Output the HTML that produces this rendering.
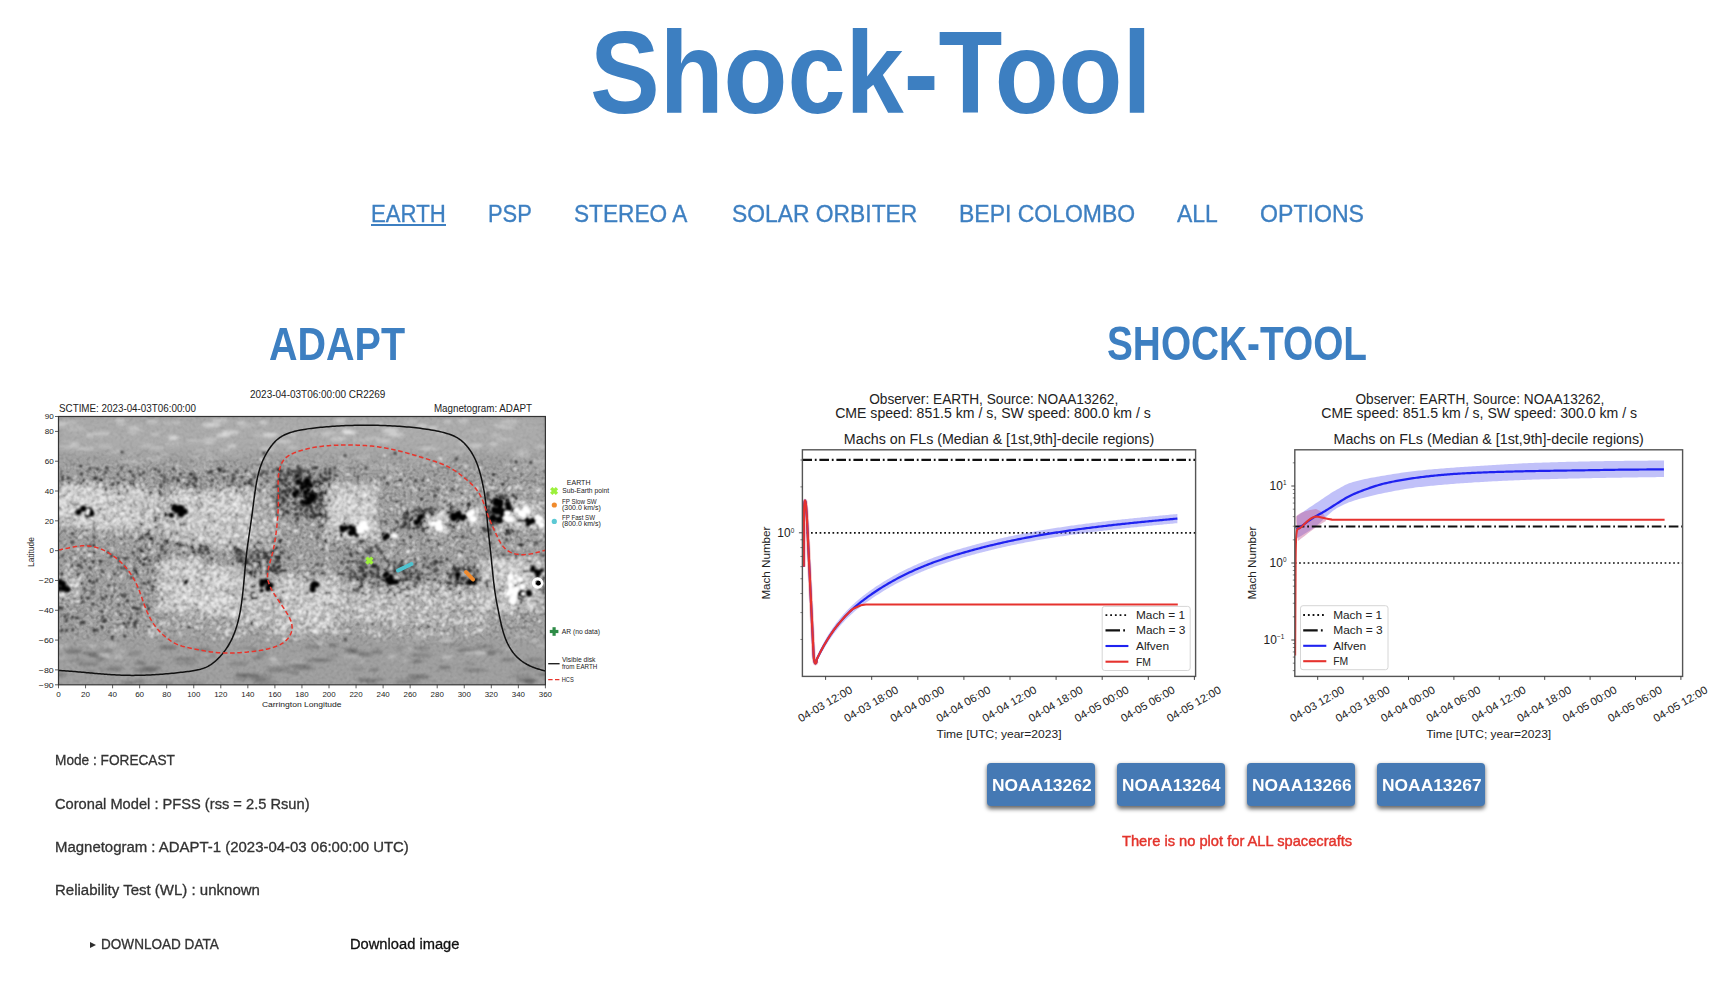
<!DOCTYPE html>
<html><head><meta charset="utf-8"><title>Shock-Tool</title>
<style>
html,body{margin:0;padding:0;background:#fff;width:1722px;height:986px;overflow:hidden}
body{position:relative;font-family:"Liberation Sans",sans-serif}
.t{position:absolute;white-space:nowrap;transform-origin:0 0}
.btn{position:absolute;background:#4579b4;border-radius:4px;box-shadow:0 2.5px 4px rgba(0,0,0,.6)}
svg{position:absolute;left:0;top:0}
svg text{font-family:"Liberation Sans",sans-serif}
</style></head><body>
<svg width="1722" height="986" viewBox="0 0 1722 986">
<defs>
<filter id="b1" x="-50%" y="-50%" width="200%" height="200%"><feGaussianBlur stdDeviation="1.2"/></filter>
<filter id="b2" x="-50%" y="-50%" width="200%" height="200%"><feGaussianBlur stdDeviation="2.5"/></filter>
<filter id="b4" x="-50%" y="-50%" width="200%" height="200%"><feGaussianBlur stdDeviation="5"/></filter>
<filter id="b8" x="-50%" y="-50%" width="200%" height="200%"><feGaussianBlur stdDeviation="8"/></filter>
<filter id="noiseW" x="0" y="0" width="100%" height="100%"><feTurbulence type="fractalNoise" baseFrequency="0.45" numOctaves="1" seed="7"/><feColorMatrix type="matrix" values="0 0 0 0 1  0 0 0 0 1  0 0 0 0 1  0 0 0 -9 4.6"/><feGaussianBlur stdDeviation="0.5"/></filter>
<filter id="noiseB" x="0" y="0" width="100%" height="100%"><feTurbulence type="fractalNoise" baseFrequency="0.45" numOctaves="1" seed="21"/><feColorMatrix type="matrix" values="0 0 0 0 0  0 0 0 0 0  0 0 0 0 0  0 0 0 -9 4.6"/><feGaussianBlur stdDeviation="0.5"/></filter>
<filter id="b09" x="-50%" y="-50%" width="200%" height="200%"><feGaussianBlur stdDeviation="0.9"/></filter>
<filter id="b07" filterUnits="userSpaceOnUse" x="0" y="380" width="620" height="340"><feGaussianBlur stdDeviation="1.0"/></filter>
<filter id="b15" filterUnits="userSpaceOnUse" x="0" y="380" width="620" height="340"><feGaussianBlur stdDeviation="1.5"/></filter>
<filter id="texW" x="0" y="0" width="100%" height="100%"><feTurbulence type="fractalNoise" baseFrequency="0.3" numOctaves="1" seed="77"/><feColorMatrix type="matrix" values="0 0 0 0 1  0 0 0 0 1  0 0 0 0 1  3 0 0 0 -1.4"/><feGaussianBlur stdDeviation="0.6"/></filter>
<filter id="texD" x="0" y="0" width="100%" height="100%"><feTurbulence type="fractalNoise" baseFrequency="0.3" numOctaves="1" seed="91"/><feColorMatrix type="matrix" values="0 0 0 0 0  0 0 0 0 0  0 0 0 0 0  3 0 0 0 -1.4"/><feGaussianBlur stdDeviation="0.6"/></filter>
<filter id="b05" x="-50%" y="-50%" width="200%" height="200%"><feGaussianBlur stdDeviation="0.6"/></filter>
<filter id="nW" x="0" y="0" width="100%" height="100%"><feTurbulence type="fractalNoise" baseFrequency="0.22" numOctaves="1" seed="7"/><feColorMatrix type="matrix" values="0 0 0 0 1  0 0 0 0 1  0 0 0 0 1  14 0 0 0 -8.1"/><feGaussianBlur stdDeviation="0.55"/></filter>
<filter id="nD" x="0" y="0" width="100%" height="100%"><feTurbulence type="fractalNoise" baseFrequency="0.22" numOctaves="1" seed="19"/><feColorMatrix type="matrix" values="0 0 0 0 0  0 0 0 0 0  0 0 0 0 0  14 0 0 0 -8.3"/><feGaussianBlur stdDeviation="0.55"/></filter>
<filter id="nW2" x="0" y="0" width="100%" height="100%"><feTurbulence type="fractalNoise" baseFrequency="0.22" numOctaves="1" seed="41"/><feColorMatrix type="matrix" values="0 0 0 0 1  0 0 0 0 1  0 0 0 0 1  14 0 0 0 -9.0"/><feGaussianBlur stdDeviation="0.55"/></filter>
<filter id="nD2" x="0" y="0" width="100%" height="100%"><feTurbulence type="fractalNoise" baseFrequency="0.22" numOctaves="1" seed="53"/><feColorMatrix type="matrix" values="0 0 0 0 0  0 0 0 0 0  0 0 0 0 0  14 0 0 0 -9.0"/><feGaussianBlur stdDeviation="0.55"/></filter>
<clipPath id="mclip"><rect x="58.5" y="416.5" width="486.9" height="268.3"/></clipPath>
<clipPath id="c1clip"><rect x="802.4" y="449.8" width="393.2" height="226.6"/></clipPath>
<clipPath id="c2clip"><rect x="1294.8" y="449.8" width="387.8" height="226.6"/></clipPath>
</defs>
<g clip-path="url(#mclip)">
<rect x="58.5" y="416.5" width="486.9" height="268.29999999999995" fill="#9f9f9f"/>
<mask id="mG" maskUnits="userSpaceOnUse" x="0" y="380" width="620" height="340"><rect x="30" y="462" width="550" height="175" fill="#fff" filter="url(#b8)"/></mask>
<rect x="58.5" y="416.5" width="486.9" height="268.29999999999995" filter="url(#texW)" opacity="0.07"/>
<rect x="58.5" y="416.5" width="486.9" height="268.29999999999995" filter="url(#texD)" opacity="0.07"/>
<rect x="58.5" y="416.5" width="486.9" height="268.29999999999995" filter="url(#texW)" opacity="0.22" mask="url(#mG)"/>
<rect x="58.5" y="416.5" width="486.9" height="268.29999999999995" filter="url(#texD)" opacity="0.2" mask="url(#mG)"/>
<rect x="58.5" y="416.5" width="486.9" height="36" fill="#fff" opacity="0.13" filter="url(#b4)"/>
<g fill="#fff" filter="url(#b15)"><ellipse cx="363.2" cy="457.1" rx="9.7" ry="2.1" opacity="0.19"/><ellipse cx="509.9" cy="421.5" rx="9.7" ry="2.0" opacity="0.29"/><ellipse cx="499.4" cy="425.7" rx="5.5" ry="1.9" opacity="0.29"/><ellipse cx="339.2" cy="420.7" rx="5.7" ry="2.3" opacity="0.22"/><ellipse cx="433.2" cy="428.0" rx="4.8" ry="2.0" opacity="0.39"/><ellipse cx="120.1" cy="420.1" rx="5.3" ry="1.5" opacity="0.41"/><ellipse cx="539.4" cy="463.6" rx="9.8" ry="1.9" opacity="0.12"/><ellipse cx="390.1" cy="430.2" rx="8.1" ry="2.4" opacity="0.43"/><ellipse cx="495.9" cy="434.9" rx="5.0" ry="1.5" opacity="0.26"/><ellipse cx="89.9" cy="435.1" rx="4.0" ry="2.0" opacity="0.33"/><ellipse cx="223.6" cy="435.5" rx="6.9" ry="1.6" opacity="0.40"/><ellipse cx="293.8" cy="455.2" rx="9.9" ry="1.3" opacity="0.08"/><ellipse cx="425.4" cy="462.2" rx="8.7" ry="1.7" opacity="0.08"/><ellipse cx="341.5" cy="420.5" rx="5.1" ry="2.4" opacity="0.16"/><ellipse cx="154.3" cy="457.8" rx="9.7" ry="1.7" opacity="0.21"/><ellipse cx="231.8" cy="446.2" rx="4.6" ry="2.1" opacity="0.38"/><ellipse cx="448.6" cy="463.0" rx="9.7" ry="1.4" opacity="0.08"/><ellipse cx="225.0" cy="450.5" rx="6.0" ry="2.3" opacity="0.21"/><ellipse cx="325.1" cy="435.6" rx="5.1" ry="1.4" opacity="0.25"/><ellipse cx="130.9" cy="454.5" rx="5.0" ry="1.4" opacity="0.22"/><ellipse cx="541.5" cy="446.7" rx="5.4" ry="2.0" opacity="0.27"/><ellipse cx="462.9" cy="442.8" rx="4.3" ry="2.3" opacity="0.28"/><ellipse cx="74.0" cy="444.7" rx="4.8" ry="2.1" opacity="0.40"/><ellipse cx="523.4" cy="451.5" rx="4.6" ry="1.8" opacity="0.19"/><ellipse cx="131.1" cy="462.2" rx="6.7" ry="2.4" opacity="0.12"/><ellipse cx="475.6" cy="468.8" rx="6.9" ry="2.1" opacity="0.14"/><ellipse cx="292.7" cy="434.6" rx="4.9" ry="1.7" opacity="0.27"/><ellipse cx="542.3" cy="468.0" rx="7.0" ry="1.7" opacity="0.17"/><ellipse cx="101.7" cy="433.6" rx="9.2" ry="1.7" opacity="0.38"/><ellipse cx="443.2" cy="458.7" rx="8.0" ry="2.1" opacity="0.18"/><ellipse cx="236.1" cy="455.2" rx="6.9" ry="2.1" opacity="0.12"/><ellipse cx="396.5" cy="434.7" rx="7.9" ry="1.9" opacity="0.43"/><ellipse cx="63.7" cy="447.3" rx="8.0" ry="1.8" opacity="0.23"/><ellipse cx="458.2" cy="452.4" rx="6.1" ry="2.0" opacity="0.19"/><ellipse cx="419.5" cy="461.4" rx="9.1" ry="2.3" opacity="0.13"/><ellipse cx="395.3" cy="468.8" rx="7.1" ry="1.9" opacity="0.22"/><ellipse cx="139.4" cy="461.8" rx="6.9" ry="2.1" opacity="0.22"/><ellipse cx="410.6" cy="456.5" rx="8.7" ry="1.9" opacity="0.10"/><ellipse cx="384.1" cy="441.0" rx="8.6" ry="2.0" opacity="0.34"/><ellipse cx="411.0" cy="421.4" rx="6.6" ry="2.0" opacity="0.20"/><ellipse cx="165.3" cy="454.3" rx="4.3" ry="1.8" opacity="0.17"/><ellipse cx="168.9" cy="422.7" rx="5.9" ry="1.5" opacity="0.19"/><ellipse cx="152.7" cy="421.8" rx="6.3" ry="2.0" opacity="0.29"/><ellipse cx="347.2" cy="431.9" rx="4.0" ry="1.7" opacity="0.42"/><ellipse cx="194.5" cy="440.5" rx="9.0" ry="1.7" opacity="0.18"/><ellipse cx="75.7" cy="450.7" rx="7.3" ry="1.7" opacity="0.09"/><ellipse cx="342.6" cy="467.9" rx="6.5" ry="2.2" opacity="0.20"/><ellipse cx="372.7" cy="438.5" rx="7.6" ry="1.9" opacity="0.19"/><ellipse cx="527.0" cy="468.4" rx="6.1" ry="2.3" opacity="0.17"/><ellipse cx="58.5" cy="425.4" rx="7.7" ry="1.5" opacity="0.32"/><ellipse cx="366.4" cy="464.6" rx="6.6" ry="1.5" opacity="0.13"/><ellipse cx="200.8" cy="468.6" rx="9.8" ry="2.3" opacity="0.13"/><ellipse cx="349.9" cy="433.0" rx="7.0" ry="1.8" opacity="0.44"/><ellipse cx="214.4" cy="469.2" rx="5.7" ry="1.8" opacity="0.15"/><ellipse cx="117.7" cy="451.1" rx="5.8" ry="2.2" opacity="0.14"/><ellipse cx="463.1" cy="420.7" rx="5.6" ry="2.3" opacity="0.31"/><ellipse cx="441.1" cy="432.3" rx="4.9" ry="2.4" opacity="0.23"/><ellipse cx="201.7" cy="450.4" rx="7.9" ry="2.0" opacity="0.15"/><ellipse cx="422.3" cy="425.9" rx="5.8" ry="1.9" opacity="0.38"/><ellipse cx="222.7" cy="434.8" rx="6.8" ry="1.7" opacity="0.31"/><ellipse cx="423.1" cy="449.5" rx="5.5" ry="1.8" opacity="0.16"/><ellipse cx="507.1" cy="464.4" rx="4.1" ry="2.2" opacity="0.16"/><ellipse cx="267.6" cy="448.8" rx="7.8" ry="1.8" opacity="0.36"/><ellipse cx="504.7" cy="439.3" rx="9.1" ry="1.5" opacity="0.27"/><ellipse cx="203.3" cy="461.5" rx="9.0" ry="2.1" opacity="0.08"/><ellipse cx="270.1" cy="434.3" rx="9.5" ry="1.5" opacity="0.38"/><ellipse cx="292.4" cy="447.5" rx="6.0" ry="1.5" opacity="0.30"/><ellipse cx="345.1" cy="460.6" rx="5.4" ry="2.2" opacity="0.09"/><ellipse cx="446.0" cy="453.2" rx="8.3" ry="2.4" opacity="0.08"/><ellipse cx="547.2" cy="455.1" rx="9.1" ry="1.5" opacity="0.08"/><ellipse cx="374.4" cy="467.6" rx="4.8" ry="1.6" opacity="0.18"/><ellipse cx="507.8" cy="427.5" rx="6.5" ry="1.5" opacity="0.33"/><ellipse cx="363.0" cy="422.2" rx="6.3" ry="1.4" opacity="0.18"/><ellipse cx="86.2" cy="448.8" rx="9.3" ry="1.4" opacity="0.37"/><ellipse cx="269.5" cy="435.7" rx="6.9" ry="2.3" opacity="0.33"/><ellipse cx="241.4" cy="422.8" rx="4.9" ry="2.0" opacity="0.36"/><ellipse cx="305.9" cy="465.5" rx="7.7" ry="1.6" opacity="0.16"/><ellipse cx="328.3" cy="432.7" rx="7.1" ry="1.4" opacity="0.38"/><ellipse cx="172.9" cy="438.6" rx="5.1" ry="2.1" opacity="0.37"/><ellipse cx="379.0" cy="424.3" rx="4.5" ry="1.4" opacity="0.35"/><ellipse cx="349.0" cy="431.9" rx="6.9" ry="1.7" opacity="0.41"/><ellipse cx="448.3" cy="421.5" rx="4.3" ry="1.5" opacity="0.37"/><ellipse cx="524.5" cy="454.1" rx="4.7" ry="2.4" opacity="0.11"/><ellipse cx="383.9" cy="461.0" rx="7.7" ry="1.7" opacity="0.10"/><ellipse cx="173.2" cy="436.7" rx="6.1" ry="1.7" opacity="0.33"/><ellipse cx="124.8" cy="461.6" rx="8.8" ry="1.8" opacity="0.17"/><ellipse cx="475.3" cy="445.9" rx="7.4" ry="2.1" opacity="0.33"/><ellipse cx="251.8" cy="424.8" rx="5.2" ry="1.3" opacity="0.16"/><ellipse cx="493.7" cy="444.0" rx="4.0" ry="1.8" opacity="0.38"/><ellipse cx="494.0" cy="451.0" rx="6.8" ry="1.4" opacity="0.14"/><ellipse cx="133.8" cy="428.0" rx="6.3" ry="2.3" opacity="0.26"/><ellipse cx="132.5" cy="432.7" rx="5.0" ry="1.6" opacity="0.23"/><ellipse cx="173.2" cy="444.1" rx="9.5" ry="1.7" opacity="0.16"/><ellipse cx="517.6" cy="454.4" rx="6.8" ry="2.3" opacity="0.18"/><ellipse cx="115.8" cy="453.4" rx="8.0" ry="2.1" opacity="0.12"/><ellipse cx="138.0" cy="430.1" rx="5.4" ry="1.4" opacity="0.16"/><ellipse cx="254.5" cy="468.7" rx="5.9" ry="1.8" opacity="0.13"/><ellipse cx="196.7" cy="456.6" rx="5.0" ry="1.6" opacity="0.18"/><ellipse cx="387.4" cy="467.0" rx="6.6" ry="2.4" opacity="0.17"/><ellipse cx="61.1" cy="423.0" rx="6.5" ry="1.3" opacity="0.38"/><ellipse cx="326.7" cy="469.5" rx="6.1" ry="1.4" opacity="0.15"/><ellipse cx="92.9" cy="464.9" rx="9.6" ry="1.4" opacity="0.15"/><ellipse cx="177.3" cy="422.5" rx="4.4" ry="1.6" opacity="0.27"/><ellipse cx="257.7" cy="435.3" rx="4.2" ry="2.4" opacity="0.17"/><ellipse cx="145.9" cy="445.4" rx="7.2" ry="1.4" opacity="0.27"/><ellipse cx="211.8" cy="425.4" rx="9.5" ry="2.0" opacity="0.31"/><ellipse cx="477.8" cy="430.7" rx="7.2" ry="1.8" opacity="0.16"/><ellipse cx="338.0" cy="438.8" rx="8.4" ry="2.3" opacity="0.34"/><ellipse cx="208.7" cy="442.5" rx="5.3" ry="1.4" opacity="0.40"/><ellipse cx="210.7" cy="424.4" rx="8.9" ry="1.6" opacity="0.38"/><ellipse cx="121.6" cy="424.1" rx="4.5" ry="1.8" opacity="0.22"/><ellipse cx="340.7" cy="432.3" rx="8.2" ry="1.4" opacity="0.17"/><ellipse cx="155.9" cy="434.3" rx="4.6" ry="1.8" opacity="0.26"/><ellipse cx="211.8" cy="457.6" rx="9.4" ry="2.0" opacity="0.16"/><ellipse cx="430.3" cy="448.7" rx="8.9" ry="2.0" opacity="0.28"/><ellipse cx="525.8" cy="456.4" rx="5.6" ry="2.2" opacity="0.18"/><ellipse cx="245.4" cy="426.5" rx="5.0" ry="1.6" opacity="0.17"/><ellipse cx="389.2" cy="434.3" rx="8.6" ry="1.9" opacity="0.17"/><ellipse cx="71.5" cy="422.5" rx="6.1" ry="2.2" opacity="0.19"/><ellipse cx="523.1" cy="450.6" rx="6.6" ry="1.7" opacity="0.11"/><ellipse cx="219.9" cy="420.6" rx="9.0" ry="2.1" opacity="0.33"/><ellipse cx="104.7" cy="446.5" rx="8.3" ry="1.8" opacity="0.20"/><ellipse cx="517.9" cy="459.7" rx="5.9" ry="2.3" opacity="0.09"/><ellipse cx="283.9" cy="441.7" rx="8.6" ry="2.3" opacity="0.28"/><ellipse cx="319.0" cy="468.5" rx="4.6" ry="2.2" opacity="0.16"/><ellipse cx="263.5" cy="422.6" rx="4.2" ry="1.9" opacity="0.44"/><ellipse cx="294.2" cy="464.1" rx="5.3" ry="1.6" opacity="0.13"/><ellipse cx="156.6" cy="448.1" rx="8.5" ry="1.6" opacity="0.26"/><ellipse cx="230.4" cy="432.4" rx="9.0" ry="2.2" opacity="0.44"/><ellipse cx="360.9" cy="440.0" rx="9.0" ry="1.8" opacity="0.19"/><ellipse cx="76.5" cy="428.5" rx="8.3" ry="2.3" opacity="0.18"/><ellipse cx="155.7" cy="459.9" rx="8.1" ry="2.2" opacity="0.12"/><ellipse cx="363.3" cy="460.0" rx="4.1" ry="1.9" opacity="0.13"/><ellipse cx="345.5" cy="429.2" rx="5.9" ry="1.3" opacity="0.27"/><ellipse cx="210.9" cy="439.1" rx="8.2" ry="1.7" opacity="0.29"/><ellipse cx="539.4" cy="460.8" rx="8.2" ry="2.0" opacity="0.21"/><ellipse cx="321.0" cy="459.9" rx="7.6" ry="2.0" opacity="0.13"/><ellipse cx="313.9" cy="434.2" rx="4.5" ry="1.7" opacity="0.17"/><ellipse cx="342.4" cy="458.0" rx="5.8" ry="2.3" opacity="0.18"/><ellipse cx="192.6" cy="455.8" rx="8.5" ry="2.0" opacity="0.09"/></g>
<g fill="#000" filter="url(#b15)"><ellipse cx="526.9" cy="680.0" rx="10.5" ry="2.0" opacity="0.26"/><ellipse cx="357.4" cy="653.1" rx="9.1" ry="2.1" opacity="0.15"/><ellipse cx="535.6" cy="666.2" rx="8.1" ry="1.2" opacity="0.19"/><ellipse cx="145.3" cy="670.5" rx="12.2" ry="2.1" opacity="0.23"/><ellipse cx="247.5" cy="649.2" rx="10.5" ry="1.8" opacity="0.26"/><ellipse cx="241.3" cy="679.6" rx="6.7" ry="1.5" opacity="0.16"/><ellipse cx="362.9" cy="680.0" rx="6.3" ry="1.8" opacity="0.27"/><ellipse cx="168.1" cy="647.4" rx="9.5" ry="2.0" opacity="0.29"/><ellipse cx="414.7" cy="661.3" rx="8.4" ry="1.7" opacity="0.30"/><ellipse cx="206.1" cy="655.9" rx="9.8" ry="2.2" opacity="0.14"/><ellipse cx="72.9" cy="649.5" rx="9.5" ry="1.8" opacity="0.14"/><ellipse cx="151.2" cy="668.2" rx="10.2" ry="1.9" opacity="0.26"/><ellipse cx="88.1" cy="663.9" rx="11.7" ry="2.2" opacity="0.17"/><ellipse cx="474.7" cy="670.2" rx="12.4" ry="1.4" opacity="0.25"/><ellipse cx="470.0" cy="663.6" rx="5.8" ry="1.4" opacity="0.13"/><ellipse cx="103.5" cy="650.9" rx="9.9" ry="1.3" opacity="0.27"/><ellipse cx="418.7" cy="676.8" rx="11.4" ry="1.9" opacity="0.30"/><ellipse cx="526.9" cy="669.4" rx="12.7" ry="1.3" opacity="0.12"/><ellipse cx="89.6" cy="653.1" rx="8.0" ry="1.7" opacity="0.25"/><ellipse cx="422.0" cy="648.3" rx="8.2" ry="1.7" opacity="0.18"/><ellipse cx="115.6" cy="668.3" rx="8.0" ry="1.9" opacity="0.21"/><ellipse cx="529.7" cy="681.9" rx="5.6" ry="2.0" opacity="0.26"/><ellipse cx="203.0" cy="649.6" rx="8.8" ry="1.6" opacity="0.26"/><ellipse cx="508.0" cy="659.9" rx="7.3" ry="1.7" opacity="0.25"/><ellipse cx="444.6" cy="667.5" rx="7.4" ry="1.5" opacity="0.29"/><ellipse cx="312.4" cy="647.0" rx="8.4" ry="1.4" opacity="0.25"/><ellipse cx="94.0" cy="655.6" rx="5.8" ry="1.7" opacity="0.32"/><ellipse cx="323.3" cy="660.1" rx="12.5" ry="1.3" opacity="0.18"/><ellipse cx="455.3" cy="645.2" rx="11.1" ry="1.6" opacity="0.10"/><ellipse cx="180.9" cy="662.9" rx="8.1" ry="1.7" opacity="0.11"/><ellipse cx="165.1" cy="683.0" rx="8.5" ry="1.7" opacity="0.12"/><ellipse cx="194.8" cy="682.2" rx="10.5" ry="1.7" opacity="0.11"/><ellipse cx="250.4" cy="675.4" rx="8.5" ry="1.8" opacity="0.30"/><ellipse cx="374.1" cy="669.8" rx="5.3" ry="1.2" opacity="0.27"/><ellipse cx="260.5" cy="679.1" rx="11.6" ry="2.1" opacity="0.18"/><ellipse cx="547.5" cy="674.5" rx="12.1" ry="1.3" opacity="0.27"/><ellipse cx="264.8" cy="682.9" rx="13.0" ry="1.4" opacity="0.19"/><ellipse cx="190.7" cy="663.3" rx="7.3" ry="1.9" opacity="0.13"/><ellipse cx="140.9" cy="662.8" rx="5.6" ry="1.6" opacity="0.30"/><ellipse cx="491.8" cy="652.7" rx="5.1" ry="2.0" opacity="0.31"/><ellipse cx="351.5" cy="650.3" rx="6.9" ry="2.1" opacity="0.31"/><ellipse cx="73.2" cy="652.2" rx="8.4" ry="1.5" opacity="0.27"/><ellipse cx="240.7" cy="675.2" rx="6.2" ry="1.7" opacity="0.31"/><ellipse cx="402.0" cy="648.5" rx="5.9" ry="1.8" opacity="0.18"/><ellipse cx="238.7" cy="663.6" rx="9.7" ry="2.2" opacity="0.15"/><ellipse cx="336.6" cy="655.3" rx="9.4" ry="1.9" opacity="0.13"/><ellipse cx="293.8" cy="672.5" rx="5.1" ry="2.0" opacity="0.19"/><ellipse cx="305.0" cy="668.8" rx="11.3" ry="1.3" opacity="0.21"/><ellipse cx="76.8" cy="660.0" rx="7.8" ry="1.2" opacity="0.17"/><ellipse cx="278.5" cy="670.5" rx="12.4" ry="1.6" opacity="0.22"/><ellipse cx="407.5" cy="681.6" rx="12.6" ry="2.2" opacity="0.17"/><ellipse cx="139.7" cy="681.3" rx="5.6" ry="1.6" opacity="0.26"/><ellipse cx="317.1" cy="660.2" rx="12.4" ry="1.5" opacity="0.22"/><ellipse cx="464.5" cy="650.4" rx="7.8" ry="1.7" opacity="0.22"/><ellipse cx="159.6" cy="662.7" rx="5.5" ry="1.3" opacity="0.18"/><ellipse cx="128.5" cy="682.7" rx="7.1" ry="1.5" opacity="0.27"/><ellipse cx="421.2" cy="655.2" rx="11.6" ry="1.8" opacity="0.19"/><ellipse cx="366.1" cy="654.6" rx="7.1" ry="2.1" opacity="0.20"/><ellipse cx="497.7" cy="651.9" rx="6.1" ry="1.3" opacity="0.26"/><ellipse cx="333.0" cy="645.4" rx="5.3" ry="2.0" opacity="0.21"/><ellipse cx="484.9" cy="646.6" rx="9.7" ry="1.3" opacity="0.26"/><ellipse cx="357.5" cy="668.9" rx="6.8" ry="2.1" opacity="0.12"/><ellipse cx="89.4" cy="671.7" rx="5.7" ry="1.3" opacity="0.20"/><ellipse cx="375.9" cy="679.8" rx="10.8" ry="1.3" opacity="0.24"/><ellipse cx="471.4" cy="649.7" rx="11.0" ry="1.5" opacity="0.17"/><ellipse cx="58.7" cy="674.6" rx="9.1" ry="2.1" opacity="0.20"/><ellipse cx="134.2" cy="653.4" rx="7.1" ry="2.1" opacity="0.15"/><ellipse cx="101.2" cy="658.8" rx="5.6" ry="1.6" opacity="0.24"/><ellipse cx="376.8" cy="651.8" rx="6.1" ry="1.7" opacity="0.25"/><ellipse cx="277.1" cy="667.4" rx="12.3" ry="1.3" opacity="0.16"/><ellipse cx="299.9" cy="665.9" rx="12.2" ry="1.8" opacity="0.25"/><ellipse cx="263.6" cy="675.6" rx="11.7" ry="1.5" opacity="0.12"/><ellipse cx="185.0" cy="658.9" rx="12.1" ry="1.5" opacity="0.24"/><ellipse cx="371.9" cy="682.3" rx="5.9" ry="2.0" opacity="0.17"/><ellipse cx="108.4" cy="669.6" rx="11.8" ry="1.8" opacity="0.11"/><ellipse cx="534.3" cy="660.0" rx="10.1" ry="1.9" opacity="0.16"/><ellipse cx="258.1" cy="657.8" rx="5.8" ry="1.3" opacity="0.26"/><ellipse cx="259.2" cy="678.9" rx="5.5" ry="1.5" opacity="0.14"/><ellipse cx="520.3" cy="675.8" rx="12.2" ry="1.7" opacity="0.12"/><ellipse cx="261.9" cy="653.8" rx="5.2" ry="1.8" opacity="0.16"/></g>
<g fill="#fff" filter="url(#b15)"><ellipse cx="110.8" cy="644.6" rx="7.7" ry="2.0" opacity="0.27"/><ellipse cx="108.3" cy="656.9" rx="3.6" ry="1.6" opacity="0.17"/><ellipse cx="541.7" cy="646.1" rx="5.2" ry="1.4" opacity="0.29"/><ellipse cx="534.7" cy="640.5" rx="4.0" ry="1.6" opacity="0.38"/><ellipse cx="245.1" cy="650.4" rx="7.6" ry="1.5" opacity="0.35"/><ellipse cx="317.2" cy="626.7" rx="3.3" ry="2.0" opacity="0.27"/><ellipse cx="275.2" cy="664.0" rx="5.9" ry="1.6" opacity="0.22"/><ellipse cx="422.6" cy="632.3" rx="5.4" ry="1.8" opacity="0.30"/><ellipse cx="123.8" cy="629.7" rx="6.5" ry="1.8" opacity="0.18"/><ellipse cx="546.8" cy="626.4" rx="3.8" ry="1.3" opacity="0.26"/><ellipse cx="361.6" cy="661.2" rx="3.8" ry="1.8" opacity="0.18"/><ellipse cx="342.4" cy="632.1" rx="4.8" ry="1.2" opacity="0.33"/><ellipse cx="117.9" cy="656.7" rx="4.7" ry="1.7" opacity="0.31"/><ellipse cx="297.5" cy="661.9" rx="7.6" ry="1.4" opacity="0.23"/><ellipse cx="487.7" cy="626.4" rx="5.1" ry="1.5" opacity="0.39"/><ellipse cx="120.8" cy="651.4" rx="6.8" ry="1.8" opacity="0.15"/><ellipse cx="520.4" cy="635.0" rx="7.3" ry="1.7" opacity="0.26"/><ellipse cx="468.5" cy="652.4" rx="4.7" ry="1.8" opacity="0.28"/><ellipse cx="406.7" cy="649.5" rx="7.0" ry="1.3" opacity="0.27"/><ellipse cx="58.6" cy="658.0" rx="6.9" ry="1.9" opacity="0.16"/><ellipse cx="320.3" cy="643.0" rx="3.6" ry="1.4" opacity="0.39"/><ellipse cx="475.8" cy="631.4" rx="7.1" ry="1.7" opacity="0.25"/><ellipse cx="373.9" cy="631.0" rx="4.4" ry="1.2" opacity="0.31"/><ellipse cx="342.9" cy="655.7" rx="5.5" ry="1.5" opacity="0.23"/><ellipse cx="418.3" cy="637.9" rx="6.0" ry="1.8" opacity="0.26"/><ellipse cx="394.2" cy="623.0" rx="4.3" ry="1.9" opacity="0.19"/><ellipse cx="85.8" cy="620.7" rx="6.8" ry="1.3" opacity="0.26"/><ellipse cx="272.8" cy="658.5" rx="5.4" ry="1.6" opacity="0.16"/><ellipse cx="447.7" cy="656.8" rx="6.1" ry="1.9" opacity="0.30"/><ellipse cx="408.8" cy="660.8" rx="6.1" ry="1.2" opacity="0.37"/><ellipse cx="542.9" cy="629.7" rx="3.3" ry="1.5" opacity="0.18"/><ellipse cx="239.0" cy="624.3" rx="4.1" ry="1.2" opacity="0.26"/><ellipse cx="205.0" cy="655.0" rx="4.9" ry="1.3" opacity="0.39"/><ellipse cx="496.3" cy="653.1" rx="4.1" ry="1.5" opacity="0.26"/><ellipse cx="258.3" cy="621.3" rx="5.3" ry="1.8" opacity="0.32"/><ellipse cx="479.5" cy="652.8" rx="6.8" ry="1.9" opacity="0.38"/><ellipse cx="446.6" cy="640.0" rx="6.3" ry="1.7" opacity="0.37"/><ellipse cx="407.7" cy="641.3" rx="4.0" ry="1.5" opacity="0.21"/><ellipse cx="392.1" cy="656.9" rx="4.0" ry="1.6" opacity="0.36"/><ellipse cx="237.2" cy="624.5" rx="6.0" ry="1.5" opacity="0.19"/><ellipse cx="199.1" cy="620.3" rx="3.7" ry="1.5" opacity="0.18"/><ellipse cx="60.9" cy="646.4" rx="7.8" ry="1.9" opacity="0.23"/><ellipse cx="511.0" cy="623.8" rx="3.8" ry="1.2" opacity="0.16"/><ellipse cx="352.9" cy="656.3" rx="5.4" ry="1.8" opacity="0.26"/><ellipse cx="508.2" cy="649.2" rx="5.7" ry="1.3" opacity="0.26"/><ellipse cx="273.8" cy="659.5" rx="4.1" ry="1.4" opacity="0.35"/><ellipse cx="92.7" cy="645.8" rx="4.1" ry="1.7" opacity="0.30"/><ellipse cx="104.2" cy="655.1" rx="5.0" ry="1.5" opacity="0.36"/><ellipse cx="439.6" cy="634.9" rx="6.4" ry="1.3" opacity="0.28"/><ellipse cx="98.4" cy="650.8" rx="7.6" ry="1.7" opacity="0.16"/></g>
<rect x="58.5" y="440" width="486.9" height="210" fill="#fff" opacity="0.18" mask="url(#mW)"/>
<mask id="mW" maskUnits="userSpaceOnUse" x="0" y="380" width="620" height="340"><g filter="url(#b4)"><rect x="60" y="487" width="40" height="37" rx="6" fill="#fff" opacity="1.0"/><rect x="100" y="489" width="40" height="38" rx="6" fill="#fff" opacity="0.95"/><rect x="140" y="493" width="35" height="39" rx="6" fill="#fff" opacity="0.6"/><rect x="175" y="494" width="40" height="46" rx="6" fill="#fff" opacity="0.95"/><rect x="215" y="492" width="37" height="53" rx="6" fill="#fff" opacity="0.95"/><rect x="252" y="478" width="23" height="67" rx="6" fill="#fff" opacity="0.35"/><rect x="328" y="487" width="46" height="50" rx="6" fill="#fff" opacity="1.0"/><rect x="429" y="517" width="16" height="15" rx="6" fill="#fff" opacity="0.9"/><rect x="465" y="508" width="16" height="14" rx="6" fill="#fff" opacity="0.9"/><rect x="502" y="505" width="43" height="23" rx="6" fill="#fff" opacity="0.75"/><rect x="444" y="488" width="101" height="18" rx="6" fill="#fff" opacity="0.2"/><rect x="160" y="562" width="40" height="48" rx="6" fill="#fff" opacity="0.9"/><rect x="200" y="568" width="40" height="47" rx="6" fill="#fff" opacity="1.0"/><rect x="240" y="578" width="40" height="44" rx="6" fill="#fff" opacity="0.85"/><rect x="277" y="578" width="58" height="52" rx="6" fill="#fff" opacity="0.9"/><rect x="335" y="586" width="85" height="36" rx="6" fill="#fff" opacity="0.6"/><rect x="420" y="588" width="63" height="34" rx="6" fill="#fff" opacity="0.55"/><rect x="483" y="562" width="60" height="46" rx="6" fill="#fff" opacity="0.95"/><rect x="150" y="615" width="330" height="20" rx="6" fill="#fff" opacity="0.25"/><rect x="62" y="575" width="18" height="23" rx="6" fill="#fff" opacity="0.5"/></g></mask>
<g filter="url(#b07)" fill="none" stroke-linecap="round">
<path d="M208.9 453.9h0M211.7 458.9h0M267.5 458.9h0M121.6 475.7h0M127.7 475.2h0M152.9 474.7h0M317.6 474.3h0M119.1 477.8h0M275.8 478.1h0M105.6 480.3h0M257.8 480.7h0M260.2 481.2h0M459.4 480.8h0M78.3 484.9h0M85.0 484.1h0M102.1 484.3h0M106.8 484.6h0M257.2 484.8h0M274.0 484.0h0M326.4 484.3h0M332.3 484.5h0M335.9 484.1h0M58.8 487.2h0M62.9 486.8h0M84.2 487.8h0M93.8 487.3h0M96.1 486.3h0M131.2 487.2h0M137.2 486.9h0M140.2 487.9h0M142.8 487.9h0M257.2 486.5h0M269.8 487.7h0M342.1 487.9h0M345.2 488.0h0M360.6 486.8h0M368.7 486.9h0M373.4 486.8h0M465.3 486.5h0M511.8 487.8h0M68.2 489.6h0M81.1 490.1h0M94.1 489.9h0M109.2 489.5h0M112.5 491.1h0M115.4 489.9h0M165.0 489.6h0M174.3 490.9h0M198.9 489.8h0M238.6 490.3h0M248.9 489.9h0M252.1 490.3h0M266.7 490.5h0M273.6 490.9h0M307.5 489.7h0M316.2 490.0h0M332.0 489.5h0M335.7 490.7h0M339.2 491.1h0M347.2 490.1h0M351.3 490.1h0M360.3 489.4h0M369.6 489.9h0M375.2 490.6h0M407.4 490.6h0M475.7 490.1h0M527.2 490.6h0M65.5 492.7h0M87.0 493.2h0M91.2 492.7h0M105.4 493.7h0M167.3 493.4h0M174.3 492.7h0M177.7 492.9h0M184.4 493.6h0M186.3 493.8h0M190.6 493.5h0M201.7 493.1h0M217.7 494.2h0M239.9 493.8h0M249.0 493.2h0M265.0 493.8h0M331.5 493.2h0M335.9 493.8h0M353.6 492.6h0M358.0 492.8h0M375.2 492.9h0M533.7 493.9h0M58.7 495.7h0M71.5 495.8h0M82.0 497.3h0M96.6 496.3h0M105.6 496.9h0M140.2 496.2h0M177.5 496.8h0M192.7 497.0h0M205.0 496.0h0M218.1 497.2h0M247.8 495.9h0M264.5 496.7h0M291.3 496.0h0M329.4 496.3h0M348.4 497.3h0M372.4 497.0h0M376.4 496.8h0M493.5 496.5h0M536.2 496.6h0M71.0 500.0h0M93.9 499.3h0M119.2 499.0h0M127.5 499.6h0M133.5 500.4h0M136.4 500.0h0M221.5 498.9h0M245.8 499.8h0M248.0 499.6h0M267.3 500.5h0M298.5 499.4h0M326.0 499.3h0M332.2 500.0h0M354.5 500.0h0M357.4 500.2h0M484.0 500.5h0M496.5 500.0h0M521.2 499.7h0M68.2 503.1h0M78.7 502.4h0M106.1 502.0h0M122.4 503.5h0M127.3 502.4h0M140.1 503.1h0M148.6 501.9h0M174.2 502.8h0M184.2 501.9h0M195.3 502.8h0M213.8 503.5h0M229.8 501.9h0M249.0 503.5h0M325.6 502.3h0M328.6 503.0h0M331.7 503.5h0M357.0 502.8h0M366.3 503.5h0M369.4 502.4h0M487.9 502.8h0M511.4 503.1h0M534.2 502.1h0M127.0 506.1h0M133.1 506.0h0M153.0 506.3h0M154.9 505.7h0M167.9 505.5h0M182.6 505.7h0M193.0 506.4h0M273.6 505.4h0M291.6 505.9h0M329.2 505.2h0M333.1 506.5h0M341.9 506.7h0M376.0 506.2h0M460.3 506.6h0M480.8 505.8h0M492.6 506.6h0M502.6 506.4h0M512.9 506.6h0M68.0 509.3h0M87.8 508.8h0M103.0 508.6h0M105.3 508.1h0M139.2 509.3h0M165.6 508.4h0M167.4 509.0h0M174.8 508.5h0M185.8 508.2h0M196.2 508.8h0M220.7 509.1h0M242.2 509.5h0M326.9 509.1h0M341.5 508.8h0M357.8 508.1h0M369.9 509.4h0M373.1 509.8h0M410.5 508.8h0M463.4 508.4h0M465.0 509.5h0M472.1 509.3h0M474.3 509.0h0M493.7 508.8h0M506.1 508.0h0M531.2 509.1h0M537.3 509.0h0M64.9 511.4h0M81.5 512.9h0M133.4 512.2h0M146.7 511.8h0M174.7 512.3h0M180.5 511.7h0M199.4 511.6h0M212.0 512.1h0M214.0 511.2h0M221.0 512.7h0M229.4 511.7h0M232.2 512.4h0M245.2 512.8h0M252.3 511.8h0M254.8 511.6h0M258.5 511.9h0M266.6 512.8h0M322.9 511.2h0M333.0 512.1h0M345.0 512.1h0M463.3 512.2h0M468.4 512.6h0M471.0 511.2h0M481.7 511.3h0M71.7 515.1h0M74.9 515.5h0M93.6 515.7h0M97.0 515.6h0M105.5 515.3h0M115.8 515.5h0M131.0 515.0h0M139.9 514.6h0M144.0 514.5h0M155.6 514.4h0M176.8 515.6h0M180.3 515.3h0M184.2 515.0h0M188.9 514.3h0M192.9 515.1h0M195.7 515.9h0M206.0 515.2h0M211.9 514.5h0M224.5 515.4h0M227.3 515.4h0M230.8 515.1h0M245.2 514.7h0M329.0 515.9h0M335.8 514.4h0M345.2 514.9h0M365.8 514.5h0M372.7 514.5h0M374.9 514.3h0M447.8 515.9h0M472.2 515.6h0M475.7 515.1h0M477.5 515.4h0M496.8 514.9h0M499.8 515.6h0M503.0 515.6h0M516.0 515.7h0M519.1 514.9h0M533.8 515.7h0M536.9 515.6h0M539.4 515.8h0M77.9 518.5h0M106.7 517.4h0M150.2 517.4h0M161.2 518.2h0M168.5 518.0h0M179.5 518.5h0M195.8 518.7h0M199.3 518.6h0M205.2 518.9h0M207.9 517.7h0M211.4 518.6h0M233.0 518.5h0M242.0 518.3h0M266.4 517.5h0M335.6 517.4h0M338.5 517.4h0M348.0 519.0h0M365.8 518.7h0M373.1 518.9h0M416.0 518.4h0M431.8 518.8h0M444.0 517.4h0M481.4 518.4h0M496.8 518.1h0M502.4 518.9h0M508.3 517.7h0M511.8 518.4h0M515.2 518.0h0M524.7 517.5h0M536.7 517.7h0M540.4 518.1h0M542.6 518.9h0M71.8 521.3h0M74.6 521.8h0M87.7 521.1h0M97.0 520.6h0M118.8 520.9h0M140.8 520.7h0M152.3 521.7h0M180.7 521.2h0M183.5 521.0h0M192.5 520.5h0M195.9 521.4h0M207.7 520.8h0M220.4 521.1h0M226.9 521.0h0M274.1 521.5h0M328.5 521.7h0M331.9 520.5h0M337.8 521.0h0M347.6 521.9h0M360.4 521.3h0M430.9 520.5h0M437.2 521.3h0M440.5 520.8h0M444.4 520.9h0M453.4 521.8h0M462.1 521.4h0M464.9 521.5h0M469.0 520.9h0M478.4 522.0h0M480.7 522.0h0M502.3 521.4h0M506.6 520.6h0M508.8 521.4h0M515.4 520.7h0M59.3 525.3h0M66.3 525.0h0M68.0 525.0h0M72.7 523.5h0M80.6 523.5h0M90.0 524.5h0M96.0 523.7h0M124.2 523.6h0M134.4 524.3h0M137.8 525.3h0M152.6 523.7h0M162.4 524.3h0M174.6 525.1h0M185.9 524.5h0M195.4 524.0h0M202.7 524.8h0M205.7 524.1h0M209.0 523.9h0M211.6 524.7h0M219.8 524.9h0M223.6 524.9h0M227.1 525.0h0M230.4 524.7h0M235.8 523.6h0M240.1 524.7h0M242.5 525.1h0M326.3 524.7h0M332.3 525.2h0M348.2 524.5h0M354.5 524.8h0M356.3 524.5h0M360.6 524.8h0M369.3 524.1h0M391.5 524.3h0M425.3 525.0h0M434.4 524.8h0M440.2 525.1h0M443.5 523.9h0M481.4 524.0h0M502.7 524.9h0M506.1 524.8h0M531.3 524.8h0M534.1 524.8h0M540.2 524.2h0M542.5 524.9h0M68.4 527.4h0M71.9 527.6h0M105.8 526.8h0M115.0 527.3h0M139.4 527.6h0M171.0 526.8h0M180.6 527.5h0M187.5 526.9h0M195.8 528.0h0M199.9 526.7h0M216.9 528.0h0M220.7 527.5h0M223.1 527.9h0M227.5 528.2h0M235.9 528.2h0M255.6 527.4h0M268.0 527.6h0M273.1 527.9h0M326.8 528.1h0M329.5 527.3h0M332.0 527.5h0M335.8 527.7h0M341.9 527.6h0M356.7 527.3h0M362.6 527.6h0M384.5 528.0h0M462.9 527.7h0M497.3 526.6h0M502.3 527.1h0M506.5 527.0h0M515.2 527.8h0M536.8 527.4h0M540.6 528.0h0M125.3 529.7h0M152.8 530.6h0M155.7 531.0h0M173.7 530.0h0M177.7 530.3h0M180.5 530.4h0M184.3 529.8h0M185.8 530.7h0M193.5 530.8h0M195.8 529.7h0M198.3 530.3h0M206.0 530.5h0M212.0 530.2h0M219.8 531.3h0M223.3 530.5h0M227.1 529.8h0M242.0 530.7h0M252.3 529.9h0M255.4 531.4h0M258.1 529.8h0M279.2 529.9h0M329.4 531.4h0M332.1 530.9h0M338.5 531.3h0M341.7 530.4h0M344.2 531.4h0M348.0 531.2h0M350.5 530.2h0M353.7 531.3h0M356.8 529.9h0M362.5 530.6h0M368.9 530.8h0M372.8 531.2h0M430.8 530.4h0M437.9 530.8h0M503.1 530.1h0M158.6 533.3h0M173.3 533.7h0M180.2 533.1h0M186.6 533.8h0M193.2 533.4h0M199.2 533.7h0M204.7 534.6h0M210.7 533.9h0M221.3 533.0h0M223.2 533.4h0M226.8 533.7h0M243.1 533.5h0M251.2 533.2h0M263.7 533.4h0M326.0 533.1h0M332.5 534.5h0M336.2 533.5h0M338.0 533.1h0M350.2 534.1h0M353.8 534.1h0M360.4 533.5h0M362.7 534.0h0M369.5 533.1h0M378.8 534.4h0M438.3 534.1h0M189.2 536.5h0M193.3 537.4h0M196.0 536.1h0M205.8 537.2h0M208.3 537.5h0M221.3 536.7h0M233.4 536.1h0M273.3 535.9h0M326.7 537.1h0M329.9 537.0h0M332.5 537.6h0M344.2 537.0h0M432.0 537.7h0M440.4 536.3h0M443.8 536.9h0M512.9 536.9h0M157.9 539.9h0M174.6 539.5h0M183.1 540.1h0M189.5 539.2h0M195.3 539.0h0M227.6 540.1h0M233.9 539.7h0M235.5 539.4h0M242.0 540.0h0M295.8 540.4h0M336.2 540.0h0M354.3 540.7h0M370.3 540.1h0M372.3 540.5h0M407.2 539.7h0M497.0 539.3h0M140.1 543.4h0M183.7 542.3h0M192.0 543.0h0M199.5 542.8h0M202.6 542.4h0M205.0 542.4h0M211.9 542.9h0M215.0 543.2h0M218.4 542.6h0M234.0 543.5h0M235.9 542.6h0M244.9 542.3h0M247.9 542.9h0M251.9 542.6h0M263.7 542.3h0M276.7 543.9h0M387.5 542.4h0M435.4 543.1h0M497.4 543.2h0M173.8 547.0h0M218.1 546.2h0M221.6 546.1h0M223.4 546.4h0M242.3 545.8h0M249.2 545.9h0M250.9 546.4h0M258.0 547.0h0M265.0 546.7h0M267.3 546.8h0M63.4 549.5h0M153.2 549.9h0M211.8 549.4h0M245.0 549.4h0M252.3 548.4h0M261.6 548.9h0M266.8 549.9h0M269.8 548.7h0M213.6 554.8h0M373.0 555.3h0M179.8 558.7h0M229.4 557.7h0M282.8 558.4h0M521.2 558.0h0M533.5 557.7h0M543.8 559.1h0M114.9 560.7h0M186.0 562.0h0M202.5 560.9h0M505.2 561.5h0M509.1 562.4h0M514.8 561.0h0M517.6 561.4h0M524.0 561.0h0M543.2 562.1h0M171.9 563.9h0M199.5 565.1h0M235.8 564.7h0M239.5 565.6h0M329.8 565.3h0M353.9 564.4h0M385.7 565.6h0M419.8 565.2h0M481.8 564.1h0M515.5 565.0h0M525.1 564.7h0M527.7 565.3h0M530.5 563.9h0M533.4 565.3h0M536.9 564.4h0M543.0 564.6h0M156.5 567.4h0M186.8 568.7h0M209.0 567.2h0M223.1 568.1h0M233.3 568.1h0M236.5 568.1h0M239.7 568.6h0M242.4 568.0h0M245.1 567.1h0M301.5 568.1h0M487.0 567.0h0M494.1 567.9h0M505.4 567.6h0M522.1 568.0h0M533.4 568.6h0M536.9 567.2h0M165.8 571.7h0M167.6 570.7h0M175.0 571.4h0M204.9 571.6h0M210.8 571.0h0M227.7 571.2h0M230.5 570.7h0M235.8 570.3h0M239.4 570.5h0M342.0 570.3h0M412.1 570.2h0M425.6 571.1h0M481.4 570.5h0M483.9 570.7h0M487.0 571.1h0M494.2 570.2h0M508.2 570.6h0M518.9 570.6h0M521.6 570.0h0M530.6 571.2h0M534.4 570.3h0M540.1 571.2h0M542.6 570.6h0M159.3 574.4h0M165.4 573.3h0M180.3 573.6h0M189.1 574.9h0M195.6 574.1h0M202.3 573.6h0M209.2 574.2h0M229.4 574.5h0M236.6 574.1h0M239.0 573.2h0M241.9 573.7h0M258.0 573.8h0M264.1 573.7h0M270.3 574.6h0M283.1 573.9h0M316.7 574.6h0M334.9 574.5h0M462.8 573.8h0M466.2 573.3h0M481.7 574.3h0M493.8 574.7h0M516.0 573.5h0M518.1 573.5h0M521.5 574.8h0M533.5 574.4h0M161.7 576.6h0M167.8 577.4h0M174.2 578.0h0M186.1 577.9h0M199.3 576.4h0M212.1 577.1h0M230.6 577.5h0M233.6 577.2h0M237.1 577.3h0M239.9 576.6h0M242.6 576.2h0M245.0 578.0h0M257.3 577.9h0M261.4 578.0h0M263.7 576.8h0M266.6 577.2h0M271.0 577.0h0M277.1 577.2h0M279.8 577.3h0M282.3 577.9h0M314.1 577.7h0M317.3 576.3h0M320.5 578.0h0M323.7 577.2h0M325.9 577.2h0M330.0 576.8h0M494.3 577.0h0M497.2 577.7h0M499.5 576.4h0M505.4 576.6h0M521.3 577.7h0M528.5 577.5h0M534.1 577.9h0M540.4 576.9h0M165.7 580.7h0M168.5 579.4h0M173.4 581.0h0M195.2 579.5h0M249.2 580.2h0M252.0 580.4h0M255.2 580.1h0M257.1 580.4h0M261.6 580.9h0M263.3 579.7h0M276.4 580.5h0M291.5 580.4h0M301.3 580.1h0M303.6 580.1h0M323.1 579.9h0M353.7 579.8h0M372.9 580.8h0M495.8 580.3h0M499.4 581.0h0M502.6 580.6h0M512.0 580.2h0M518.0 580.6h0M524.9 579.6h0M530.8 580.8h0M61.8 583.2h0M74.7 583.8h0M156.4 582.7h0M171.8 584.1h0M195.2 584.0h0M201.2 583.7h0M208.6 582.7h0M226.1 584.0h0M239.0 584.0h0M242.5 583.9h0M249.0 584.0h0M266.8 582.4h0M270.8 583.2h0M272.6 582.5h0M277.2 582.8h0M279.8 582.8h0M283.4 584.1h0M304.1 583.3h0M307.7 583.0h0M314.0 582.7h0M316.7 583.3h0M319.5 583.5h0M345.2 583.8h0M357.6 583.2h0M381.7 583.5h0M400.3 583.9h0M434.6 583.9h0M436.9 584.1h0M490.7 583.9h0M499.0 582.6h0M511.5 584.0h0M515.4 582.9h0M518.6 582.5h0M524.9 583.6h0M536.2 583.7h0M540.1 583.4h0M543.7 583.4h0M174.0 585.8h0M186.1 587.1h0M192.7 585.6h0M205.6 586.1h0M220.5 585.8h0M224.3 585.7h0M229.5 585.6h0M232.2 587.2h0M237.0 585.9h0M240.0 585.8h0M245.8 587.2h0M257.9 586.3h0M264.2 586.8h0M267.2 585.9h0M277.0 586.0h0M280.0 586.6h0M285.2 586.6h0M295.5 586.2h0M305.3 586.0h0M307.4 587.0h0M311.5 586.0h0M316.4 586.5h0M326.1 587.0h0M332.7 587.0h0M348.3 586.3h0M353.2 586.2h0M365.8 586.0h0M369.9 585.9h0M384.7 586.8h0M391.7 586.2h0M410.1 587.2h0M419.6 586.9h0M462.6 587.1h0M483.6 585.7h0M494.4 587.2h0M500.1 586.6h0M506.1 586.3h0M513.0 587.2h0M524.3 585.6h0M78.3 590.1h0M173.8 589.4h0M196.2 589.9h0M199.7 589.0h0M204.7 589.2h0M218.4 589.0h0M230.5 588.7h0M232.5 589.1h0M239.3 590.2h0M242.2 590.1h0M248.5 589.4h0M251.3 590.1h0M254.7 589.6h0M257.3 589.4h0M260.3 588.8h0M267.1 589.2h0M276.7 590.2h0M285.4 589.6h0M299.1 589.2h0M301.9 588.8h0M305.2 589.0h0M307.4 590.4h0M314.2 588.7h0M316.3 590.1h0M320.0 589.9h0M322.2 589.4h0M345.2 589.7h0M350.2 588.6h0M362.5 589.7h0M367.2 588.7h0M373.3 588.8h0M379.7 590.3h0M385.2 590.3h0M394.7 590.2h0M412.5 590.1h0M424.4 590.0h0M456.7 590.2h0M481.2 589.2h0M487.1 590.1h0M491.2 589.0h0M493.7 590.3h0M502.5 588.8h0M528.3 589.5h0M530.9 589.6h0M534.3 590.2h0M536.4 589.5h0M72.2 592.7h0M74.6 593.4h0M167.8 592.8h0M193.3 592.9h0M198.9 593.5h0M210.7 591.9h0M232.7 593.1h0M235.3 592.9h0M239.6 592.4h0M245.6 592.7h0M248.8 591.9h0M257.0 592.6h0M270.9 592.7h0M279.8 592.2h0M285.8 592.0h0M297.7 592.5h0M304.4 592.0h0M320.3 592.1h0M345.6 592.7h0M372.5 592.8h0M391.3 593.0h0M415.7 592.7h0M425.4 591.9h0M486.9 593.3h0M489.7 593.1h0M502.2 593.4h0M512.3 592.0h0M520.6 592.1h0M523.7 592.9h0M527.3 592.5h0M537.3 592.0h0M540.2 592.8h0M64.9 596.1h0M77.6 595.2h0M110.0 594.9h0M180.5 595.6h0M196.6 596.4h0M210.5 594.9h0M220.2 596.0h0M236.5 595.9h0M239.2 595.6h0M243.0 596.2h0M249.4 596.1h0M258.2 595.3h0M263.9 596.0h0M267.0 595.1h0M270.9 596.1h0M272.9 596.0h0M279.1 595.3h0M304.0 595.4h0M312.9 595.9h0M316.9 595.2h0M363.1 596.2h0M399.6 594.8h0M443.3 595.8h0M463.2 595.4h0M469.0 596.2h0M481.5 595.7h0M483.9 594.8h0M487.4 596.0h0M490.1 595.2h0M496.6 596.5h0M503.4 595.1h0M515.4 595.1h0M520.8 595.5h0M524.8 595.6h0M530.9 596.0h0M537.3 595.0h0M539.3 595.1h0M542.3 596.0h0M59.0 598.9h0M65.8 598.8h0M171.6 598.2h0M199.6 598.3h0M248.7 598.0h0M267.7 599.3h0M269.5 599.4h0M273.6 599.0h0M277.1 598.6h0M283.3 598.7h0M304.2 599.0h0M307.9 598.5h0M311.5 599.5h0M357.5 598.6h0M381.2 598.0h0M385.3 599.5h0M438.2 599.7h0M447.6 599.3h0M460.3 599.3h0M480.7 599.5h0M491.0 598.7h0M500.6 598.7h0M502.1 598.5h0M524.4 598.3h0M533.6 598.5h0M537.2 598.5h0M539.6 599.5h0M543.4 599.0h0M75.0 601.2h0M165.7 601.6h0M208.2 601.6h0M236.7 601.3h0M251.8 602.0h0M257.6 601.7h0M260.2 601.3h0M266.8 601.2h0M274.2 601.3h0M277.4 601.2h0M288.6 601.0h0M292.1 602.0h0M310.2 601.9h0M329.5 601.0h0M372.7 602.5h0M397.6 602.6h0M403.5 602.7h0M405.9 601.0h0M434.7 602.7h0M437.9 601.1h0M452.5 601.7h0M457.1 601.2h0M463.2 602.6h0M472.6 602.0h0M496.6 601.8h0M502.3 601.8h0M505.7 601.2h0M515.0 601.2h0M517.9 601.3h0M524.4 602.7h0M527.9 602.7h0M529.9 602.5h0M533.5 602.0h0M540.2 601.5h0M154.8 604.6h0M224.3 604.3h0M236.8 605.9h0M254.3 605.5h0M257.3 604.8h0M264.9 605.3h0M280.3 605.7h0M282.1 605.8h0M292.0 604.5h0M307.3 605.2h0M322.6 605.0h0M326.8 604.8h0M418.8 605.6h0M466.3 604.5h0M492.8 605.1h0M505.8 604.5h0M508.4 605.7h0M518.1 604.5h0M520.5 605.9h0M524.8 605.0h0M153.2 608.3h0M168.3 607.7h0M173.6 607.7h0M192.0 607.9h0M195.1 607.6h0M224.3 608.8h0M229.5 608.6h0M276.1 608.9h0M288.6 608.0h0M298.6 608.8h0M305.0 607.9h0M329.6 607.7h0M334.6 608.9h0M365.8 608.6h0M373.2 607.8h0M378.2 608.2h0M406.3 608.6h0M438.1 608.7h0M478.0 608.3h0M497.4 607.6h0M499.3 608.3h0M509.7 608.6h0M527.0 608.2h0M532.9 608.0h0M536.5 608.5h0M72.8 610.3h0M168.7 610.8h0M226.1 610.7h0M239.1 611.2h0M283.3 610.6h0M285.9 610.4h0M333.0 611.7h0M366.5 611.0h0M376.1 611.5h0M405.9 610.9h0M432.3 611.2h0M444.7 611.1h0M446.3 611.1h0M475.1 610.3h0M196.3 615.0h0M220.8 614.3h0M250.9 614.0h0M273.0 614.4h0M277.0 613.5h0M285.9 614.2h0M295.7 614.4h0M298.3 614.6h0M322.8 614.3h0M334.7 613.5h0M360.2 614.8h0M366.9 613.9h0M430.7 614.3h0M469.5 614.4h0M483.9 614.9h0M500.5 613.5h0M229.4 617.7h0M255.2 616.8h0M263.5 617.0h0M299.1 617.0h0M396.6 618.1h0M425.5 616.8h0M459.7 616.8h0M475.4 618.1h0M477.3 617.0h0M490.9 618.2h0M176.7 620.3h0M181.1 619.7h0M261.7 620.5h0M282.5 620.4h0M292.5 620.0h0M295.5 620.6h0M304.5 621.2h0M310.5 619.9h0M331.9 620.6h0M335.7 619.9h0M364.0 621.4h0M394.2 621.1h0M397.7 620.0h0M403.2 620.8h0M415.8 619.8h0M455.6 621.1h0M149.8 623.4h0M270.0 623.6h0M285.6 624.4h0M313.4 622.8h0M316.5 624.3h0M354.3 622.8h0M375.6 623.8h0M399.7 623.0h0M434.5 624.1h0M450.0 624.0h0M484.1 623.6h0M165.0 626.1h0M177.4 627.2h0M270.7 627.3h0M272.8 626.3h0M370.2 626.1h0M433.9 626.3h0M117.8 629.9h0M154.7 629.0h0M245.1 630.0h0M274.1 629.0h0M289.5 629.1h0M320.5 629.9h0M370.1 629.4h0M394.9 629.2h0M397.5 630.7h0M401.0 629.8h0M409.1 630.7h0M416.4 630.2h0M421.9 630.1h0M483.4 629.0h0M220.3 632.3h0M243.1 632.8h0M270.0 632.7h0M285.7 632.3h0M319.8 632.1h0M416.3 632.7h0M180.1 635.9h0M303.7 636.8h0M354.5 636.1h0M387.9 635.8h0M456.8 636.1h0M298.3 638.9h0M323.3 638.3h0M384.4 639.6h0" stroke="#fff" stroke-opacity="0.5" stroke-width="2.3"/>
<path d="M384.4 455.3h0M261.1 459.4h0M440.5 458.4h0M177.6 466.1h0M434.7 465.6h0M465.9 466.4h0M480.3 467.8h0M515.5 469.1h0M248.8 474.5h0M347.7 474.5h0M401.0 474.5h0M75.7 477.3h0M387.9 478.2h0M390.4 477.4h0M459.6 478.6h0M87.0 481.6h0M183.3 480.1h0M374.9 481.2h0M428.0 480.4h0M496.1 480.5h0M64.9 483.5h0M72.5 484.4h0M90.0 483.4h0M93.1 484.4h0M100.4 484.5h0M125.3 483.8h0M136.9 484.8h0M142.8 484.7h0M338.1 483.4h0M344.3 483.5h0M348.6 483.7h0M351.0 484.9h0M363.0 483.8h0M373.2 484.8h0M378.9 483.6h0M399.8 484.6h0M486.8 483.6h0M65.0 487.6h0M68.0 486.4h0M71.7 486.6h0M75.3 488.0h0M77.8 486.7h0M81.7 487.9h0M87.0 487.7h0M90.6 488.0h0M100.0 486.8h0M121.2 486.3h0M128.0 487.1h0M171.7 487.1h0M177.6 488.1h0M221.2 487.1h0M233.4 488.0h0M247.7 487.4h0M322.9 486.7h0M332.7 486.7h0M335.5 486.6h0M337.7 487.3h0M350.8 488.0h0M354.7 486.9h0M356.4 487.5h0M363.5 486.7h0M366.8 486.5h0M374.9 488.0h0M378.2 488.0h0M413.3 487.9h0M443.5 486.8h0M456.5 486.6h0M477.2 487.6h0M489.6 487.6h0M492.7 487.8h0M509.5 487.6h0M515.6 487.7h0M517.8 486.3h0M521.0 487.4h0M533.8 487.5h0M62.9 490.0h0M64.8 489.7h0M71.1 489.5h0M74.3 491.2h0M78.5 490.1h0M84.8 490.6h0M88.3 489.7h0M89.9 490.5h0M97.5 490.0h0M99.5 490.8h0M102.1 490.5h0M120.9 489.5h0M124.3 490.6h0M130.2 490.1h0M133.5 491.0h0M137.7 490.3h0M140.0 491.0h0M146.6 489.7h0M155.4 489.5h0M180.3 490.7h0M183.9 491.0h0M189.5 489.8h0M192.1 489.5h0M208.1 489.4h0M213.8 490.8h0M223.5 490.8h0M226.1 489.5h0M229.4 489.5h0M233.6 491.1h0M241.8 489.5h0M246.1 490.3h0M263.8 490.5h0M305.1 490.1h0M328.9 491.1h0M341.6 490.8h0M344.0 490.7h0M354.5 489.9h0M366.7 490.3h0M378.2 489.9h0M415.7 490.4h0M465.8 491.1h0M484.0 489.9h0M508.9 489.4h0M537.5 490.4h0M539.1 489.9h0M60.1 493.6h0M62.7 492.8h0M68.8 493.7h0M71.9 493.9h0M75.2 493.7h0M81.7 493.7h0M84.4 493.4h0M93.4 493.4h0M97.2 494.3h0M99.4 493.8h0M103.0 492.7h0M108.7 492.8h0M114.7 494.2h0M130.3 493.2h0M133.8 493.3h0M137.1 493.1h0M140.3 494.1h0M143.1 493.6h0M146.7 494.3h0M155.7 493.8h0M180.0 492.9h0M205.0 493.0h0M208.6 493.0h0M211.9 492.8h0M215.3 494.2h0M221.5 493.6h0M223.4 494.1h0M230.5 494.1h0M232.3 493.8h0M251.5 493.6h0M329.7 492.7h0M340.9 492.5h0M346.9 494.0h0M359.4 492.7h0M363.2 493.4h0M366.3 494.3h0M368.9 493.5h0M373.5 492.7h0M447.1 492.6h0M524.9 494.2h0M66.5 497.0h0M68.9 495.9h0M75.8 496.8h0M78.3 497.2h0M86.8 496.6h0M89.7 497.4h0M93.2 495.7h0M100.3 496.8h0M102.8 497.2h0M109.8 496.5h0M112.3 496.5h0M115.5 497.2h0M119.0 496.9h0M121.8 496.0h0M124.1 497.3h0M128.5 497.1h0M133.3 497.0h0M137.3 496.9h0M142.7 496.9h0M152.5 496.3h0M156.4 496.6h0M170.6 497.0h0M174.8 496.2h0M180.6 496.2h0M184.3 495.9h0M186.7 497.2h0M189.4 495.8h0M196.0 496.8h0M199.7 495.7h0M202.7 495.6h0M208.3 496.8h0M210.6 497.0h0M220.2 495.8h0M224.0 497.0h0M230.6 496.2h0M233.5 497.4h0M237.0 496.2h0M238.9 496.1h0M245.6 496.6h0M252.3 496.2h0M257.2 496.2h0M307.5 496.9h0M325.7 497.4h0M332.4 496.7h0M338.2 496.1h0M341.1 496.8h0M345.0 496.4h0M350.8 495.9h0M353.3 495.8h0M360.3 496.4h0M363.6 496.4h0M365.7 495.9h0M370.0 497.0h0M441.2 496.5h0M462.4 497.0h0M470.9 497.0h0M59.6 500.1h0M62.2 499.4h0M65.3 499.9h0M69.3 499.3h0M74.5 500.3h0M77.9 499.2h0M81.7 499.6h0M84.0 499.5h0M86.6 499.0h0M90.9 499.3h0M96.0 500.2h0M100.2 500.0h0M103.1 498.9h0M105.8 499.0h0M109.2 499.2h0M112.2 499.8h0M131.0 500.2h0M139.6 500.0h0M143.8 499.8h0M148.7 498.9h0M152.1 499.7h0M155.2 499.1h0M162.4 499.3h0M168.1 500.3h0M173.4 499.4h0M176.5 499.0h0M180.8 500.1h0M183.7 499.1h0M186.6 499.5h0M189.1 499.4h0M192.5 499.8h0M195.9 498.9h0M202.2 500.0h0M205.8 499.2h0M207.7 500.5h0M212.2 499.9h0M214.5 499.0h0M223.0 499.4h0M227.2 498.7h0M236.9 500.4h0M239.2 499.0h0M242.7 499.6h0M251.6 499.7h0M254.4 498.8h0M263.5 499.7h0M270.3 499.7h0M334.6 498.7h0M338.5 499.4h0M340.9 499.8h0M344.2 499.1h0M348.4 500.0h0M351.1 498.9h0M366.8 499.7h0M371.7 499.6h0M375.4 500.1h0M449.2 500.4h0M453.8 499.5h0M458.6 499.9h0M465.9 499.5h0M512.5 499.7h0M60.2 502.6h0M62.5 502.4h0M64.9 503.1h0M81.4 503.3h0M83.7 502.6h0M87.0 502.4h0M90.6 503.0h0M94.1 503.1h0M97.1 502.2h0M100.1 502.1h0M102.5 502.0h0M115.8 502.1h0M125.0 502.3h0M130.0 501.9h0M136.7 502.9h0M145.5 503.2h0M152.2 502.0h0M155.8 502.6h0M161.2 503.5h0M176.5 502.0h0M181.2 503.3h0M186.2 503.0h0M192.8 502.8h0M204.9 503.4h0M209.0 503.1h0M211.2 503.0h0M217.7 503.1h0M221.4 503.3h0M223.3 502.4h0M233.4 503.3h0M235.9 503.4h0M238.9 502.7h0M255.6 502.7h0M264.3 503.3h0M335.6 502.9h0M337.8 502.4h0M341.9 503.3h0M345.4 503.2h0M348.6 502.1h0M350.1 502.6h0M353.5 502.0h0M363.6 502.9h0M372.0 503.2h0M374.9 502.1h0M413.7 502.7h0M440.8 502.8h0M453.9 503.1h0M503.2 502.3h0M518.8 502.6h0M522.0 503.1h0M524.3 502.4h0M539.9 503.1h0M543.3 502.8h0M59.8 505.1h0M62.8 506.4h0M66.1 505.5h0M71.4 506.3h0M78.6 506.5h0M82.0 505.4h0M84.0 506.7h0M87.7 506.4h0M90.6 505.3h0M94.3 506.6h0M100.0 506.4h0M103.6 505.8h0M106.8 505.4h0M115.9 506.6h0M121.0 505.4h0M125.3 506.1h0M139.4 505.8h0M145.9 506.4h0M150.2 505.3h0M165.1 505.6h0M177.3 506.1h0M189.1 506.1h0M205.8 506.1h0M215.2 504.9h0M219.8 505.6h0M222.9 506.3h0M226.3 506.0h0M229.7 506.0h0M233.5 505.2h0M236.1 506.1h0M239.6 505.2h0M243.0 506.1h0M244.9 505.9h0M248.3 505.0h0M252.5 506.6h0M271.0 505.3h0M334.7 505.6h0M339.3 505.5h0M344.9 506.1h0M351.7 505.5h0M354.6 506.1h0M357.1 505.1h0M363.1 506.4h0M366.4 505.4h0M368.9 505.1h0M372.1 506.7h0M397.0 505.5h0M444.3 505.6h0M516.0 505.0h0M524.7 506.0h0M527.6 506.6h0M533.1 505.2h0M537.4 506.2h0M62.7 508.4h0M66.3 508.9h0M72.2 509.5h0M74.5 509.7h0M81.1 509.8h0M89.8 509.0h0M93.6 508.8h0M97.0 508.2h0M109.7 508.1h0M113.0 508.9h0M114.5 509.6h0M119.1 509.1h0M124.8 508.2h0M127.5 509.7h0M130.2 508.2h0M134.1 509.7h0M137.7 509.4h0M151.6 509.2h0M155.4 508.5h0M158.0 508.9h0M170.8 508.8h0M177.7 508.0h0M181.2 508.6h0M189.2 508.8h0M192.8 509.1h0M202.3 509.4h0M204.7 509.0h0M209.1 509.6h0M211.5 509.6h0M213.9 509.7h0M218.2 508.1h0M224.3 509.7h0M227.0 508.5h0M230.7 509.7h0M232.7 508.5h0M237.0 508.8h0M238.4 509.2h0M244.9 509.4h0M249.5 508.1h0M250.8 509.2h0M260.2 508.5h0M329.5 508.2h0M333.0 508.9h0M335.7 509.2h0M338.9 508.6h0M344.6 509.5h0M348.3 508.4h0M350.3 508.4h0M353.2 508.1h0M360.0 508.9h0M363.4 508.1h0M366.2 508.5h0M375.1 509.3h0M381.6 509.5h0M391.8 509.1h0M403.7 508.5h0M446.8 508.1h0M477.2 509.2h0M481.8 508.8h0M496.7 509.7h0M508.9 508.4h0M524.6 508.7h0M527.1 508.2h0M533.4 508.0h0M540.3 508.6h0M59.8 512.4h0M62.6 511.9h0M69.7 511.7h0M71.5 511.7h0M78.8 511.5h0M83.7 512.2h0M87.7 512.7h0M94.0 511.9h0M96.9 512.3h0M103.0 512.6h0M105.7 511.7h0M109.4 511.3h0M115.7 511.1h0M121.1 512.9h0M124.0 512.7h0M127.7 512.9h0M137.8 512.8h0M148.7 511.9h0M151.6 511.2h0M158.6 511.3h0M161.3 512.8h0M170.8 511.8h0M189.4 511.2h0M192.0 511.3h0M195.9 511.5h0M204.7 512.4h0M208.0 511.7h0M217.3 512.4h0M223.3 511.4h0M236.1 511.4h0M239.4 512.6h0M242.5 512.4h0M249.1 511.9h0M272.7 511.9h0M279.4 512.2h0M329.6 512.1h0M338.3 512.1h0M341.3 512.4h0M347.8 511.7h0M350.4 511.7h0M356.2 511.6h0M360.8 511.6h0M364.0 512.6h0M365.7 511.6h0M368.6 512.5h0M372.9 511.9h0M375.9 512.0h0M399.9 512.1h0M441.3 512.5h0M443.7 511.7h0M477.4 512.2h0M515.7 511.8h0M518.6 511.9h0M528.5 512.1h0M533.6 512.8h0M60.0 514.7h0M62.5 514.5h0M65.8 515.1h0M68.4 515.6h0M78.7 514.3h0M83.7 515.9h0M86.8 515.7h0M100.7 515.9h0M108.9 514.3h0M112.3 514.6h0M120.9 514.4h0M123.8 514.2h0M133.3 515.4h0M136.9 514.3h0M146.7 515.1h0M150.3 515.4h0M161.6 515.9h0M186.1 515.3h0M198.2 515.1h0M202.6 514.8h0M215.0 515.2h0M220.1 514.8h0M233.7 514.7h0M248.0 515.8h0M255.4 515.2h0M261.7 514.3h0M332.6 514.5h0M338.9 515.7h0M342.1 515.6h0M350.5 514.6h0M354.1 514.4h0M363.5 515.7h0M427.6 515.9h0M438.0 514.9h0M440.9 515.1h0M443.7 514.8h0M462.1 514.7h0M465.0 514.9h0M468.6 514.6h0M511.6 514.3h0M522.0 514.8h0M524.3 514.3h0M528.4 514.7h0M62.6 518.7h0M75.3 517.4h0M81.5 518.1h0M83.7 518.7h0M91.2 517.6h0M92.7 519.0h0M96.3 518.4h0M99.4 517.7h0M109.4 518.2h0M115.5 519.0h0M118.7 518.7h0M124.1 517.8h0M126.9 518.5h0M130.2 518.1h0M137.5 517.3h0M139.8 518.3h0M146.7 517.6h0M151.8 518.4h0M170.7 517.7h0M174.3 518.2h0M184.1 518.5h0M190.3 518.6h0M192.7 518.3h0M203.0 519.1h0M214.6 517.8h0M217.8 517.8h0M221.5 518.5h0M223.9 519.0h0M227.5 518.9h0M229.9 517.8h0M238.9 518.7h0M245.6 518.8h0M247.9 517.8h0M251.1 518.8h0M274.1 518.9h0M275.8 518.7h0M332.5 518.7h0M342.4 518.9h0M351.3 518.9h0M354.4 518.0h0M356.8 517.5h0M359.9 518.1h0M363.5 518.4h0M370.1 517.7h0M428.0 518.4h0M433.9 518.5h0M437.1 517.9h0M440.6 517.7h0M446.1 517.9h0M465.0 519.0h0M469.5 517.8h0M472.6 518.6h0M475.1 517.9h0M506.7 518.7h0M530.8 517.6h0M68.0 521.2h0M78.7 521.7h0M81.9 521.3h0M84.8 521.1h0M90.6 522.2h0M99.6 520.8h0M102.5 520.6h0M106.1 522.0h0M113.1 521.4h0M115.5 520.9h0M120.8 521.2h0M123.8 520.4h0M127.1 521.1h0M130.2 521.9h0M134.0 520.9h0M137.3 520.6h0M142.5 520.5h0M146.3 520.8h0M160.9 521.9h0M164.6 522.0h0M176.6 521.9h0M189.1 520.9h0M199.0 521.7h0M201.5 521.8h0M205.8 520.6h0M217.5 521.9h0M224.2 521.1h0M230.3 521.0h0M233.6 521.1h0M239.3 521.1h0M242.3 521.3h0M246.3 521.9h0M252.4 521.0h0M254.3 521.4h0M264.1 521.2h0M266.5 521.5h0M276.1 520.8h0M322.5 521.4h0M335.1 520.4h0M341.0 521.0h0M351.7 522.0h0M354.8 521.1h0M356.4 521.1h0M362.4 521.8h0M366.7 521.0h0M369.7 521.4h0M375.3 521.7h0M428.9 522.0h0M447.6 520.5h0M472.1 521.6h0M487.4 521.5h0M512.6 520.4h0M537.5 521.3h0M539.6 521.0h0M543.6 521.1h0M63.2 524.9h0M75.6 523.9h0M78.4 524.6h0M84.9 523.7h0M87.6 523.9h0M100.2 524.7h0M102.3 524.6h0M105.7 524.6h0M108.2 523.7h0M112.0 524.3h0M115.5 524.6h0M118.7 524.0h0M127.0 524.5h0M130.5 524.5h0M145.6 524.0h0M149.2 524.7h0M154.8 524.3h0M165.8 524.7h0M167.9 525.1h0M177.8 524.9h0M189.3 524.9h0M193.0 523.7h0M199.6 524.8h0M213.9 523.7h0M217.3 525.1h0M249.4 525.3h0M260.1 523.7h0M270.6 524.5h0M283.4 523.9h0M313.1 524.6h0M329.0 523.9h0M335.2 524.4h0M338.1 523.8h0M340.7 524.4h0M365.9 523.5h0M372.2 524.3h0M375.6 523.6h0M413.2 524.3h0M429.1 523.8h0M431.6 524.3h0M437.0 524.2h0M459.6 524.7h0M465.9 524.6h0M471.8 524.9h0M477.2 523.7h0M499.8 524.8h0M511.2 525.0h0M516.0 524.2h0M518.6 523.8h0M520.8 524.1h0M524.8 523.6h0M528.4 524.7h0M78.8 526.6h0M86.7 527.3h0M90.4 527.0h0M97.0 528.2h0M99.1 527.9h0M102.7 527.9h0M109.3 527.7h0M117.8 527.7h0M121.8 526.8h0M127.2 528.0h0M131.5 527.5h0M133.7 527.4h0M143.2 528.0h0M146.0 526.8h0M149.6 527.4h0M152.2 527.3h0M165.7 528.0h0M168.4 527.1h0M173.7 527.3h0M177.6 528.2h0M183.7 528.2h0M189.4 528.1h0M193.6 526.9h0M203.0 527.8h0M208.3 526.8h0M212.1 527.8h0M215.2 526.9h0M229.6 527.3h0M239.7 527.3h0M242.1 526.6h0M245.4 527.9h0M251.6 527.5h0M260.9 527.9h0M263.6 526.8h0M288.7 528.2h0M339.0 528.1h0M344.5 527.8h0M348.3 527.4h0M353.8 527.7h0M361.1 526.8h0M365.6 527.2h0M369.1 528.0h0M371.9 527.6h0M375.5 527.7h0M431.4 528.2h0M438.4 526.6h0M440.3 528.4h0M444.6 527.5h0M459.0 527.9h0M478.3 527.7h0M518.2 527.8h0M524.1 527.1h0M530.7 526.8h0M533.9 527.4h0M106.3 530.1h0M115.9 531.2h0M130.1 531.2h0M144.0 530.7h0M159.3 530.9h0M168.6 530.9h0M189.5 529.7h0M201.8 530.0h0M208.8 530.5h0M214.1 530.6h0M218.1 530.3h0M230.3 530.5h0M239.1 530.5h0M245.0 530.6h0M249.0 531.4h0M266.6 529.8h0M272.5 529.8h0M294.7 531.1h0M297.4 530.9h0M326.1 531.4h0M367.3 530.2h0M375.2 530.1h0M379.1 530.4h0M388.0 531.5h0M428.8 531.4h0M441.5 531.3h0M444.3 531.2h0M447.7 529.9h0M474.2 530.7h0M496.9 531.4h0M500.6 530.0h0M524.8 531.4h0M543.5 531.0h0M84.7 533.3h0M88.2 533.0h0M99.1 534.4h0M117.6 534.5h0M121.2 533.7h0M136.4 533.2h0M152.9 533.3h0M164.6 533.0h0M167.9 533.6h0M183.2 533.6h0M196.4 534.1h0M201.2 534.3h0M214.6 534.3h0M229.3 533.3h0M236.1 534.5h0M249.3 534.3h0M254.6 534.1h0M261.0 533.2h0M267.1 533.7h0M275.8 533.9h0M279.6 533.0h0M345.1 533.8h0M348.4 534.3h0M357.8 533.8h0M366.3 534.4h0M371.7 534.6h0M435.4 534.0h0M446.3 533.4h0M80.3 536.2h0M102.6 536.8h0M136.1 536.3h0M167.5 537.3h0M174.0 536.3h0M177.6 537.0h0M199.5 537.3h0M202.4 537.6h0M217.1 537.4h0M223.3 537.0h0M226.9 536.6h0M229.6 536.0h0M235.4 536.4h0M238.5 536.0h0M246.1 536.1h0M248.5 536.4h0M251.0 537.6h0M311.2 536.1h0M323.0 536.6h0M338.1 537.2h0M347.8 536.7h0M350.1 537.5h0M353.6 537.0h0M360.2 536.3h0M363.6 537.2h0M365.7 536.3h0M373.1 537.5h0M375.1 537.6h0M378.2 536.2h0M540.6 537.4h0M171.1 539.8h0M176.8 539.7h0M180.7 540.4h0M185.8 540.1h0M199.5 539.6h0M201.8 540.2h0M207.5 539.2h0M210.8 539.8h0M214.8 539.3h0M220.3 540.5h0M224.1 540.8h0M244.7 539.1h0M254.5 540.3h0M261.9 540.1h0M269.4 540.5h0M329.3 540.5h0M338.1 539.2h0M342.2 539.2h0M378.9 539.8h0M457.1 539.6h0M488.0 539.2h0M121.1 543.5h0M149.5 542.7h0M189.2 542.2h0M195.8 543.7h0M208.7 542.2h0M220.6 542.9h0M224.2 543.1h0M227.6 543.2h0M239.6 543.7h0M288.9 542.2h0M353.2 542.3h0M413.5 542.2h0M481.1 543.3h0M149.2 545.9h0M196.4 545.3h0M214.7 546.1h0M229.5 546.6h0M238.8 545.2h0M245.0 546.4h0M272.9 545.6h0M319.7 545.3h0M326.7 545.5h0M392.0 545.4h0M452.6 545.2h0M499.9 546.6h0M511.5 546.0h0M530.7 545.4h0M78.0 549.6h0M84.6 549.5h0M90.8 550.0h0M96.3 549.0h0M112.0 549.9h0M183.0 548.9h0M186.5 549.8h0M220.1 548.5h0M226.9 549.7h0M230.7 548.9h0M326.7 548.5h0M360.0 548.9h0M413.3 550.0h0M441.4 548.9h0M518.2 548.6h0M102.7 551.8h0M152.0 552.9h0M277.4 552.4h0M391.2 552.0h0M406.8 551.6h0M409.2 551.6h0M88.2 556.0h0M89.8 554.8h0M143.3 555.4h0M173.6 555.0h0M192.1 556.2h0M300.8 555.9h0M388.5 555.5h0M459.3 554.9h0M461.6 556.2h0M75.0 558.1h0M173.6 558.4h0M190.4 557.8h0M195.5 558.9h0M199.2 558.3h0M326.6 558.3h0M418.7 558.2h0M458.6 558.0h0M490.8 558.1h0M496.6 558.9h0M502.6 558.7h0M512.3 557.9h0M519.1 558.5h0M528.3 558.0h0M530.1 558.7h0M536.3 558.1h0M162.5 562.1h0M168.7 562.1h0M173.4 561.8h0M176.5 561.2h0M179.8 561.9h0M183.3 560.7h0M189.4 561.0h0M195.0 561.8h0M198.2 562.3h0M263.2 562.2h0M405.8 561.9h0M480.6 560.9h0M484.4 562.4h0M489.7 561.4h0M493.8 561.7h0M496.0 562.3h0M499.4 562.1h0M503.3 561.2h0M512.3 561.0h0M521.2 562.5h0M533.6 561.2h0M537.7 562.3h0M539.1 562.0h0M68.7 564.9h0M155.3 564.9h0M162.0 564.3h0M165.3 565.4h0M168.2 565.1h0M173.7 564.8h0M178.0 565.5h0M180.6 563.9h0M183.9 565.3h0M187.5 564.0h0M188.9 564.7h0M192.4 564.4h0M196.3 564.2h0M201.6 565.3h0M208.9 565.5h0M215.3 564.8h0M255.2 565.2h0M449.8 565.3h0M478.1 565.4h0M483.8 565.3h0M491.0 564.4h0M493.5 565.0h0M499.2 564.6h0M502.9 563.8h0M505.3 564.3h0M508.7 564.8h0M511.3 564.7h0M518.5 564.2h0M521.7 564.4h0M539.9 564.0h0M96.2 568.0h0M129.9 567.0h0M158.7 567.6h0M165.4 568.6h0M168.1 568.1h0M181.1 567.2h0M190.1 567.7h0M192.7 568.0h0M199.4 567.3h0M201.4 567.2h0M212.2 567.0h0M214.4 567.1h0M220.8 567.5h0M227.0 567.6h0M230.4 567.8h0M249.1 567.2h0M263.9 568.0h0M303.9 567.5h0M325.6 567.4h0M390.3 568.3h0M490.5 568.4h0M500.0 566.9h0M502.2 567.3h0M509.6 568.1h0M512.5 568.2h0M515.6 568.4h0M518.9 568.3h0M525.3 568.4h0M528.0 567.7h0M531.5 567.8h0M539.4 568.1h0M65.9 570.2h0M71.3 570.0h0M140.4 571.7h0M162.5 570.1h0M171.6 571.7h0M177.3 570.5h0M184.1 571.3h0M186.9 571.0h0M189.8 571.4h0M193.5 571.2h0M196.0 570.3h0M202.8 571.8h0M208.9 571.5h0M214.6 571.1h0M217.9 571.0h0M223.5 570.1h0M233.9 570.7h0M329.8 571.7h0M489.6 570.5h0M495.9 571.4h0M502.3 570.9h0M505.2 570.3h0M511.8 570.8h0M514.5 571.0h0M69.0 573.3h0M108.2 573.8h0M167.4 574.5h0M171.8 573.9h0M174.8 573.7h0M177.3 573.1h0M183.5 574.4h0M186.7 573.9h0M193.6 573.3h0M198.2 574.4h0M212.2 573.2h0M215.0 573.7h0M216.8 574.0h0M221.3 573.5h0M223.2 573.5h0M227.1 574.6h0M288.3 574.9h0M292.6 574.3h0M304.9 574.7h0M307.8 574.0h0M382.8 573.8h0M391.7 574.1h0M483.8 574.5h0M486.9 574.4h0M496.3 573.2h0M500.0 574.0h0M502.7 574.3h0M509.7 574.8h0M511.3 573.6h0M524.5 574.2h0M527.5 573.8h0M531.3 574.1h0M537.8 574.4h0M543.7 573.9h0M58.9 577.5h0M65.4 576.7h0M80.6 577.9h0M84.3 577.1h0M109.2 576.6h0M121.6 576.4h0M153.3 577.3h0M164.8 577.0h0M177.8 577.4h0M189.2 576.3h0M192.4 576.3h0M202.8 577.3h0M206.1 577.2h0M208.6 577.1h0M214.5 576.8h0M221.4 577.2h0M224.1 577.1h0M226.7 577.3h0M247.7 576.6h0M289.1 576.3h0M291.6 576.5h0M300.4 576.6h0M309.9 576.3h0M331.5 576.9h0M334.6 577.6h0M338.7 577.7h0M390.6 577.3h0M396.8 577.9h0M444.1 576.4h0M484.0 577.8h0M487.4 577.1h0M502.1 577.4h0M509.1 576.5h0M511.6 576.5h0M517.9 577.8h0M524.3 577.1h0M65.2 580.8h0M71.2 580.1h0M74.2 580.0h0M78.8 579.5h0M159.4 580.9h0M171.4 580.7h0M181.0 579.7h0M185.9 579.6h0M190.4 579.9h0M192.6 579.5h0M198.5 580.7h0M205.2 579.7h0M207.5 580.1h0M214.2 580.1h0M216.8 579.8h0M220.6 580.8h0M224.0 579.7h0M226.6 579.8h0M232.8 580.9h0M237.0 580.2h0M240.0 580.0h0M242.1 580.6h0M245.9 580.9h0M268.1 580.3h0M282.0 579.6h0M285.2 580.8h0M289.7 580.4h0M294.3 580.1h0M316.3 579.8h0M319.1 580.9h0M335.3 580.1h0M483.5 579.6h0M494.0 581.1h0M509.2 580.1h0M521.0 579.8h0M527.0 579.8h0M71.7 584.1h0M77.8 583.4h0M162.1 584.0h0M164.6 583.9h0M174.8 584.0h0M180.7 583.5h0M183.1 582.9h0M186.7 583.8h0M189.1 583.8h0M193.3 582.4h0M205.8 583.9h0M211.7 583.2h0M215.2 582.9h0M218.0 583.7h0M219.9 583.0h0M223.0 582.8h0M229.3 583.1h0M232.4 583.9h0M235.8 583.3h0M251.5 583.0h0M258.3 583.9h0M285.5 583.2h0M289.7 582.7h0M291.2 584.0h0M297.5 582.7h0M302.0 584.0h0M310.2 582.6h0M322.2 583.1h0M326.9 582.8h0M329.1 582.6h0M332.0 583.5h0M338.9 582.7h0M351.4 583.2h0M354.2 583.0h0M366.2 584.1h0M396.9 582.9h0M406.3 584.0h0M410.5 583.1h0M428.7 583.0h0M481.5 583.7h0M493.3 582.6h0M496.8 583.5h0M502.1 583.9h0M506.2 582.6h0M509.1 583.0h0M526.9 582.9h0M531.5 582.5h0M62.5 586.4h0M71.2 586.3h0M75.3 586.2h0M77.3 585.8h0M159.4 586.1h0M164.9 586.9h0M168.3 585.9h0M171.1 586.7h0M177.7 586.2h0M180.9 585.7h0M184.2 587.2h0M189.6 586.6h0M196.5 586.7h0M198.5 586.9h0M208.9 587.2h0M213.7 585.6h0M217.5 586.1h0M226.8 585.6h0M242.5 585.8h0M248.7 587.0h0M270.2 586.8h0M272.6 586.9h0M288.8 586.9h0M292.2 587.1h0M301.2 586.0h0M323.4 585.7h0M335.4 587.2h0M339.0 587.0h0M344.2 586.4h0M393.7 586.1h0M402.7 586.5h0M421.5 586.5h0M426.0 586.5h0M427.7 587.3h0M437.8 586.4h0M443.2 586.6h0M459.4 587.3h0M471.1 586.2h0M477.5 586.6h0M497.3 586.8h0M518.1 587.1h0M521.3 586.2h0M530.9 585.7h0M536.2 586.6h0M540.5 586.2h0M111.4 589.0h0M158.0 588.8h0M164.3 589.1h0M167.3 589.7h0M170.3 588.8h0M176.9 589.9h0M182.8 589.2h0M185.8 589.8h0M189.7 589.7h0M192.0 589.3h0M201.6 589.7h0M208.7 589.4h0M211.5 589.2h0M213.7 589.0h0M223.9 588.7h0M264.2 589.5h0M279.2 589.7h0M283.6 589.2h0M288.5 588.7h0M294.3 589.6h0M326.6 588.6h0M328.9 589.2h0M332.9 589.6h0M335.6 588.8h0M369.0 589.6h0M381.2 588.9h0M397.3 589.9h0M416.4 589.7h0M419.7 590.1h0M440.6 588.8h0M443.6 588.9h0M458.8 589.5h0M477.6 588.8h0M506.4 589.7h0M511.4 589.6h0M514.9 589.1h0M517.8 588.6h0M524.4 590.0h0M63.4 593.2h0M69.1 592.9h0M77.5 592.4h0M161.8 593.0h0M177.6 591.8h0M179.8 592.2h0M186.1 593.2h0M189.4 592.1h0M195.4 592.8h0M202.7 592.4h0M215.0 593.1h0M220.1 593.3h0M223.0 592.7h0M242.6 592.1h0M263.2 592.8h0M267.1 592.6h0M272.7 593.2h0M276.8 592.3h0M289.2 593.4h0M295.3 592.8h0M302.1 592.3h0M311.2 593.5h0M313.9 592.8h0M316.6 593.4h0M322.9 591.9h0M331.4 591.9h0M335.9 591.9h0M367.1 591.9h0M376.1 591.9h0M404.4 591.9h0M406.7 593.1h0M410.7 592.9h0M412.7 592.6h0M419.3 592.4h0M427.6 592.6h0M441.1 592.3h0M444.7 593.0h0M447.2 593.3h0M450.2 593.1h0M463.1 592.8h0M477.9 593.3h0M483.4 592.7h0M493.6 592.4h0M500.4 593.0h0M505.1 592.9h0M509.7 592.7h0M515.4 593.5h0M518.6 593.0h0M530.6 592.5h0M533.8 592.2h0M60.0 594.9h0M62.7 595.4h0M74.8 596.4h0M161.3 594.8h0M171.8 596.4h0M174.9 595.0h0M176.9 594.9h0M183.1 595.5h0M186.1 596.4h0M189.7 595.1h0M202.9 595.3h0M205.8 596.6h0M207.7 595.8h0M216.8 595.5h0M223.2 594.9h0M226.9 596.5h0M230.8 596.6h0M245.8 596.5h0M254.5 595.0h0M260.7 594.8h0M282.9 595.8h0M285.9 595.6h0M288.3 594.8h0M292.2 596.1h0M294.5 596.5h0M301.6 596.2h0M307.0 595.7h0M310.2 595.4h0M320.1 595.6h0M323.8 595.6h0M325.4 596.6h0M328.9 595.8h0M333.2 594.9h0M335.5 595.7h0M338.5 596.3h0M344.8 595.3h0M350.1 595.1h0M353.9 596.2h0M359.5 595.9h0M369.0 595.6h0M376.4 596.1h0M381.9 596.4h0M384.5 594.9h0M390.9 595.4h0M398.2 595.3h0M402.8 596.4h0M416.2 596.4h0M425.3 594.9h0M437.2 596.2h0M447.2 596.4h0M456.2 596.2h0M466.0 594.8h0M471.2 595.8h0M478.3 595.8h0M494.2 596.4h0M505.7 596.5h0M528.1 595.0h0M118.0 599.2h0M158.8 599.0h0M165.0 598.0h0M168.1 598.1h0M177.1 598.5h0M180.7 599.5h0M183.4 598.1h0M186.0 598.4h0M189.8 599.4h0M192.5 598.4h0M195.9 598.6h0M202.9 598.7h0M206.1 599.3h0M207.6 598.7h0M212.1 598.7h0M215.3 599.0h0M217.5 599.6h0M220.5 598.9h0M223.7 599.1h0M226.2 599.5h0M230.3 598.4h0M232.6 598.1h0M239.2 598.4h0M260.6 599.2h0M263.3 599.0h0M286.0 598.1h0M288.1 598.1h0M297.5 598.5h0M301.0 599.5h0M316.1 598.5h0M319.1 598.5h0M323.0 599.2h0M325.5 598.5h0M329.0 598.4h0M332.5 599.5h0M335.4 598.5h0M341.4 598.4h0M345.6 599.1h0M354.0 599.7h0M362.9 598.8h0M367.0 597.9h0M378.0 598.6h0M394.4 598.8h0M398.2 598.0h0M400.1 599.2h0M407.5 599.0h0M419.7 598.2h0M422.9 598.0h0M425.5 598.1h0M430.6 599.2h0M435.2 599.4h0M449.9 598.5h0M456.6 598.9h0M462.7 599.0h0M464.8 599.0h0M471.5 598.6h0M477.5 598.5h0M483.4 599.6h0M493.1 599.0h0M511.2 599.1h0M514.4 599.1h0M528.3 599.7h0M530.2 598.1h0M72.0 601.8h0M78.1 601.1h0M161.4 602.6h0M167.5 602.0h0M171.8 602.7h0M174.8 601.1h0M177.6 601.9h0M180.4 601.9h0M186.0 601.2h0M189.6 601.7h0M192.2 601.3h0M196.0 601.2h0M199.2 602.1h0M202.5 602.5h0M205.0 602.3h0M211.8 602.5h0M214.3 602.2h0M216.9 601.3h0M221.4 601.2h0M223.2 601.9h0M226.1 602.4h0M229.5 601.9h0M233.7 601.4h0M238.6 601.1h0M246.2 602.6h0M249.4 602.8h0M255.5 601.7h0M269.5 601.8h0M285.7 602.7h0M301.0 602.4h0M306.8 602.4h0M314.3 602.7h0M317.3 601.5h0M320.2 601.4h0M327.0 601.7h0M332.0 601.1h0M334.9 601.9h0M338.4 602.6h0M342.4 601.3h0M344.1 602.3h0M359.4 601.7h0M375.5 602.6h0M378.9 602.6h0M382.3 601.3h0M385.4 601.4h0M393.8 602.2h0M401.3 602.8h0M412.5 602.2h0M425.4 601.5h0M428.8 601.3h0M430.6 602.8h0M441.4 601.3h0M446.9 602.2h0M459.8 601.7h0M475.3 602.3h0M480.4 602.2h0M487.4 601.4h0M489.8 601.9h0M542.4 602.2h0M159.5 605.6h0M161.0 604.7h0M165.2 605.3h0M167.9 605.7h0M180.4 605.6h0M192.1 604.8h0M199.7 604.4h0M202.0 604.9h0M208.0 605.2h0M212.0 604.2h0M214.7 605.7h0M217.2 604.7h0M219.9 605.3h0M230.5 605.1h0M241.8 604.5h0M251.1 605.0h0M260.2 604.3h0M270.4 604.7h0M276.1 605.7h0M285.0 605.8h0M289.5 605.6h0M295.0 605.6h0M299.0 605.4h0M304.9 605.5h0M310.5 604.9h0M314.1 605.0h0M319.0 604.9h0M339.0 604.4h0M347.6 605.7h0M353.2 604.5h0M359.4 605.5h0M366.7 604.7h0M369.1 605.6h0M372.6 605.8h0M379.2 604.4h0M388.8 605.9h0M397.2 605.7h0M403.8 605.7h0M412.7 604.3h0M430.7 604.7h0M443.1 605.5h0M446.6 605.1h0M450.7 604.7h0M462.7 605.6h0M484.6 604.1h0M486.8 605.7h0M489.6 605.3h0M499.7 605.8h0M503.3 604.7h0M528.2 605.3h0M531.5 605.6h0M534.5 604.8h0M143.9 608.1h0M158.8 607.5h0M162.6 608.8h0M170.8 607.7h0M177.9 607.5h0M180.9 608.4h0M184.2 607.3h0M185.8 607.6h0M189.2 607.7h0M199.0 607.3h0M202.7 608.3h0M205.8 608.4h0M207.4 608.0h0M211.1 607.6h0M214.2 607.4h0M220.3 607.7h0M226.3 608.0h0M236.3 608.9h0M249.2 608.7h0M254.9 607.8h0M264.9 608.0h0M267.3 608.3h0M269.6 608.3h0M280.5 608.8h0M282.3 608.4h0M285.8 608.5h0M302.1 608.5h0M307.7 608.0h0M310.7 608.4h0M316.6 608.9h0M320.3 608.1h0M322.3 608.1h0M326.3 608.4h0M342.1 608.1h0M347.2 608.1h0M354.4 608.1h0M356.7 608.1h0M359.6 608.8h0M363.2 608.6h0M368.6 608.2h0M375.7 608.5h0M392.0 607.7h0M396.7 608.4h0M400.9 608.2h0M409.0 607.7h0M416.8 608.0h0M418.3 608.1h0M425.9 607.9h0M428.1 607.8h0M435.0 607.9h0M444.5 607.3h0M453.2 607.8h0M466.1 608.6h0M469.4 608.1h0M472.1 607.4h0M480.7 607.7h0M483.9 608.2h0M487.6 608.3h0M491.1 608.0h0M502.3 608.1h0M505.1 607.5h0M512.2 607.8h0M514.9 607.7h0M530.8 607.3h0M543.4 607.4h0M94.2 611.7h0M106.0 610.8h0M155.2 610.8h0M158.6 611.4h0M165.4 610.6h0M173.9 610.4h0M180.1 610.9h0M182.8 610.7h0M187.3 611.5h0M202.9 611.2h0M208.7 611.1h0M210.6 611.1h0M218.2 610.8h0M220.9 611.5h0M230.0 611.3h0M233.6 611.9h0M235.5 612.1h0M251.1 611.4h0M254.2 611.4h0M276.6 611.8h0M280.1 611.7h0M291.7 611.1h0M295.8 610.9h0M299.0 611.2h0M300.8 611.2h0M304.7 611.0h0M310.0 611.8h0M313.8 611.7h0M319.7 611.6h0M329.6 611.0h0M335.6 610.6h0M337.8 611.8h0M360.9 611.0h0M363.6 610.6h0M379.6 611.4h0M381.7 612.0h0M385.0 611.7h0M388.5 610.7h0M391.9 611.5h0M402.9 611.7h0M422.5 612.0h0M425.1 611.3h0M440.9 610.8h0M481.5 610.7h0M484.1 611.2h0M496.1 611.6h0M499.9 610.7h0M505.5 610.8h0M508.8 611.2h0M512.1 611.6h0M521.5 610.8h0M530.8 610.4h0M537.2 611.7h0M540.9 611.8h0M115.9 614.2h0M181.3 614.8h0M192.8 613.5h0M201.9 614.6h0M211.3 613.6h0M214.9 615.2h0M217.8 613.7h0M224.0 614.5h0M226.3 614.5h0M230.6 614.6h0M233.4 613.9h0M235.5 615.0h0M239.4 613.6h0M241.9 613.9h0M257.7 614.6h0M260.3 613.8h0M283.5 614.9h0M300.5 613.7h0M304.2 613.5h0M309.7 613.9h0M314.1 613.6h0M317.2 614.4h0M319.2 614.2h0M326.5 613.7h0M328.6 614.8h0M342.0 614.2h0M348.1 615.1h0M362.5 615.1h0M372.9 615.2h0M379.1 614.8h0M384.7 614.1h0M394.5 615.0h0M397.3 614.5h0M404.1 613.9h0M418.6 614.6h0M446.8 615.0h0M458.7 613.4h0M477.2 614.2h0M487.1 615.1h0M511.6 613.9h0M173.4 618.2h0M190.5 617.6h0M201.3 617.8h0M209.1 616.7h0M233.6 616.5h0M239.5 618.1h0M247.9 617.4h0M252.1 616.7h0M258.1 617.2h0M267.3 618.1h0M269.6 618.0h0M292.6 616.5h0M295.6 617.3h0M301.9 618.0h0M309.8 617.2h0M314.4 617.7h0M316.7 618.1h0M329.1 617.5h0M332.6 616.8h0M344.4 616.7h0M353.7 618.1h0M356.8 617.2h0M359.4 616.9h0M367.1 617.8h0M369.1 617.6h0M375.0 617.6h0M379.1 617.2h0M388.6 618.0h0M391.8 618.1h0M393.5 617.9h0M403.3 617.3h0M412.6 618.0h0M419.7 616.9h0M434.1 616.6h0M437.4 617.0h0M443.6 618.2h0M446.7 616.6h0M461.8 617.3h0M480.9 617.4h0M496.8 617.4h0M518.7 616.6h0M246.0 621.1h0M248.3 620.4h0M266.7 619.9h0M276.8 619.9h0M280.2 620.5h0M288.7 620.9h0M301.5 619.9h0M308.1 621.1h0M313.5 620.5h0M316.2 620.2h0M326.4 619.6h0M328.6 619.9h0M341.5 619.6h0M347.7 620.0h0M366.8 620.7h0M370.2 620.9h0M382.5 619.7h0M406.1 621.0h0M419.8 619.7h0M422.9 620.8h0M424.5 620.7h0M428.1 619.6h0M440.9 620.7h0M450.1 619.9h0M453.4 619.8h0M461.7 621.2h0M466.1 620.0h0M467.9 621.1h0M472.2 620.8h0M475.4 619.6h0M480.6 619.8h0M484.2 620.7h0M539.6 621.1h0M160.9 623.9h0M164.1 623.1h0M168.6 623.7h0M183.9 623.7h0M190.0 623.3h0M213.8 622.8h0M227.6 624.5h0M242.8 623.8h0M255.5 623.5h0M257.2 623.8h0M260.9 623.4h0M264.8 623.8h0M277.2 624.4h0M280.1 623.8h0M288.3 623.3h0M291.2 623.0h0M307.1 623.7h0M310.7 624.4h0M320.3 623.4h0M322.4 623.4h0M325.2 622.9h0M328.3 623.7h0M332.0 623.6h0M339.4 623.9h0M385.3 623.9h0M394.7 624.3h0M403.6 623.3h0M416.6 624.1h0M421.3 622.7h0M431.0 623.5h0M443.7 624.4h0M456.0 623.0h0M459.1 623.0h0M466.2 623.4h0M478.0 623.0h0M122.3 627.0h0M153.2 626.3h0M196.7 626.7h0M201.9 627.2h0M220.3 626.9h0M257.4 626.1h0M283.2 626.6h0M284.9 626.0h0M298.6 626.3h0M300.7 627.2h0M304.3 626.0h0M319.4 626.1h0M323.1 626.8h0M325.4 626.9h0M331.9 626.2h0M393.8 626.2h0M443.2 626.2h0M114.9 630.2h0M149.2 630.2h0M217.7 629.0h0M226.9 630.7h0M229.9 629.8h0M239.5 630.5h0M251.9 629.6h0M276.3 630.4h0M282.0 628.9h0M285.0 629.3h0M294.6 628.9h0M298.0 630.7h0M310.8 630.3h0M314.6 629.6h0M316.6 630.7h0M326.3 630.3h0M335.8 629.0h0M347.3 630.4h0M363.4 630.6h0M431.5 630.7h0M465.7 629.6h0M478.7 629.9h0M481.2 630.3h0M111.4 632.8h0M149.4 633.4h0M152.8 633.4h0M158.3 633.6h0M180.3 632.7h0M226.0 632.7h0M244.9 633.4h0M268.0 633.5h0M275.8 633.0h0M279.2 632.2h0M283.3 633.5h0M292.5 632.8h0M300.9 633.2h0M305.1 632.1h0M313.9 632.0h0M316.8 633.1h0M333.1 632.5h0M336.1 632.9h0M370.0 632.6h0M379.1 633.6h0M418.5 633.0h0M431.4 633.7h0M441.5 633.4h0M447.8 633.7h0M474.3 632.5h0M151.7 636.8h0M227.5 635.1h0M235.6 636.8h0M239.5 636.2h0M375.0 635.8h0M379.4 636.3h0M400.5 635.2h0M424.6 636.4h0M466.0 635.2h0M214.0 638.6h0M223.1 638.2h0M267.9 639.6h0M283.6 639.3h0M285.7 638.7h0M295.1 639.2h0" stroke="#fff" stroke-opacity="0.95" stroke-width="2.6"/>
<path d="M481.3 462.0h0M251.6 466.4h0M282.2 465.1h0M140.0 468.3h0M283.0 468.4h0M311.2 469.2h0M350.5 469.2h0M450.3 468.0h0M99.2 470.8h0M184.0 471.9h0M311.0 472.4h0M313.3 472.2h0M315.9 472.4h0M320.6 470.9h0M332.5 471.4h0M357.4 472.0h0M62.1 475.1h0M90.1 474.2h0M124.2 474.5h0M203.0 475.3h0M229.3 475.2h0M282.2 475.2h0M304.6 475.7h0M314.6 474.6h0M323.6 474.2h0M326.0 474.4h0M72.0 478.3h0M133.3 478.1h0M168.6 477.6h0M177.9 478.7h0M182.9 477.9h0M206.0 478.3h0M217.2 477.9h0M273.8 477.6h0M282.9 478.4h0M289.2 477.1h0M292.2 478.1h0M314.1 477.2h0M71.9 480.5h0M78.0 480.9h0M91.0 480.8h0M133.7 480.5h0M155.8 481.6h0M159.3 480.9h0M167.3 480.6h0M170.3 481.6h0M179.6 480.5h0M288.8 481.9h0M299.1 481.0h0M329.0 480.9h0M332.7 480.3h0M450.0 481.0h0M96.2 484.6h0M168.8 484.4h0M183.6 484.0h0M188.9 484.2h0M236.6 483.5h0M239.5 484.6h0M279.5 484.1h0M307.5 484.8h0M316.1 484.8h0M180.0 487.8h0M199.8 487.2h0M205.4 487.2h0M207.9 488.0h0M210.7 486.8h0M223.7 487.9h0M278.9 487.9h0M288.9 486.4h0M291.4 487.4h0M300.6 486.8h0M310.5 486.4h0M158.0 490.1h0M276.6 490.9h0M320.3 490.8h0M431.7 490.8h0M524.2 490.9h0M127.9 493.1h0M276.0 494.1h0M295.9 492.7h0M304.2 492.6h0M277.0 495.8h0M311.2 496.5h0M273.2 499.7h0M279.3 498.8h0M300.8 498.9h0M304.2 499.3h0M280.4 503.1h0M286.5 502.5h0M288.7 502.5h0M298.7 502.1h0M307.6 503.4h0M316.7 503.0h0M359.3 502.7h0M456.8 502.8h0M492.8 503.2h0M282.2 505.5h0M286.3 506.2h0M294.8 506.1h0M320.2 505.0h0M457.1 505.4h0M499.5 506.0h0M506.4 505.6h0M518.3 505.4h0M275.9 509.7h0M279.0 508.0h0M286.0 509.4h0M303.6 509.4h0M313.2 508.2h0M322.6 509.7h0M407.3 509.7h0M422.7 509.0h0M460.1 509.4h0M483.8 508.8h0M490.4 509.5h0M185.9 511.3h0M282.1 511.7h0M294.9 511.2h0M301.7 511.4h0M316.8 511.6h0M404.4 512.3h0M455.6 511.7h0M492.7 512.3h0M495.9 512.5h0M502.7 512.9h0M506.2 511.9h0M304.7 515.6h0M393.6 515.8h0M425.0 515.5h0M449.4 514.9h0M489.5 516.0h0M509.7 515.5h0M530.2 514.6h0M187.3 518.1h0M307.3 518.6h0M322.8 517.8h0M329.0 518.7h0M409.3 518.4h0M484.8 517.3h0M487.0 518.6h0M499.5 518.6h0M533.1 518.4h0M406.6 521.6h0M419.4 521.2h0M435.4 521.6h0M449.9 521.6h0M484.2 520.5h0M142.5 524.5h0M171.6 524.1h0M245.0 523.6h0M415.9 525.2h0M419.8 524.6h0M536.9 524.6h0M232.8 527.1h0M323.1 527.3h0M425.7 527.9h0M434.2 527.3h0M486.7 527.7h0M490.1 526.7h0M500.3 526.7h0M509.7 527.9h0M520.9 527.5h0M527.6 527.6h0M165.5 530.1h0M170.6 530.6h0M291.6 530.8h0M323.7 531.5h0M335.4 530.0h0M412.9 529.9h0M435.3 530.9h0M471.4 530.0h0M514.5 530.5h0M534.6 531.1h0M208.6 533.7h0M216.7 534.1h0M274.1 534.5h0M282.5 533.5h0M385.0 533.1h0M462.7 533.9h0M497.2 534.5h0M516.0 533.8h0M59.4 537.6h0M140.6 536.6h0M146.7 537.3h0M151.7 537.2h0M179.8 537.5h0M295.8 535.9h0M298.0 536.8h0M319.8 536.7h0M356.7 536.4h0M419.9 536.7h0M515.8 536.4h0M121.7 539.5h0M218.3 539.7h0M230.6 540.8h0M252.5 540.7h0M272.6 540.7h0M359.8 540.6h0M112.9 542.8h0M136.8 543.6h0M159.2 543.4h0M187.1 543.9h0M241.7 543.2h0M295.7 542.2h0M297.9 543.8h0M322.4 543.4h0M334.6 543.8h0M87.0 547.0h0M170.3 545.6h0M176.6 545.3h0M186.6 546.3h0M233.6 546.6h0M165.6 549.6h0M180.2 549.8h0M203.0 548.4h0M248.5 548.5h0M274.3 549.6h0M280.1 548.8h0M282.7 549.1h0M338.6 549.6h0M340.9 549.2h0M366.8 548.4h0M543.5 548.9h0M113.1 552.3h0M140.4 551.5h0M148.7 552.8h0M177.1 552.6h0M246.2 553.0h0M248.1 551.6h0M251.3 551.5h0M258.3 552.4h0M345.0 551.8h0M354.6 552.6h0M503.2 552.4h0M512.9 553.0h0M195.7 554.7h0M236.9 554.6h0M242.3 555.9h0M244.6 555.8h0M247.9 554.5h0M255.2 554.8h0M271.2 555.3h0M273.5 555.4h0M363.4 555.3h0M369.1 554.8h0M382.3 555.1h0M421.4 554.6h0M497.1 556.2h0M81.4 558.0h0M150.2 558.2h0M156.0 558.0h0M233.7 559.3h0M239.4 558.6h0M248.3 558.3h0M255.2 559.0h0M261.1 557.8h0M274.0 559.2h0M344.4 558.6h0M356.7 558.4h0M377.9 559.0h0M437.0 558.6h0M108.5 562.2h0M134.1 561.5h0M334.5 562.3h0M362.8 561.8h0M371.9 561.0h0M409.0 562.1h0M425.6 561.3h0M443.7 561.9h0M527.4 562.0h0M75.8 564.3h0M99.5 565.0h0M125.1 563.8h0M264.2 565.0h0M266.3 563.9h0M358.0 565.5h0M360.6 565.4h0M366.5 564.7h0M378.0 565.5h0M394.1 564.4h0M397.3 565.4h0M410.4 565.1h0M425.8 563.9h0M475.2 564.7h0M147.0 567.5h0M251.7 568.4h0M255.2 567.7h0M350.4 567.4h0M382.4 567.0h0M384.6 568.6h0M409.5 567.2h0M416.4 568.4h0M432.0 568.4h0M542.4 568.4h0M242.3 570.5h0M249.2 571.4h0M261.0 571.4h0M371.9 571.6h0M400.2 571.1h0M428.3 571.4h0M431.1 570.7h0M463.0 570.8h0M475.7 570.7h0M246.1 574.7h0M356.7 574.7h0M370.2 574.0h0M376.4 573.6h0M385.8 574.2h0M388.4 574.7h0M398.3 573.3h0M415.8 573.8h0M428.2 573.9h0M460.1 574.5h0M469.0 574.8h0M477.7 573.4h0M93.0 576.6h0M251.2 576.5h0M272.7 576.9h0M307.9 577.8h0M381.0 576.6h0M400.1 576.5h0M412.9 576.5h0M424.9 576.8h0M453.4 577.1h0M455.5 576.9h0M458.6 576.6h0M475.0 577.4h0M530.6 576.9h0M149.1 581.0h0M229.7 580.6h0M269.8 579.4h0M310.6 579.7h0M359.8 580.0h0M369.0 579.5h0M375.1 580.3h0M456.6 580.8h0M466.3 580.7h0M474.1 580.0h0M486.8 580.4h0M490.6 580.6h0M534.3 580.2h0M539.9 580.0h0M58.7 582.9h0M140.3 583.1h0M245.4 584.1h0M264.0 583.1h0M362.7 583.5h0M375.2 582.8h0M387.6 582.4h0M412.7 583.1h0M425.7 582.6h0M452.4 583.3h0M533.2 582.4h0M120.8 585.8h0M375.6 586.2h0M412.2 585.9h0M440.2 587.1h0M468.6 586.6h0M109.7 589.5h0M360.6 589.4h0M375.8 590.0h0M509.4 589.7h0M522.2 589.9h0M126.9 592.9h0M207.5 593.1h0M347.7 592.7h0M350.4 592.6h0M353.7 592.1h0M385.8 593.5h0M393.4 591.7h0M398.3 592.1h0M469.1 592.2h0M496.1 593.1h0M133.8 595.0h0M276.9 595.9h0M372.5 594.8h0M410.6 595.6h0M518.1 596.2h0M533.7 596.5h0M243.0 599.0h0M257.3 598.2h0M338.2 599.1h0M487.0 598.5h0M84.2 602.6h0M142.4 601.7h0M159.2 601.3h0M282.8 601.8h0M353.4 602.4h0M536.5 601.2h0M99.1 605.5h0M71.6 608.8h0M127.0 607.8h0M80.6 611.0h0M84.8 611.7h0M108.7 611.5h0M155.1 614.8h0M93.5 616.9h0M450.5 617.0h0M503.0 617.5h0M523.7 617.2h0M81.0 619.7h0M83.4 621.2h0M388.0 623.0h0M390.8 624.0h0M68.1 626.0h0M74.3 626.8h0M422.7 626.0h0M356.4 636.2h0" stroke="#222" stroke-opacity="0.35" stroke-width="2.3"/>
<path d="M122.0 452.2h0M264.0 453.2h0M395.0 453.2h0M345.1 455.6h0M456.5 459.0h0M515.9 462.1h0M530.8 462.5h0M80.5 466.3h0M298.2 466.3h0M90.2 468.7h0M97.5 469.1h0M106.7 468.0h0M121.6 467.7h0M155.2 469.3h0M173.7 469.0h0M218.2 468.7h0M220.0 469.2h0M277.4 469.4h0M279.0 469.2h0M288.7 469.2h0M298.3 469.1h0M301.1 469.4h0M313.8 467.9h0M316.6 467.9h0M325.3 468.8h0M329.9 469.2h0M334.8 468.1h0M366.1 468.0h0M105.6 472.3h0M130.2 471.9h0M143.7 472.6h0M159.0 471.3h0M208.6 472.5h0M211.7 471.6h0M219.9 471.1h0M223.6 471.1h0M236.4 471.7h0M245.9 470.9h0M263.3 472.2h0M273.0 471.3h0M279.8 470.9h0M281.9 471.5h0M288.5 472.5h0M292.4 471.4h0M295.8 471.6h0M298.5 472.2h0M301.2 472.3h0M304.6 470.9h0M308.1 471.5h0M325.3 472.4h0M329.3 472.3h0M81.5 474.0h0M118.2 474.5h0M133.1 475.3h0M140.2 474.7h0M161.6 475.3h0M180.7 474.4h0M190.3 474.4h0M192.0 474.1h0M233.6 475.3h0M260.7 474.4h0M266.6 473.9h0M279.5 475.2h0M285.1 475.2h0M288.4 474.0h0M291.5 474.8h0M295.8 475.3h0M298.0 475.2h0M300.6 475.2h0M309.8 474.8h0M319.5 474.3h0M329.5 474.0h0M335.8 475.6h0M493.7 474.6h0M62.5 477.5h0M68.1 478.2h0M94.5 478.5h0M96.4 477.9h0M120.7 477.4h0M164.8 478.0h0M173.6 478.5h0M193.5 477.9h0M195.9 478.1h0M224.0 478.1h0M233.3 478.8h0M241.9 477.3h0M254.7 477.1h0M279.1 478.7h0M286.2 478.4h0M295.4 477.7h0M297.6 477.2h0M301.2 478.3h0M307.9 477.5h0M310.6 477.7h0M320.6 477.0h0M323.6 478.3h0M325.3 478.3h0M329.5 478.2h0M357.9 477.2h0M384.8 477.9h0M62.8 480.9h0M83.8 480.8h0M100.4 480.1h0M102.2 480.3h0M124.1 480.5h0M164.1 481.8h0M177.9 480.7h0M189.5 481.3h0M196.0 480.8h0M212.2 480.5h0M232.3 481.6h0M248.8 481.8h0M251.1 480.2h0M267.2 481.2h0M276.8 480.9h0M279.9 480.4h0M282.1 480.3h0M285.9 480.2h0M294.2 480.4h0M300.6 480.1h0M305.1 481.3h0M307.3 480.6h0M309.8 481.7h0M314.5 481.3h0M317.1 481.7h0M319.7 481.7h0M323.6 481.1h0M326.5 480.3h0M400.1 480.3h0M415.7 480.6h0M422.8 480.3h0M494.0 480.3h0M69.3 483.6h0M80.4 483.7h0M87.3 484.0h0M112.6 484.2h0M118.4 483.2h0M130.7 483.8h0M134.1 484.4h0M187.3 484.8h0M193.4 484.0h0M245.4 483.8h0M249.2 483.8h0M252.3 484.9h0M260.9 484.1h0M276.2 484.8h0M282.5 483.5h0M285.2 484.8h0M289.0 483.5h0M295.9 483.8h0M298.4 483.4h0M302.2 484.0h0M305.0 483.7h0M309.7 484.4h0M313.2 484.0h0M320.3 484.1h0M322.3 484.8h0M328.9 484.1h0M387.4 483.5h0M502.8 484.3h0M124.7 486.3h0M160.9 486.5h0M195.4 486.7h0M229.1 486.5h0M239.8 487.3h0M273.7 487.3h0M277.1 486.7h0M286.5 486.3h0M294.4 487.8h0M304.1 487.1h0M308.0 487.7h0M316.5 487.0h0M319.9 487.9h0M329.5 486.7h0M105.9 489.7h0M127.6 490.5h0M142.5 489.9h0M221.3 489.4h0M236.3 490.7h0M260.6 490.6h0M279.4 489.9h0M283.1 491.1h0M285.7 490.6h0M288.8 489.4h0M291.4 490.2h0M295.7 490.5h0M302.0 489.9h0M313.2 490.9h0M327.0 491.2h0M418.5 489.4h0M437.6 489.8h0M453.2 489.7h0M118.9 494.2h0M150.1 493.4h0M159.5 493.5h0M199.3 492.7h0M278.8 494.1h0M281.9 492.8h0M285.7 493.5h0M289.7 492.6h0M297.8 494.0h0M300.7 492.8h0M308.1 494.1h0M311.4 492.7h0M313.8 493.4h0M316.6 493.3h0M320.4 493.4h0M322.9 492.7h0M325.7 493.4h0M462.0 494.1h0M487.6 493.4h0M214.8 496.3h0M272.8 497.2h0M278.8 496.7h0M282.2 497.3h0M286.3 495.8h0M288.9 495.8h0M298.0 496.8h0M301.2 496.5h0M304.8 496.1h0M316.3 496.0h0M320.0 496.1h0M323.6 497.1h0M335.7 497.0h0M435.2 496.0h0M488.0 495.9h0M495.8 496.1h0M500.2 496.0h0M502.4 496.6h0M505.8 495.7h0M512.6 495.7h0M515.0 497.2h0M277.1 499.8h0M283.2 499.8h0M285.0 499.8h0M295.7 500.1h0M306.8 500.4h0M311.3 499.6h0M314.4 499.9h0M317.5 498.8h0M320.1 500.2h0M322.6 499.7h0M329.5 500.2h0M368.8 499.9h0M421.9 498.8h0M486.7 499.3h0M490.2 499.8h0M493.6 500.5h0M499.7 498.7h0M503.5 498.9h0M506.5 499.9h0M508.3 499.7h0M515.7 498.8h0M277.0 503.5h0M282.8 502.3h0M292.8 503.2h0M295.1 503.5h0M300.9 502.0h0M304.4 502.3h0M310.6 502.3h0M314.5 502.5h0M320.6 503.4h0M396.6 502.1h0M443.9 502.5h0M450.6 502.9h0M469.0 503.4h0M491.0 502.5h0M497.1 502.5h0M499.0 502.3h0M506.0 501.9h0M509.3 502.8h0M171.0 505.7h0M174.6 506.2h0M276.7 506.7h0M279.7 505.6h0M288.4 505.0h0M298.2 506.2h0M301.9 505.4h0M304.1 505.5h0M307.7 506.1h0M310.5 506.0h0M317.6 506.0h0M322.1 505.8h0M326.8 505.0h0M447.1 506.0h0M452.4 505.9h0M461.9 505.1h0M468.8 505.7h0M487.6 505.4h0M490.5 506.3h0M496.2 506.5h0M509.6 506.6h0M83.7 509.8h0M100.4 508.8h0M282.5 509.7h0M291.5 508.1h0M295.8 509.1h0M300.7 509.3h0M306.6 509.7h0M311.4 508.4h0M316.0 508.3h0M320.2 509.3h0M415.9 509.8h0M419.8 508.3h0M425.9 509.4h0M428.6 509.1h0M431.3 508.4h0M435.1 509.3h0M443.4 508.2h0M450.0 508.3h0M468.5 509.1h0M488.1 509.6h0M499.7 509.0h0M502.4 509.5h0M512.7 508.6h0M514.8 508.9h0M277.0 512.1h0M285.9 512.0h0M288.5 512.6h0M305.3 512.0h0M311.4 511.2h0M313.5 512.6h0M320.3 512.8h0M325.5 511.5h0M406.9 512.2h0M412.1 511.4h0M418.6 511.6h0M422.0 511.1h0M424.9 512.7h0M429.1 512.8h0M432.1 512.8h0M447.7 512.7h0M449.3 512.8h0M452.6 511.3h0M460.0 512.5h0M466.0 511.7h0M487.0 511.3h0M490.2 512.5h0M500.4 512.3h0M508.7 512.7h0M512.1 511.7h0M159.6 514.2h0M165.0 514.2h0M167.1 515.5h0M170.5 514.3h0M208.7 514.4h0M236.3 514.6h0M251.5 515.3h0M277.0 515.7h0M283.2 515.0h0M295.1 514.6h0M297.6 514.4h0M301.2 514.3h0M306.8 515.6h0M310.8 515.7h0M314.4 515.2h0M316.8 515.6h0M319.6 514.9h0M322.5 515.4h0M326.0 514.9h0M404.2 514.7h0M407.5 514.2h0M415.8 515.9h0M419.4 515.9h0M423.1 514.7h0M432.3 515.0h0M452.7 515.4h0M456.9 515.3h0M458.5 514.4h0M488.0 514.4h0M493.7 515.0h0M505.5 515.2h0M155.8 517.6h0M297.8 518.6h0M311.0 517.5h0M314.3 517.6h0M326.7 517.6h0M404.2 518.0h0M406.9 518.0h0M412.4 518.0h0M419.3 517.8h0M449.4 517.4h0M453.6 518.3h0M456.1 517.5h0M459.3 518.9h0M462.4 517.4h0M489.8 518.5h0M493.9 518.4h0M526.9 518.6h0M154.8 521.2h0M214.6 522.0h0M295.8 521.3h0M319.6 522.2h0M325.9 521.4h0M385.3 522.0h0M396.8 521.9h0M404.5 521.6h0M410.4 520.5h0M415.6 521.4h0M424.7 521.4h0M457.1 521.9h0M459.0 521.0h0M490.6 521.9h0M493.6 520.6h0M496.4 520.9h0M500.1 520.5h0M518.2 521.0h0M521.4 521.3h0M524.5 521.3h0M527.5 521.2h0M530.8 520.8h0M140.9 523.8h0M180.3 524.8h0M184.3 523.9h0M322.8 525.0h0M344.3 523.7h0M404.1 524.9h0M406.3 524.2h0M410.2 524.7h0M421.3 523.8h0M450.2 525.1h0M467.8 524.6h0M490.8 523.6h0M493.3 524.2h0M497.0 524.6h0M508.1 525.2h0M155.5 526.9h0M205.0 527.5h0M319.6 526.9h0M350.7 527.3h0M401.0 527.2h0M403.9 526.7h0M409.4 528.2h0M413.7 527.8h0M416.9 527.3h0M418.9 526.9h0M423.0 528.1h0M427.9 528.0h0M453.7 527.0h0M483.9 528.4h0M86.6 530.7h0M149.4 529.8h0M360.7 531.0h0M394.5 529.9h0M422.9 530.6h0M484.4 530.7h0M487.7 530.5h0M490.3 530.1h0M506.0 530.2h0M508.2 530.5h0M512.8 531.0h0M72.7 533.8h0M146.2 534.3h0M149.2 534.0h0M162.0 533.3h0M171.4 533.9h0M177.1 532.8h0M330.0 533.7h0M341.6 533.9h0M382.7 533.7h0M490.5 533.8h0M506.7 533.4h0M509.5 533.2h0M94.2 537.1h0M142.4 537.5h0M317.2 537.6h0M335.6 537.1h0M341.6 536.2h0M387.9 537.1h0M410.4 537.0h0M456.7 537.6h0M462.8 536.9h0M139.2 539.1h0M150.0 539.0h0M152.1 539.0h0M165.3 540.6h0M168.2 539.6h0M193.3 539.7h0M280.3 540.5h0M325.7 539.8h0M344.2 539.6h0M363.1 540.1h0M404.0 540.7h0M428.4 540.6h0M506.7 539.9h0M72.8 542.4h0M151.6 543.4h0M167.3 542.6h0M177.4 543.4h0M180.7 542.8h0M229.6 542.9h0M257.9 542.4h0M261.4 542.6h0M272.9 542.4h0M279.5 542.6h0M326.0 542.5h0M360.9 542.5h0M437.7 543.9h0M490.4 542.9h0M536.7 543.2h0M89.8 546.3h0M93.6 545.5h0M146.3 546.8h0M162.5 546.1h0M180.4 546.0h0M183.3 545.4h0M192.0 546.4h0M199.8 545.4h0M201.5 545.4h0M205.6 546.3h0M227.6 546.5h0M235.6 546.6h0M254.5 546.8h0M276.7 547.0h0M376.2 546.5h0M519.0 545.5h0M521.5 545.2h0M140.6 549.4h0M150.1 550.0h0M161.9 549.5h0M192.7 548.3h0M199.9 549.1h0M205.5 549.7h0M208.2 549.0h0M233.4 549.2h0M237.0 549.3h0M238.5 549.0h0M257.4 549.7h0M263.4 549.2h0M275.8 549.7h0M323.7 549.7h0M348.4 548.3h0M370.3 548.6h0M378.7 549.2h0M90.6 551.4h0M94.3 551.5h0M108.2 552.2h0M133.1 552.9h0M142.3 551.7h0M165.2 552.8h0M184.2 552.0h0M193.5 552.4h0M199.3 551.7h0M202.5 553.0h0M208.9 552.6h0M236.4 552.2h0M240.1 551.4h0M243.1 551.8h0M254.1 551.9h0M260.7 551.6h0M264.4 552.7h0M266.4 552.2h0M270.7 551.8h0M272.7 551.7h0M279.2 552.1h0M282.7 552.9h0M350.6 553.1h0M357.5 553.0h0M366.3 551.6h0M369.0 553.2h0M372.1 552.0h0M381.3 552.8h0M461.7 552.2h0M61.9 555.8h0M111.6 555.7h0M159.0 555.7h0M239.9 554.8h0M251.5 555.6h0M257.9 555.2h0M264.8 555.7h0M266.9 556.2h0M275.7 556.2h0M278.8 555.5h0M351.4 555.4h0M503.4 555.5h0M515.8 556.0h0M543.0 555.8h0M118.0 557.9h0M125.4 558.9h0M137.5 558.1h0M144.0 558.4h0M146.3 557.9h0M211.6 558.3h0M237.0 557.8h0M241.7 558.3h0M245.7 559.2h0M251.1 558.2h0M258.6 557.8h0M264.2 558.1h0M268.0 559.3h0M269.4 558.1h0M277.3 558.7h0M280.2 558.0h0M288.9 557.9h0M363.0 557.9h0M372.1 557.9h0M384.5 558.7h0M415.5 558.8h0M424.7 558.3h0M447.0 559.2h0M84.8 560.8h0M93.1 562.2h0M100.4 561.4h0M118.6 561.6h0M140.2 561.5h0M149.6 560.8h0M158.1 560.9h0M239.1 561.2h0M241.7 561.7h0M246.0 562.5h0M248.0 562.0h0M254.5 561.0h0M258.2 562.0h0M261.0 562.4h0M267.3 562.1h0M276.0 562.2h0M278.8 561.7h0M341.9 562.2h0M348.1 561.9h0M353.1 562.3h0M356.4 562.3h0M360.4 562.1h0M370.0 561.1h0M387.8 561.2h0M394.8 562.4h0M401.3 562.2h0M403.2 561.3h0M434.8 561.5h0M437.2 562.1h0M441.0 562.2h0M530.1 561.1h0M71.5 565.4h0M78.7 565.2h0M143.6 564.5h0M233.1 564.2h0M242.9 565.5h0M245.7 564.3h0M249.4 565.1h0M252.6 565.5h0M260.3 564.8h0M273.7 565.0h0M280.2 565.6h0M317.7 564.3h0M322.5 565.1h0M363.9 563.9h0M373.0 564.8h0M375.6 565.2h0M388.9 564.7h0M399.9 565.6h0M402.8 565.6h0M407.4 564.0h0M415.6 564.0h0M423.1 565.5h0M431.3 564.1h0M434.6 564.6h0M81.1 567.3h0M89.7 568.1h0M121.4 568.1h0M125.4 568.3h0M183.8 568.4h0M257.7 567.1h0M261.7 567.7h0M267.4 567.2h0M270.5 568.1h0M273.5 567.1h0M277.0 567.8h0M279.2 567.3h0M347.3 568.1h0M360.5 567.4h0M362.6 568.0h0M366.0 567.1h0M372.1 566.9h0M375.0 567.0h0M378.1 568.0h0M388.8 566.9h0M394.0 567.5h0M400.3 568.6h0M403.7 568.1h0M406.7 567.9h0M412.6 567.6h0M427.9 567.3h0M453.0 567.2h0M455.6 568.3h0M459.4 568.4h0M463.0 568.1h0M468.4 567.5h0M474.7 566.9h0M68.6 570.6h0M102.5 571.4h0M134.5 570.2h0M136.4 571.6h0M152.5 570.9h0M246.3 570.1h0M251.1 571.8h0M255.5 571.6h0M267.2 570.7h0M271.0 570.5h0M273.3 571.1h0M275.7 570.1h0M280.2 571.4h0M282.6 571.3h0M285.1 570.8h0M351.2 570.6h0M359.4 571.2h0M362.8 570.5h0M370.3 571.7h0M378.0 570.4h0M385.4 570.2h0M390.4 571.1h0M394.0 570.7h0M396.7 570.9h0M403.3 570.8h0M410.3 570.4h0M416.3 570.8h0M434.7 571.6h0M436.9 570.0h0M454.0 570.1h0M456.6 571.1h0M458.6 570.4h0M464.9 570.6h0M468.6 570.5h0M471.1 570.5h0M478.3 570.9h0M523.9 571.0h0M526.7 571.3h0M536.4 571.4h0M62.1 574.0h0M78.6 574.3h0M114.7 574.1h0M137.7 573.8h0M249.4 573.6h0M251.1 573.8h0M255.7 573.6h0M260.7 573.3h0M266.4 573.4h0M276.5 573.5h0M310.4 574.8h0M314.2 574.0h0M322.3 573.2h0M338.2 574.7h0M341.3 573.7h0M343.8 574.1h0M350.2 574.5h0M354.4 573.3h0M363.5 573.8h0M366.4 573.4h0M373.1 573.7h0M378.4 573.3h0M393.7 573.4h0M404.1 573.1h0M405.9 574.0h0M410.3 573.9h0M413.0 573.3h0M418.7 574.2h0M422.2 573.7h0M447.4 573.8h0M450.7 574.9h0M453.6 573.8h0M474.5 574.6h0M540.1 573.9h0M86.7 576.9h0M131.3 577.7h0M255.2 577.5h0M304.0 576.7h0M351.2 577.7h0M353.9 577.8h0M356.8 577.5h0M360.5 577.6h0M364.1 576.2h0M365.9 576.3h0M372.0 576.7h0M376.4 576.3h0M379.2 576.9h0M384.5 576.5h0M406.7 578.0h0M410.5 577.1h0M416.8 577.9h0M419.1 577.6h0M450.1 577.6h0M462.1 577.8h0M465.2 577.9h0M472.5 577.5h0M481.6 577.8h0M537.7 576.4h0M543.5 576.8h0M60.1 580.2h0M89.7 580.9h0M96.8 580.7h0M155.3 580.4h0M182.8 580.9h0M201.6 580.6h0M279.4 580.5h0M307.8 580.8h0M314.3 579.5h0M350.6 581.0h0M357.4 579.9h0M363.0 579.4h0M382.2 579.9h0M384.8 580.7h0M388.0 580.7h0M390.7 579.3h0M397.8 580.9h0M400.0 579.7h0M403.3 579.6h0M406.3 580.3h0M410.3 581.0h0M419.2 580.1h0M428.2 580.1h0M434.7 579.8h0M463.1 580.1h0M469.5 580.2h0M480.4 580.5h0M536.9 580.6h0M543.3 579.4h0M81.5 583.4h0M92.8 582.8h0M144.0 583.1h0M148.5 582.5h0M260.1 582.5h0M360.9 582.5h0M369.4 583.0h0M372.9 582.9h0M378.9 582.6h0M392.0 583.9h0M402.9 584.0h0M416.1 582.8h0M440.1 583.5h0M447.6 583.0h0M449.9 583.2h0M456.7 582.8h0M459.1 582.6h0M462.2 584.1h0M466.3 582.9h0M468.7 582.6h0M472.6 583.9h0M475.8 583.8h0M486.5 582.9h0M521.5 582.9h0M109.4 586.1h0M152.9 586.4h0M251.4 586.6h0M254.4 586.7h0M313.6 585.8h0M360.0 586.8h0M362.6 585.9h0M371.9 587.2h0M378.9 586.1h0M382.7 585.6h0M387.4 585.8h0M397.9 587.1h0M407.3 586.5h0M415.6 587.3h0M456.4 586.0h0M487.1 586.1h0M502.4 586.6h0M515.6 585.7h0M542.7 585.8h0M59.4 589.5h0M65.3 590.4h0M69.3 589.1h0M84.6 588.9h0M152.4 590.1h0M245.4 589.9h0M270.4 589.2h0M273.4 589.7h0M311.2 588.6h0M353.7 589.3h0M357.4 589.7h0M390.6 590.2h0M401.2 589.4h0M404.2 589.9h0M409.5 588.9h0M422.7 588.6h0M438.4 589.3h0M450.2 589.1h0M500.5 590.2h0M539.8 589.4h0M543.7 589.3h0M93.1 591.9h0M251.9 592.8h0M254.2 592.6h0M283.3 592.2h0M307.0 593.1h0M326.4 593.5h0M329.9 592.9h0M362.6 593.2h0M370.4 592.2h0M378.4 591.9h0M388.4 592.1h0M399.6 593.1h0M460.0 593.2h0M543.1 593.4h0M106.1 596.4h0M111.7 595.9h0M121.8 595.3h0M124.8 596.4h0M233.4 595.2h0M250.9 596.0h0M394.9 595.5h0M407.1 595.9h0M418.2 596.4h0M63.0 598.4h0M74.7 598.7h0M81.7 598.0h0M88.3 597.9h0M102.4 598.9h0M162.6 599.2h0M244.7 598.7h0M252.5 598.1h0M255.5 598.2h0M279.9 599.6h0M519.1 598.5h0M522.3 599.3h0M81.3 602.4h0M127.4 601.1h0M280.3 601.3h0M520.9 602.7h0M92.8 604.2h0M118.8 604.8h0M146.7 605.6h0M272.8 604.1h0M543.2 604.4h0M59.3 608.0h0M61.9 608.3h0M134.0 607.7h0M136.9 609.0h0M140.6 608.8h0M148.6 608.9h0M518.6 608.1h0M102.3 611.5h0M120.8 614.1h0M137.8 613.6h0M65.0 616.5h0M72.7 617.2h0M77.2 618.0h0M102.7 617.1h0M130.1 618.3h0M66.4 620.5h0M103.5 621.1h0M105.2 620.2h0M136.4 621.3h0M81.1 623.0h0M84.0 622.7h0M123.8 623.4h0M128.5 622.9h0M134.6 623.1h0M252.0 623.0h0M372.2 623.8h0M102.4 627.5h0M125.4 626.3h0M134.8 625.9h0M149.2 626.8h0M188.9 626.7h0M428.7 626.3h0M62.0 630.5h0M66.2 630.3h0M72.6 629.9h0M93.6 630.5h0M96.8 630.2h0M418.9 629.1h0M109.6 632.2h0M112.3 635.6h0M124.8 636.4h0M112.1 638.7h0M345.3 639.3h0" stroke="#000" stroke-opacity="0.85" stroke-width="2.8"/>
</g>
<g filter="url(#b09)"><g fill="#050505"><circle cx="78.3" cy="512.5" r="2.8"/><circle cx="87.3" cy="515.3" r="2.4"/><circle cx="88.8" cy="513.3" r="1.9"/><circle cx="83.3" cy="508.5" r="3.0"/><circle cx="91.2" cy="511.4" r="2.2"/><circle cx="88.3" cy="510.0" r="2.1"/><circle cx="79.0" cy="511.5" r="2.6"/><circle cx="91.3" cy="513.6" r="3.0"/><circle cx="89.1" cy="509.6" r="2.7"/></g><g fill="#050505"><circle cx="179.3" cy="508.3" r="3.3"/><circle cx="184.8" cy="511.6" r="2.9"/><circle cx="173.4" cy="508.7" r="2.4"/><circle cx="181.1" cy="508.5" r="3.3"/><circle cx="171.4" cy="515.2" r="2.5"/><circle cx="177.5" cy="509.9" r="2.9"/><circle cx="176.5" cy="508.5" r="2.6"/><circle cx="174.9" cy="507.3" r="3.1"/><circle cx="180.9" cy="514.0" r="3.2"/><circle cx="176.3" cy="510.6" r="2.6"/></g><g fill="#050505"><circle cx="58.8" cy="588.4" r="2.4"/><circle cx="65.6" cy="588.3" r="2.7"/><circle cx="64.4" cy="587.8" r="2.2"/><circle cx="63.4" cy="588.4" r="2.9"/><circle cx="67.6" cy="589.8" r="2.7"/><circle cx="59.7" cy="582.5" r="3.3"/><circle cx="65.3" cy="588.3" r="2.8"/><circle cx="63.0" cy="583.7" r="2.9"/></g><g fill="#050505"><circle cx="270.7" cy="585.4" r="3.0"/><circle cx="267.8" cy="582.0" r="2.1"/><circle cx="266.2" cy="580.7" r="2.5"/><circle cx="261.7" cy="590.6" r="2.0"/><circle cx="261.7" cy="580.5" r="2.1"/><circle cx="265.3" cy="581.6" r="2.5"/><circle cx="267.8" cy="589.1" r="2.5"/><circle cx="268.4" cy="587.0" r="3.1"/><circle cx="262.0" cy="584.2" r="2.8"/></g><g fill="#050505"><circle cx="311.0" cy="485.5" r="2.2"/><circle cx="310.6" cy="499.4" r="1.8"/><circle cx="295.1" cy="495.7" r="2.2"/><circle cx="308.8" cy="500.7" r="2.6"/><circle cx="302.2" cy="487.7" r="2.6"/><circle cx="308.3" cy="489.8" r="2.4"/><circle cx="305.9" cy="486.2" r="2.1"/><circle cx="306.8" cy="482.4" r="2.6"/><circle cx="312.8" cy="499.9" r="2.1"/><circle cx="302.8" cy="502.2" r="2.3"/><circle cx="309.4" cy="499.3" r="2.5"/><circle cx="308.5" cy="501.9" r="3.1"/><circle cx="296.7" cy="492.5" r="1.9"/><circle cx="301.8" cy="483.5" r="2.0"/><circle cx="308.2" cy="482.0" r="2.0"/><circle cx="298.3" cy="481.7" r="2.6"/><circle cx="310.7" cy="495.1" r="2.5"/><circle cx="305.9" cy="497.3" r="2.2"/><circle cx="313.9" cy="496.7" r="2.9"/><circle cx="305.5" cy="492.5" r="2.8"/><circle cx="307.1" cy="480.7" r="3.0"/><circle cx="297.2" cy="491.6" r="2.4"/><circle cx="294.4" cy="493.9" r="2.6"/><circle cx="313.1" cy="494.7" r="2.2"/><circle cx="306.7" cy="503.0" r="2.6"/><circle cx="309.9" cy="485.1" r="2.0"/></g><g fill="#050505"><circle cx="353.3" cy="528.8" r="2.6"/><circle cx="354.9" cy="528.5" r="2.6"/><circle cx="341.4" cy="527.3" r="2.1"/><circle cx="350.5" cy="527.2" r="2.5"/><circle cx="341.7" cy="527.4" r="2.2"/><circle cx="342.5" cy="529.7" r="2.7"/><circle cx="345.6" cy="528.0" r="2.8"/><circle cx="350.8" cy="533.0" r="2.9"/></g><g fill="#050505"><circle cx="356.7" cy="535.4" r="1.7"/><circle cx="357.4" cy="531.1" r="2.8"/><circle cx="353.9" cy="532.7" r="2.5"/><circle cx="356.5" cy="534.5" r="2.0"/></g><g fill="#050505"><circle cx="385.0" cy="537.6" r="2.6"/><circle cx="386.6" cy="536.9" r="1.9"/><circle cx="387.0" cy="535.3" r="2.2"/></g><g fill="#050505"><circle cx="416.3" cy="522.5" r="2.7"/><circle cx="418.9" cy="518.2" r="1.9"/><circle cx="417.0" cy="522.8" r="1.9"/><circle cx="418.9" cy="521.0" r="2.5"/><circle cx="421.5" cy="516.4" r="2.5"/></g><g fill="#050505"><circle cx="455.9" cy="515.6" r="2.5"/><circle cx="453.4" cy="516.0" r="3.1"/><circle cx="459.9" cy="516.2" r="2.8"/><circle cx="458.3" cy="513.8" r="2.9"/><circle cx="464.4" cy="516.5" r="2.5"/><circle cx="462.8" cy="518.3" r="2.6"/><circle cx="453.9" cy="518.2" r="3.1"/></g><g fill="#050505"><circle cx="508.7" cy="508.5" r="3.3"/><circle cx="495.0" cy="510.6" r="2.5"/><circle cx="500.8" cy="501.6" r="2.7"/><circle cx="496.3" cy="500.9" r="3.3"/><circle cx="502.6" cy="511.6" r="2.7"/><circle cx="501.8" cy="514.5" r="2.5"/><circle cx="497.3" cy="511.2" r="3.6"/><circle cx="499.2" cy="520.0" r="3.6"/><circle cx="507.7" cy="504.3" r="2.7"/><circle cx="494.6" cy="509.9" r="3.4"/><circle cx="499.9" cy="507.2" r="2.3"/><circle cx="492.8" cy="518.1" r="3.5"/><circle cx="495.3" cy="503.1" r="2.8"/><circle cx="494.0" cy="510.7" r="2.8"/><circle cx="502.6" cy="511.3" r="2.9"/><circle cx="498.5" cy="519.1" r="2.6"/><circle cx="499.9" cy="503.7" r="3.5"/><circle cx="507.5" cy="513.3" r="2.9"/></g><g fill="#050505"><circle cx="532.6" cy="520.7" r="2.8"/><circle cx="530.0" cy="522.2" r="2.4"/><circle cx="527.4" cy="520.5" r="2.2"/><circle cx="527.8" cy="524.4" r="2.2"/></g><g fill="#050505"><circle cx="391.6" cy="579.7" r="2.4"/><circle cx="396.4" cy="582.0" r="2.6"/><circle cx="384.6" cy="575.2" r="2.2"/><circle cx="389.6" cy="582.6" r="2.6"/><circle cx="391.3" cy="576.5" r="2.0"/><circle cx="394.3" cy="582.2" r="1.9"/><circle cx="391.0" cy="576.4" r="2.4"/><circle cx="386.6" cy="573.7" r="2.5"/><circle cx="387.8" cy="579.5" r="2.8"/><circle cx="393.8" cy="582.1" r="2.6"/></g><g fill="#050505"><circle cx="314.4" cy="583.9" r="3.0"/><circle cx="316.8" cy="584.4" r="2.6"/><circle cx="314.0" cy="584.3" r="2.4"/><circle cx="313.2" cy="585.7" r="3.1"/><circle cx="312.8" cy="589.7" r="2.8"/></g><g fill="#050505"><circle cx="457.4" cy="574.8" r="2.5"/><circle cx="457.5" cy="579.0" r="1.9"/><circle cx="457.8" cy="574.5" r="2.7"/></g><g fill="#050505"><circle cx="476.2" cy="579.2" r="1.8"/><circle cx="469.9" cy="582.5" r="2.7"/><circle cx="474.1" cy="582.1" r="2.3"/></g><g fill="#050505"><circle cx="528.9" cy="594.0" r="2.8"/><circle cx="527.9" cy="592.8" r="2.4"/><circle cx="522.0" cy="592.1" r="2.6"/><circle cx="529.4" cy="593.7" r="2.4"/><circle cx="522.8" cy="595.6" r="2.2"/><circle cx="519.7" cy="593.6" r="2.5"/><circle cx="528.9" cy="592.4" r="2.7"/></g><g fill="#050505"><circle cx="532.9" cy="567.6" r="2.3"/><circle cx="531.9" cy="570.1" r="2.0"/><circle cx="536.3" cy="571.7" r="2.3"/><circle cx="541.7" cy="570.3" r="2.0"/><circle cx="534.6" cy="570.2" r="1.8"/><circle cx="538.4" cy="572.4" r="2.6"/><circle cx="537.6" cy="575.1" r="2.4"/></g><g fill="#050505"><circle cx="186.6" cy="581.0" r="1.5"/><circle cx="185.6" cy="582.8" r="1.7"/></g></g>
<g filter="url(#b09)"><g fill="#ffffff"><circle cx="88.3" cy="511.2" r="1.5"/><circle cx="87.5" cy="513.6" r="2.0"/><circle cx="88.2" cy="510.3" r="2.0"/></g><g fill="#ffffff"><circle cx="361.8" cy="531.0" r="2.5"/><circle cx="362.5" cy="525.4" r="2.7"/><circle cx="358.1" cy="527.5" r="2.5"/><circle cx="360.7" cy="529.3" r="2.9"/><circle cx="359.1" cy="531.2" r="2.9"/><circle cx="365.9" cy="527.6" r="3.1"/><circle cx="364.2" cy="523.2" r="2.9"/><circle cx="360.8" cy="523.7" r="2.0"/></g><g fill="#ffffff"><circle cx="395.9" cy="536.2" r="2.1"/><circle cx="393.9" cy="534.4" r="1.6"/><circle cx="393.6" cy="536.0" r="2.4"/></g><g fill="#ffffff"><circle cx="437.2" cy="523.8" r="2.4"/><circle cx="440.5" cy="528.9" r="2.2"/><circle cx="437.5" cy="527.2" r="2.6"/><circle cx="432.5" cy="523.7" r="2.5"/><circle cx="439.1" cy="522.4" r="3.0"/><circle cx="433.8" cy="523.1" r="2.0"/><circle cx="438.1" cy="528.5" r="2.7"/><circle cx="440.9" cy="527.4" r="2.7"/></g><g fill="#ffffff"><circle cx="469.3" cy="514.3" r="2.9"/><circle cx="472.5" cy="512.3" r="2.7"/><circle cx="471.1" cy="515.8" r="2.1"/><circle cx="470.9" cy="519.3" r="1.9"/><circle cx="471.9" cy="511.9" r="2.3"/><circle cx="473.7" cy="519.5" r="3.1"/></g><g fill="#ffffff"><circle cx="506.1" cy="517.8" r="2.6"/><circle cx="506.7" cy="513.1" r="2.8"/><circle cx="508.7" cy="513.2" r="2.6"/><circle cx="509.2" cy="519.4" r="2.9"/><circle cx="510.7" cy="519.2" r="3.1"/></g><g fill="#ffffff"><circle cx="521.2" cy="512.2" r="2.1"/><circle cx="525.2" cy="509.1" r="2.8"/><circle cx="520.5" cy="513.7" r="2.8"/><circle cx="522.9" cy="513.0" r="2.7"/><circle cx="527.7" cy="511.1" r="3.0"/><circle cx="516.7" cy="509.7" r="2.6"/><circle cx="523.3" cy="515.2" r="2.8"/></g><g fill="#ffffff"><circle cx="540.4" cy="518.6" r="2.7"/><circle cx="539.2" cy="520.1" r="1.8"/><circle cx="537.9" cy="522.5" r="2.1"/><circle cx="537.5" cy="517.5" r="2.8"/><circle cx="541.5" cy="524.9" r="3.0"/><circle cx="541.1" cy="525.4" r="1.9"/><circle cx="537.4" cy="518.0" r="2.1"/></g><g fill="#ffffff"><circle cx="512.4" cy="597.0" r="2.3"/><circle cx="513.8" cy="598.8" r="3.2"/><circle cx="522.0" cy="585.9" r="2.2"/><circle cx="516.1" cy="575.6" r="2.0"/><circle cx="510.5" cy="591.8" r="2.9"/><circle cx="514.5" cy="591.3" r="2.5"/><circle cx="522.4" cy="587.0" r="2.7"/><circle cx="510.5" cy="585.0" r="3.0"/><circle cx="515.2" cy="581.2" r="2.2"/><circle cx="523.0" cy="586.3" r="2.4"/><circle cx="515.1" cy="594.2" r="2.6"/><circle cx="510.7" cy="583.5" r="2.1"/><circle cx="516.3" cy="589.8" r="3.1"/><circle cx="510.6" cy="577.7" r="3.2"/><circle cx="520.1" cy="579.3" r="2.7"/><circle cx="508.0" cy="593.9" r="2.6"/><circle cx="511.6" cy="600.8" r="2.8"/><circle cx="510.7" cy="590.3" r="2.8"/><circle cx="513.0" cy="601.8" r="3.1"/><circle cx="523.1" cy="593.8" r="2.4"/></g></g>
<circle cx="537.6" cy="583" r="4.2" fill="none" stroke="#fff" stroke-width="3" filter="url(#b05)"/><circle cx="538.4" cy="583.2" r="2.4" fill="#000"/>
<path d="M58.50,670.50 L60.43,670.61 L62.33,670.72 L64.21,670.83 L66.07,670.95 L67.90,671.08 L69.71,671.21 L71.51,671.34 L73.28,671.48 L75.04,671.62 L76.78,671.76 L78.50,671.90 L80.21,672.05 L81.91,672.20 L83.59,672.34 L85.26,672.49 L86.92,672.64 L88.57,672.79 L90.22,672.94 L91.85,673.09 L93.48,673.23 L95.11,673.38 L96.73,673.52 L98.34,673.66 L99.96,673.80 L101.57,673.93 L103.18,674.06 L104.80,674.19 L106.41,674.31 L108.03,674.43 L109.66,674.54 L111.29,674.65 L112.92,674.75 L114.56,674.85 L116.21,674.93 L117.87,675.02 L119.55,675.09 L121.23,675.16 L122.92,675.22 L124.63,675.27 L126.35,675.31 L128.09,675.34 L129.84,675.36 L131.62,675.38 L133.41,675.38 L135.22,675.37 L137.05,675.35 L138.90,675.32 L140.78,675.28 L142.68,675.23 L144.60,675.16 L146.53,675.09 L148.48,675.00 L150.44,674.90 L152.40,674.80 L154.37,674.68 L156.35,674.56 L158.32,674.42 L160.29,674.28 L162.25,674.14 L164.20,673.98 L166.14,673.82 L168.06,673.66 L169.97,673.49 L171.85,673.31 L173.71,673.13 L175.54,672.95 L177.34,672.76 L179.11,672.57 L180.84,672.37 L182.53,672.18 L184.19,671.98 L185.79,671.78 L187.35,671.58 L188.86,671.39 L190.32,671.18 L191.73,670.98 L193.09,670.77 L194.42,670.55 L195.70,670.32 L196.94,670.07 L198.15,669.81 L199.33,669.53 L200.48,669.23 L201.60,668.90 L202.70,668.55 L203.78,668.17 L204.83,667.76 L205.87,667.32 L206.90,666.84 L207.91,666.32 L208.92,665.76 L209.92,665.16 L210.91,664.52 L211.89,663.84 L212.86,663.13 L213.82,662.39 L214.76,661.62 L215.69,660.82 L216.61,659.99 L217.52,659.14 L218.40,658.27 L219.27,657.38 L220.12,656.48 L220.95,655.56 L221.76,654.63 L222.55,653.69 L223.32,652.75 L224.07,651.80 L224.79,650.85 L225.49,649.89 L226.17,648.92 L226.83,647.95 L227.46,646.98 L228.08,645.99 L228.68,645.00 L229.27,644.00 L229.83,642.98 L230.38,641.96 L230.92,640.93 L231.44,639.88 L231.94,638.82 L232.44,637.75 L232.92,636.66 L233.39,635.56 L233.84,634.44 L234.29,633.31 L234.73,632.16 L235.15,630.99 L235.57,629.81 L235.97,628.60 L236.36,627.38 L236.75,626.14 L237.12,624.88 L237.48,623.60 L237.83,622.30 L238.17,620.98 L238.50,619.64 L238.82,618.27 L239.13,616.88 L239.43,615.47 L239.72,614.04 L240.00,612.58 L240.28,611.09 L240.54,609.59 L240.79,608.06 L241.03,606.52 L241.27,604.96 L241.49,603.38 L241.71,601.80 L241.92,600.20 L242.12,598.60 L242.32,597.00 L242.51,595.39 L242.69,593.78 L242.87,592.17 L243.04,590.57 L243.20,588.98 L243.36,587.39 L243.52,585.81 L243.67,584.25 L243.81,582.70 L243.95,581.17 L244.09,579.66 L244.22,578.17 L244.35,576.70 L244.48,575.25 L244.60,573.83 L244.73,572.42 L244.85,571.02 L244.97,569.63 L245.09,568.26 L245.22,566.89 L245.34,565.52 L245.47,564.16 L245.60,562.79 L245.74,561.42 L245.88,560.05 L246.02,558.67 L246.17,557.28 L246.32,555.87 L246.49,554.45 L246.65,553.02 L246.83,551.56 L247.02,550.08 L247.21,548.58 L247.41,547.06 L247.62,545.52 L247.83,543.95 L248.05,542.37 L248.28,540.77 L248.51,539.15 L248.75,537.52 L248.99,535.86 L249.23,534.20 L249.48,532.52 L249.73,530.82 L249.98,529.11 L250.23,527.39 L250.48,525.66 L250.73,523.92 L250.98,522.17 L251.23,520.41 L251.48,518.64 L251.73,516.87 L251.97,515.09 L252.21,513.30 L252.45,511.51 L252.68,509.71 L252.91,507.91 L253.14,506.12 L253.37,504.32 L253.60,502.52 L253.82,500.73 L254.05,498.94 L254.29,497.16 L254.52,495.38 L254.77,493.61 L255.02,491.85 L255.27,490.11 L255.54,488.37 L255.81,486.65 L256.09,484.95 L256.39,483.26 L256.70,481.59 L257.02,479.94 L257.35,478.31 L257.70,476.70 L258.07,475.12 L258.45,473.56 L258.86,472.03 L259.28,470.52 L259.72,469.05 L260.18,467.60 L260.67,466.18 L261.16,464.79 L261.68,463.43 L262.22,462.09 L262.77,460.79 L263.33,459.51 L263.91,458.26 L264.51,457.03 L265.12,455.83 L265.74,454.66 L266.37,453.52 L267.02,452.41 L267.67,451.32 L268.34,450.25 L269.02,449.22 L269.70,448.21 L270.40,447.23 L271.10,446.27 L271.81,445.34 L272.54,444.43 L273.28,443.55 L274.04,442.70 L274.82,441.87 L275.62,441.07 L276.45,440.29 L277.31,439.54 L278.19,438.82 L279.11,438.12 L280.06,437.45 L281.04,436.81 L282.07,436.19 L283.13,435.60 L284.24,435.03 L285.40,434.49 L286.59,433.97 L287.83,433.48 L289.12,433.01 L290.44,432.57 L291.81,432.14 L293.21,431.74 L294.66,431.35 L296.14,430.99 L297.66,430.64 L299.22,430.31 L300.81,429.99 L302.44,429.69 L304.11,429.41 L305.80,429.14 L307.53,428.88 L309.30,428.63 L311.09,428.39 L312.92,428.17 L314.77,427.95 L316.65,427.74 L318.56,427.54 L320.50,427.35 L322.47,427.16 L324.46,426.98 L326.48,426.81 L328.52,426.64 L330.58,426.48 L332.67,426.34 L334.78,426.19 L336.91,426.06 L339.06,425.94 L341.23,425.82 L343.42,425.72 L345.63,425.62 L347.86,425.53 L350.10,425.45 L352.36,425.38 L354.63,425.32 L356.92,425.28 L359.22,425.24 L361.53,425.21 L363.86,425.19 L366.20,425.19 L368.55,425.19 L370.91,425.21 L373.27,425.23 L375.65,425.27 L378.03,425.32 L380.42,425.39 L382.82,425.46 L385.22,425.55 L387.62,425.65 L390.03,425.76 L392.44,425.89 L394.85,426.02 L397.25,426.17 L399.64,426.34 L402.03,426.51 L404.40,426.70 L406.75,426.90 L409.09,427.11 L411.41,427.34 L413.71,427.57 L415.98,427.82 L418.22,428.08 L420.43,428.36 L422.61,428.64 L424.75,428.94 L426.85,429.25 L428.92,429.57 L430.94,429.90 L432.91,430.25 L434.84,430.60 L436.71,430.97 L438.53,431.35 L440.30,431.74 L442.01,432.14 L443.65,432.55 L445.23,432.98 L446.75,433.41 L448.19,433.86 L449.57,434.32 L450.88,434.79 L452.12,435.28 L453.31,435.78 L454.44,436.29 L455.52,436.82 L456.55,437.37 L457.54,437.94 L458.49,438.53 L459.40,439.14 L460.28,439.78 L461.13,440.44 L461.95,441.12 L462.76,441.83 L463.55,442.56 L464.32,443.32 L465.09,444.12 L465.85,444.94 L466.59,445.79 L467.33,446.66 L468.05,447.56 L468.76,448.49 L469.46,449.45 L470.15,450.42 L470.82,451.43 L471.47,452.45 L472.11,453.50 L472.74,454.57 L473.34,455.66 L473.93,456.77 L474.50,457.90 L475.05,459.05 L475.59,460.22 L476.10,461.40 L476.59,462.60 L477.06,463.81 L477.52,465.04 L477.95,466.27 L478.37,467.52 L478.78,468.77 L479.17,470.02 L479.54,471.27 L479.90,472.53 L480.24,473.78 L480.58,475.04 L480.90,476.28 L481.20,477.52 L481.50,478.75 L481.79,479.98 L482.06,481.18 L482.33,482.38 L482.59,483.56 L482.83,484.73 L483.07,485.89 L483.31,487.04 L483.53,488.18 L483.75,489.33 L483.95,490.47 L484.15,491.61 L484.35,492.76 L484.53,493.91 L484.71,495.07 L484.88,496.24 L485.05,497.42 L485.21,498.62 L485.36,499.83 L485.51,501.06 L485.65,502.31 L485.78,503.58 L485.91,504.87 L486.04,506.17 L486.16,507.49 L486.28,508.82 L486.40,510.16 L486.51,511.50 L486.62,512.85 L486.73,514.21 L486.85,515.57 L486.96,516.93 L487.07,518.29 L487.18,519.64 L487.29,520.99 L487.41,522.34 L487.52,523.67 L487.64,525.00 L487.77,526.31 L487.90,527.61 L488.03,528.91 L488.16,530.20 L488.30,531.48 L488.44,532.76 L488.58,534.05 L488.73,535.34 L488.88,536.64 L489.03,537.94 L489.18,539.26 L489.33,540.59 L489.49,541.95 L489.65,543.32 L489.81,544.71 L489.97,546.13 L490.13,547.58 L490.29,549.06 L490.45,550.57 L490.62,552.12 L490.78,553.70 L490.95,555.31 L491.11,556.95 L491.28,558.62 L491.45,560.30 L491.62,562.00 L491.78,563.72 L491.96,565.44 L492.13,567.18 L492.30,568.91 L492.48,570.65 L492.65,572.38 L492.83,574.11 L493.01,575.82 L493.19,577.53 L493.37,579.21 L493.56,580.88 L493.75,582.52 L493.94,584.13 L494.13,585.71 L494.32,587.26 L494.52,588.77 L494.72,590.24 L494.92,591.67 L495.12,593.07 L495.33,594.43 L495.54,595.76 L495.75,597.06 L495.96,598.34 L496.18,599.61 L496.40,600.85 L496.63,602.09 L496.86,603.31 L497.09,604.54 L497.33,605.76 L497.57,606.98 L497.81,608.21 L498.06,609.44 L498.31,610.70 L498.57,611.96 L498.83,613.25 L499.10,614.56 L499.37,615.88 L499.65,617.23 L499.93,618.58 L500.23,619.95 L500.53,621.32 L500.84,622.71 L501.16,624.09 L501.49,625.48 L501.84,626.86 L502.19,628.25 L502.56,629.62 L502.94,630.99 L503.34,632.35 L503.76,633.70 L504.19,635.03 L504.63,636.34 L505.10,637.64 L505.58,638.91 L506.08,640.15 L506.60,641.38 L507.14,642.57 L507.70,643.75 L508.28,644.89 L508.88,646.01 L509.49,647.11 L510.12,648.18 L510.77,649.22 L511.44,650.24 L512.13,651.23 L512.83,652.19 L513.55,653.13 L514.29,654.04 L515.04,654.92 L515.81,655.78 L516.60,656.61 L517.41,657.41 L518.23,658.18 L519.07,658.92 L519.92,659.64 L520.79,660.33 L521.67,661.00 L522.56,661.64 L523.47,662.26 L524.39,662.86 L525.32,663.43 L526.26,663.98 L527.21,664.51 L528.18,665.01 L529.15,665.50 L530.13,665.97 L531.12,666.41 L532.11,666.84 L533.11,667.25 L534.12,667.64 L535.14,668.01 L536.16,668.37 L537.19,668.71 L538.22,669.03 L539.25,669.34 L540.29,669.63 L541.33,669.91 L542.37,670.18 L543.41,670.43 L544.46,670.67 L545.50,670.90" fill="none" stroke="#111" stroke-width="1.5"/>
<path d="M58.50,550.00 L59.41,549.86 L60.35,549.69 L61.31,549.51 L62.30,549.31 L63.32,549.09 L64.36,548.87 L65.42,548.63 L66.50,548.39 L67.60,548.15 L68.72,547.90 L69.85,547.66 L71.00,547.42 L72.16,547.19 L73.33,546.97 L74.52,546.75 L75.71,546.56 L76.91,546.38 L78.11,546.21 L79.32,546.08 L80.53,545.96 L81.74,545.87 L82.95,545.81 L84.16,545.79 L85.36,545.79 L86.57,545.83 L87.77,545.91 L88.97,546.01 L90.16,546.15 L91.35,546.32 L92.53,546.53 L93.71,546.77 L94.89,547.04 L96.06,547.35 L97.23,547.68 L98.39,548.06 L99.55,548.46 L100.70,548.90 L101.84,549.37 L102.98,549.88 L104.12,550.41 L105.25,550.98 L106.37,551.57 L107.49,552.20 L108.61,552.85 L109.72,553.53 L110.82,554.25 L111.92,554.98 L113.02,555.75 L114.11,556.54 L115.19,557.37 L116.26,558.21 L117.32,559.08 L118.38,559.98 L119.42,560.91 L120.45,561.85 L121.46,562.83 L122.46,563.83 L123.45,564.85 L124.41,565.89 L125.36,566.96 L126.30,568.05 L127.21,569.16 L128.10,570.30 L128.97,571.46 L129.82,572.64 L130.65,573.84 L131.46,575.07 L132.25,576.31 L133.02,577.58 L133.76,578.86 L134.49,580.17 L135.19,581.50 L135.88,582.84 L136.54,584.21 L137.18,585.60 L137.79,587.01 L138.39,588.43 L138.97,589.87 L139.53,591.33 L140.08,592.79 L140.62,594.26 L141.15,595.75 L141.67,597.23 L142.20,598.72 L142.72,600.21 L143.24,601.69 L143.76,603.18 L144.29,604.65 L144.83,606.12 L145.38,607.57 L145.95,609.02 L146.53,610.45 L147.12,611.86 L147.74,613.25 L148.38,614.64 L149.04,616.00 L149.73,617.35 L150.44,618.69 L151.18,620.00 L151.95,621.31 L152.75,622.59 L153.58,623.86 L154.45,625.11 L155.35,626.35 L156.29,627.57 L157.27,628.77 L158.30,629.95 L159.36,631.12 L160.45,632.26 L161.57,633.38 L162.71,634.46 L163.88,635.52 L165.05,636.54 L166.24,637.52 L167.43,638.46 L168.63,639.36 L169.81,640.21 L171.00,641.01 L172.16,641.75 L173.31,642.45 L174.44,643.08 L175.55,643.65 L176.63,644.17 L177.71,644.63 L178.79,645.06 L179.87,645.45 L180.96,645.80 L182.07,646.14 L183.21,646.45 L184.38,646.75 L185.60,647.05 L186.86,647.34 L188.18,647.64 L189.57,647.95 L191.01,648.27 L192.50,648.59 L194.04,648.92 L195.63,649.24 L197.25,649.57 L198.91,649.89 L200.60,650.21 L202.31,650.52 L204.04,650.83 L205.78,651.12 L207.53,651.39 L209.29,651.65 L211.04,651.89 L212.79,652.11 L214.53,652.31 L216.26,652.48 L217.96,652.63 L219.66,652.75 L221.33,652.85 L223.00,652.92 L224.66,652.98 L226.31,653.01 L227.95,653.02 L229.59,653.02 L231.23,652.99 L232.87,652.95 L234.50,652.89 L236.15,652.82 L237.79,652.73 L239.44,652.64 L241.10,652.52 L242.77,652.40 L244.46,652.27 L246.15,652.13 L247.85,651.97 L249.55,651.80 L251.25,651.62 L252.95,651.43 L254.65,651.22 L256.34,651.00 L258.02,650.76 L259.69,650.50 L261.34,650.22 L262.97,649.93 L264.58,649.61 L266.17,649.28 L267.73,648.92 L269.27,648.55 L270.77,648.15 L272.23,647.72 L273.66,647.27 L275.05,646.79 L276.41,646.29 L277.72,645.75 L278.98,645.18 L280.20,644.58 L281.38,643.94 L282.50,643.26 L283.58,642.54 L284.60,641.78 L285.56,640.97 L286.47,640.13 L287.33,639.23 L288.12,638.29 L288.84,637.31 L289.50,636.30 L290.10,635.25 L290.62,634.18 L291.07,633.08 L291.44,631.96 L291.73,630.83 L291.94,629.69 L292.06,628.54 L292.10,627.38 L292.05,626.22 L291.92,625.06 L291.71,623.90 L291.42,622.73 L291.06,621.56 L290.63,620.38 L290.14,619.19 L289.59,617.99 L288.99,616.78 L288.33,615.56 L287.63,614.32 L286.89,613.07 L286.10,611.80 L285.29,610.51 L284.44,609.22 L283.57,607.91 L282.68,606.59 L281.78,605.26 L280.87,603.93 L279.95,602.60 L279.03,601.26 L278.12,599.93 L277.22,598.60 L276.33,597.27 L275.46,595.95 L274.62,594.64 L273.81,593.34 L273.03,592.05 L272.29,590.78 L271.60,589.53 L270.94,588.28 L270.34,587.04 L269.79,585.81 L269.29,584.58 L268.84,583.35 L268.46,582.12 L268.13,580.88 L267.87,579.64 L267.68,578.39 L267.55,577.14 L267.50,575.86 L267.52,574.57 L267.62,573.27 L267.77,571.93 L267.99,570.58 L268.26,569.19 L268.57,567.77 L268.93,566.32 L269.32,564.82 L269.74,563.28 L270.18,561.69 L270.64,560.06 L271.11,558.36 L271.59,556.62 L272.07,554.81 L272.54,552.93 L273.00,550.99 L273.44,548.98 L273.87,546.90 L274.28,544.77 L274.67,542.58 L275.04,540.35 L275.39,538.08 L275.72,535.78 L276.04,533.45 L276.33,531.10 L276.61,528.74 L276.87,526.37 L277.10,524.00 L277.32,521.63 L277.52,519.28 L277.70,516.95 L277.86,514.65 L278.00,512.38 L278.12,510.14 L278.22,507.95 L278.30,505.82 L278.35,503.74 L278.39,501.72 L278.41,499.78 L278.41,497.90 L278.39,496.09 L278.36,494.35 L278.32,492.65 L278.28,491.01 L278.24,489.42 L278.20,487.87 L278.17,486.35 L278.14,484.86 L278.13,483.41 L278.14,481.97 L278.16,480.56 L278.21,479.15 L278.29,477.76 L278.39,476.36 L278.54,474.97 L278.71,473.58 L278.93,472.20 L279.19,470.83 L279.49,469.48 L279.84,468.16 L280.23,466.86 L280.68,465.60 L281.18,464.38 L281.73,463.20 L282.34,462.08 L283.01,461.00 L283.75,459.99 L284.54,459.05 L285.40,458.17 L286.32,457.35 L287.29,456.58 L288.31,455.87 L289.38,455.20 L290.49,454.58 L291.64,453.99 L292.83,453.44 L294.04,452.92 L295.29,452.43 L296.56,451.96 L297.85,451.51 L299.16,451.08 L300.49,450.66 L301.83,450.26 L303.19,449.87 L304.57,449.50 L305.96,449.15 L307.37,448.81 L308.79,448.48 L310.23,448.17 L311.68,447.88 L313.15,447.60 L314.63,447.34 L316.12,447.09 L317.63,446.86 L319.14,446.64 L320.68,446.44 L322.22,446.25 L323.78,446.08 L325.36,445.92 L326.96,445.77 L328.57,445.64 L330.19,445.52 L331.84,445.42 L333.51,445.32 L335.20,445.24 L336.91,445.17 L338.64,445.12 L340.40,445.07 L342.18,445.04 L343.98,445.01 L345.81,445.00 L347.66,444.99 L349.54,445.00 L351.45,445.02 L353.38,445.06 L355.32,445.10 L357.29,445.17 L359.28,445.25 L361.29,445.34 L363.31,445.46 L365.36,445.59 L367.41,445.74 L369.48,445.92 L371.57,446.11 L373.66,446.33 L375.77,446.58 L377.89,446.85 L380.01,447.14 L382.15,447.46 L384.29,447.81 L386.43,448.19 L388.58,448.59 L390.73,449.03 L392.88,449.49 L395.03,449.97 L397.17,450.48 L399.30,451.00 L401.42,451.53 L403.53,452.08 L405.61,452.65 L407.68,453.22 L409.72,453.79 L411.74,454.37 L413.72,454.96 L415.68,455.54 L417.60,456.12 L419.48,456.69 L421.33,457.26 L423.13,457.81 L424.88,458.36 L426.59,458.89 L428.24,459.40 L429.84,459.89 L431.40,460.37 L432.91,460.85 L434.38,461.31 L435.81,461.78 L437.21,462.24 L438.58,462.72 L439.92,463.20 L441.24,463.69 L442.54,464.20 L443.82,464.74 L445.09,465.29 L446.35,465.88 L447.60,466.50 L448.86,467.15 L450.11,467.84 L451.36,468.56 L452.61,469.32 L453.85,470.10 L455.09,470.91 L456.32,471.74 L457.54,472.60 L458.75,473.47 L459.96,474.36 L461.16,475.27 L462.34,476.19 L463.51,477.12 L464.67,478.06 L465.81,479.01 L466.94,479.96 L468.05,480.92 L469.14,481.88 L470.21,482.86 L471.26,483.85 L472.28,484.86 L473.28,485.88 L474.25,486.92 L475.18,487.99 L476.09,489.08 L476.96,490.20 L477.79,491.35 L478.59,492.53 L479.35,493.74 L480.06,494.99 L480.74,496.28 L481.38,497.60 L481.99,498.94 L482.57,500.31 L483.13,501.69 L483.67,503.10 L484.19,504.52 L484.69,505.94 L485.19,507.38 L485.68,508.81 L486.17,510.25 L486.66,511.68 L487.16,513.10 L487.67,514.51 L488.19,515.91 L488.72,517.29 L489.26,518.66 L489.82,520.02 L490.38,521.37 L490.95,522.71 L491.53,524.03 L492.12,525.35 L492.71,526.67 L493.30,527.98 L493.90,529.28 L494.50,530.58 L495.10,531.87 L495.71,533.17 L496.31,534.46 L496.91,535.75 L497.52,537.03 L498.14,538.30 L498.77,539.55 L499.41,540.78 L500.08,541.98 L500.77,543.15 L501.49,544.27 L502.24,545.35 L503.03,546.38 L503.86,547.36 L504.73,548.28 L505.65,549.13 L506.61,549.91 L507.63,550.63 L508.68,551.28 L509.78,551.86 L510.90,552.39 L512.05,552.85 L513.22,553.26 L514.41,553.61 L515.61,553.91 L516.82,554.16 L518.03,554.36 L519.24,554.50 L520.45,554.61 L521.64,554.67 L522.84,554.69 L524.02,554.67 L525.20,554.61 L526.38,554.52 L527.54,554.40 L528.70,554.25 L529.86,554.08 L531.01,553.88 L532.15,553.66 L533.29,553.42 L534.42,553.16 L535.54,552.89 L536.66,552.60 L537.78,552.31 L538.88,552.01 L539.98,551.71 L541.08,551.40 L542.17,551.09 L543.25,550.79 L544.33,550.49 L545.40,550.20" fill="none" stroke="#e8352c" stroke-width="1.5" stroke-dasharray="4.6 2.6"/>
<g transform="translate(369.4,560.6)" fill="#9cf03c"><rect x="-4.2" y="-1.7" width="8.4" height="3.4" transform="rotate(45)"/><rect x="-4.2" y="-1.7" width="8.4" height="3.4" transform="rotate(-45)"/></g>
<path d="M398,570.5 L411.5,564" stroke="#4ec3d0" stroke-width="4" stroke-linecap="round"/>
<path d="M466,572 L473,579.5" stroke="#f08a2c" stroke-width="4" stroke-linecap="round"/>
</g>
<rect x="58.5" y="416.5" width="486.9" height="268.29999999999995" fill="none" stroke="#333" stroke-width="1.2"/>
<line x1="55.0" y1="416.50" x2="58.5" y2="416.50" stroke="#333" stroke-width="0.8"/>
<text x="44.80" y="419.30" font-size="8.12" fill="#222">90</text>
<line x1="55.0" y1="431.41" x2="58.5" y2="431.41" stroke="#333" stroke-width="0.8"/>
<text x="44.80" y="434.21" font-size="8.12" fill="#222">80</text>
<line x1="55.0" y1="461.22" x2="58.5" y2="461.22" stroke="#333" stroke-width="0.8"/>
<text x="44.80" y="464.02" font-size="8.12" fill="#222">60</text>
<line x1="55.0" y1="491.03" x2="58.5" y2="491.03" stroke="#333" stroke-width="0.8"/>
<text x="44.80" y="493.83" font-size="8.12" fill="#222">40</text>
<line x1="55.0" y1="520.84" x2="58.5" y2="520.84" stroke="#333" stroke-width="0.8"/>
<text x="44.80" y="523.64" font-size="8.12" fill="#222">20</text>
<line x1="55.0" y1="550.65" x2="58.5" y2="550.65" stroke="#333" stroke-width="0.8"/>
<text x="49.40" y="553.45" font-size="8.12" fill="#222" textLength="4.40" lengthAdjust="spacingAndGlyphs">0</text>
<line x1="55.0" y1="580.46" x2="58.5" y2="580.46" stroke="#333" stroke-width="0.8"/>
<text x="38.80" y="583.26" font-size="8.12" fill="#222" textLength="14.99" lengthAdjust="spacingAndGlyphs">−20</text>
<line x1="55.0" y1="610.27" x2="58.5" y2="610.27" stroke="#333" stroke-width="0.8"/>
<text x="38.80" y="613.07" font-size="8.12" fill="#222" textLength="14.99" lengthAdjust="spacingAndGlyphs">−40</text>
<line x1="55.0" y1="640.08" x2="58.5" y2="640.08" stroke="#333" stroke-width="0.8"/>
<text x="38.80" y="642.88" font-size="8.12" fill="#222" textLength="14.99" lengthAdjust="spacingAndGlyphs">−60</text>
<line x1="55.0" y1="669.89" x2="58.5" y2="669.89" stroke="#333" stroke-width="0.8"/>
<text x="38.80" y="672.69" font-size="8.12" fill="#222" textLength="14.99" lengthAdjust="spacingAndGlyphs">−80</text>
<line x1="55.0" y1="684.80" x2="58.5" y2="684.80" stroke="#333" stroke-width="0.8"/>
<text x="38.80" y="687.60" font-size="8.12" fill="#222" textLength="14.99" lengthAdjust="spacingAndGlyphs">−90</text>
<line x1="58.50" y1="684.8" x2="58.50" y2="688.3" stroke="#333" stroke-width="0.8"/>
<text x="56.25" y="697.00" font-size="7.83" fill="#222" textLength="4.52" lengthAdjust="spacingAndGlyphs">0</text>
<line x1="85.55" y1="684.8" x2="85.55" y2="688.3" stroke="#333" stroke-width="0.8"/>
<text x="81.05" y="697.00" font-size="7.83" fill="#222" textLength="8.98" lengthAdjust="spacingAndGlyphs">20</text>
<line x1="112.60" y1="684.8" x2="112.60" y2="688.3" stroke="#333" stroke-width="0.8"/>
<text x="108.10" y="697.00" font-size="7.83" fill="#222" textLength="8.98" lengthAdjust="spacingAndGlyphs">40</text>
<line x1="139.65" y1="684.8" x2="139.65" y2="688.3" stroke="#333" stroke-width="0.8"/>
<text x="135.15" y="697.00" font-size="7.83" fill="#222" textLength="8.98" lengthAdjust="spacingAndGlyphs">60</text>
<line x1="166.70" y1="684.8" x2="166.70" y2="688.3" stroke="#333" stroke-width="0.8"/>
<text x="162.20" y="697.00" font-size="7.83" fill="#222" textLength="8.98" lengthAdjust="spacingAndGlyphs">80</text>
<line x1="193.75" y1="684.8" x2="193.75" y2="688.3" stroke="#333" stroke-width="0.8"/>
<text x="187.15" y="697.00" font-size="7.83" fill="#222" textLength="13.20" lengthAdjust="spacingAndGlyphs">100</text>
<line x1="220.80" y1="684.8" x2="220.80" y2="688.3" stroke="#333" stroke-width="0.8"/>
<text x="214.20" y="697.00" font-size="7.83" fill="#222" textLength="13.20" lengthAdjust="spacingAndGlyphs">120</text>
<line x1="247.85" y1="684.8" x2="247.85" y2="688.3" stroke="#333" stroke-width="0.8"/>
<text x="241.25" y="697.00" font-size="7.83" fill="#222" textLength="13.20" lengthAdjust="spacingAndGlyphs">140</text>
<line x1="274.90" y1="684.8" x2="274.90" y2="688.3" stroke="#333" stroke-width="0.8"/>
<text x="268.30" y="697.00" font-size="7.83" fill="#222" textLength="13.20" lengthAdjust="spacingAndGlyphs">160</text>
<line x1="301.95" y1="684.8" x2="301.95" y2="688.3" stroke="#333" stroke-width="0.8"/>
<text x="295.35" y="697.00" font-size="7.83" fill="#222" textLength="13.20" lengthAdjust="spacingAndGlyphs">180</text>
<line x1="329.00" y1="684.8" x2="329.00" y2="688.3" stroke="#333" stroke-width="0.8"/>
<text x="322.40" y="697.00" font-size="7.83" fill="#222" textLength="13.20" lengthAdjust="spacingAndGlyphs">200</text>
<line x1="356.05" y1="684.8" x2="356.05" y2="688.3" stroke="#333" stroke-width="0.8"/>
<text x="349.45" y="697.00" font-size="7.83" fill="#222" textLength="13.20" lengthAdjust="spacingAndGlyphs">220</text>
<line x1="383.10" y1="684.8" x2="383.10" y2="688.3" stroke="#333" stroke-width="0.8"/>
<text x="376.50" y="697.00" font-size="7.83" fill="#222" textLength="13.20" lengthAdjust="spacingAndGlyphs">240</text>
<line x1="410.15" y1="684.8" x2="410.15" y2="688.3" stroke="#333" stroke-width="0.8"/>
<text x="403.55" y="697.00" font-size="7.83" fill="#222" textLength="13.20" lengthAdjust="spacingAndGlyphs">260</text>
<line x1="437.20" y1="684.8" x2="437.20" y2="688.3" stroke="#333" stroke-width="0.8"/>
<text x="430.60" y="697.00" font-size="7.83" fill="#222" textLength="13.20" lengthAdjust="spacingAndGlyphs">280</text>
<line x1="464.25" y1="684.8" x2="464.25" y2="688.3" stroke="#333" stroke-width="0.8"/>
<text x="457.65" y="697.00" font-size="7.83" fill="#222" textLength="13.20" lengthAdjust="spacingAndGlyphs">300</text>
<line x1="491.30" y1="684.8" x2="491.30" y2="688.3" stroke="#333" stroke-width="0.8"/>
<text x="484.70" y="697.00" font-size="7.83" fill="#222" textLength="13.20" lengthAdjust="spacingAndGlyphs">320</text>
<line x1="518.35" y1="684.8" x2="518.35" y2="688.3" stroke="#333" stroke-width="0.8"/>
<text x="511.75" y="697.00" font-size="7.83" fill="#222" textLength="13.20" lengthAdjust="spacingAndGlyphs">340</text>
<line x1="545.40" y1="684.8" x2="545.40" y2="688.3" stroke="#333" stroke-width="0.8"/>
<text x="538.80" y="697.00" font-size="7.83" fill="#222" textLength="13.20" lengthAdjust="spacingAndGlyphs">360</text>
<text x="261.90" y="706.80" font-size="8.12" fill="#222" textLength="79.60" lengthAdjust="spacingAndGlyphs">Carrington Longitude</text>
<g transform="translate(33.6,552) rotate(-90)"><text x="-14.90" y="0.00" font-size="8.70" fill="#222" textLength="29.81" lengthAdjust="spacingAndGlyphs">Latitude</text></g>
<text x="250.00" y="397.90" font-size="10.14" fill="#222" textLength="135.40" lengthAdjust="spacingAndGlyphs">2023-04-03T06:00:00 CR2269</text>
<text x="59.00" y="411.90" font-size="10.29" fill="#222" textLength="137.00" lengthAdjust="spacingAndGlyphs">SCTIME: 2023-04-03T06:00:00</text>
<text x="433.90" y="412.00" font-size="10.58" fill="#222" textLength="98.10" lengthAdjust="spacingAndGlyphs">Magnetogram: ADAPT</text>
<text x="566.80" y="484.60" font-size="7.97" fill="#222" textLength="23.70" lengthAdjust="spacingAndGlyphs">EARTH</text>
<g transform="translate(554.1,491)" fill="#9cf03c"><rect x="-4" y="-1.7" width="8" height="3.4" transform="rotate(45)"/><rect x="-4" y="-1.7" width="8" height="3.4" transform="rotate(-45)"/></g>
<text x="562.30" y="493.30" font-size="6.67" fill="#222" textLength="46.71" lengthAdjust="spacingAndGlyphs">Sub-Earth point</text>
<circle cx="554.3" cy="505" r="2.6" fill="#f08a2c"/>
<text x="562.00" y="503.60" font-size="6.38" fill="#222" textLength="34.60" lengthAdjust="spacingAndGlyphs">FP Slow SW</text>
<text x="562.00" y="510.30" font-size="6.38" fill="#222" textLength="38.82" lengthAdjust="spacingAndGlyphs">(300.0 km/s)</text>
<circle cx="554.3" cy="521.4" r="2.6" fill="#5cc9d4"/>
<text x="562.00" y="519.50" font-size="6.38" fill="#222" textLength="32.98" lengthAdjust="spacingAndGlyphs">FP Fast SW</text>
<text x="562.00" y="526.30" font-size="6.38" fill="#222" textLength="38.82" lengthAdjust="spacingAndGlyphs">(800.0 km/s)</text>
<g transform="translate(554.1,631.5)" fill="#2e8b47"><rect x="-4.3" y="-1.6" width="8.6" height="3.2"/><rect x="-1.6" y="-4.3" width="3.2" height="8.6"/></g>
<text x="561.70" y="633.60" font-size="6.67" fill="#222" textLength="38.20" lengthAdjust="spacingAndGlyphs">AR (no data)</text>
<line x1="548.2" y1="663.7" x2="559.6" y2="663.7" stroke="#222" stroke-width="1.4"/>
<text x="562.00" y="662.00" font-size="6.67" fill="#222" textLength="33.49" lengthAdjust="spacingAndGlyphs">Visible disk</text>
<text x="562.00" y="669.00" font-size="6.67" fill="#222" textLength="35.31" lengthAdjust="spacingAndGlyphs">from EARTH</text>
<line x1="548.2" y1="679.6" x2="559.6" y2="679.6" stroke="#e8352c" stroke-width="1.4" stroke-dasharray="4.4 2.4"/>
<text x="561.70" y="681.80" font-size="6.67" fill="#222" textLength="11.99" lengthAdjust="spacingAndGlyphs">HCS</text>
<g clip-path="url(#c1clip)">
<line x1="802.4" y1="459.9" x2="1195.6" y2="459.9" stroke="#111" stroke-width="2.1" stroke-dasharray="9.6 2.8 1.8 2.8"/>
<line x1="802.4" y1="532.8" x2="1195.6" y2="532.8" stroke="#111" stroke-width="1.7" stroke-dasharray="1.7 2.6"/>
<path d="M815.20,659.93 L816.70,656.61 L818.20,653.41 L819.70,650.33 L821.20,647.36 L822.70,644.49 L824.20,641.73 L825.70,639.07 L827.20,636.51 L828.70,634.04 L830.20,631.66 L831.70,629.41 L833.20,627.24 L834.70,625.14 L836.20,623.12 L837.70,621.18 L839.20,619.30 L840.70,617.48 L842.20,615.73 L843.70,614.03 L845.20,612.39 L846.70,610.79 L848.20,609.24 L849.70,607.73 L851.20,606.27 L852.70,604.85 L854.20,603.46 L855.70,602.11 L857.20,600.80 L858.70,599.52 L860.20,598.26 L861.70,597.04 L863.20,595.84 L864.70,594.67 L866.20,593.52 L867.70,592.39 L869.20,591.28 L870.70,590.21 L872.20,589.16 L873.70,588.13 L875.20,587.12 L876.70,586.12 L878.20,585.14 L879.70,584.17 L881.20,583.22 L882.70,582.28 L884.20,581.35 L885.70,580.44 L887.20,579.55 L888.70,578.66 L890.20,577.79 L891.70,576.94 L893.20,576.09 L894.70,575.26 L896.20,574.44 L897.70,573.64 L899.20,572.85 L900.70,572.07 L902.20,571.30 L903.70,570.54 L905.20,569.79 L906.70,569.06 L908.20,568.34 L909.70,567.63 L911.20,566.93 L912.70,566.24 L914.20,565.56 L915.70,564.89 L917.20,564.23 L918.70,563.58 L920.20,562.94 L921.70,562.31 L923.20,561.69 L924.70,561.07 L926.20,560.47 L927.70,559.88 L929.20,559.29 L930.70,558.71 L932.20,558.15 L933.70,557.59 L935.20,557.03 L936.70,556.49 L938.20,555.95 L939.70,555.42 L941.20,554.90 L942.70,554.38 L944.20,553.87 L945.70,553.37 L947.20,552.87 L948.70,552.38 L950.20,551.89 L951.70,551.42 L953.20,550.95 L954.70,550.49 L956.20,550.04 L957.70,549.59 L959.20,549.14 L960.70,548.70 L962.20,548.26 L963.70,547.83 L965.20,547.40 L966.70,546.97 L968.20,546.55 L969.70,546.14 L971.20,545.72 L972.70,545.32 L974.20,544.91 L975.70,544.51 L977.20,544.11 L978.70,543.72 L980.20,543.33 L981.70,542.94 L983.20,542.56 L984.70,542.19 L986.20,541.81 L987.70,541.44 L989.20,541.07 L990.70,540.71 L992.20,540.35 L993.70,539.99 L995.20,539.64 L996.70,539.29 L998.20,538.95 L999.70,538.60 L1001.20,538.27 L1002.70,537.93 L1004.20,537.60 L1005.70,537.27 L1007.20,536.94 L1008.70,536.62 L1010.20,536.30 L1011.70,535.99 L1013.20,535.68 L1014.70,535.37 L1016.20,535.06 L1017.70,534.76 L1019.20,534.46 L1020.70,534.16 L1022.20,533.87 L1023.70,533.57 L1025.20,533.29 L1026.70,533.00 L1028.20,532.72 L1029.70,532.44 L1031.20,532.16 L1032.70,531.89 L1034.20,531.62 L1035.70,531.35 L1037.20,531.09 L1038.70,530.82 L1040.20,530.56 L1041.70,530.31 L1043.20,530.05 L1044.70,529.80 L1046.20,529.55 L1047.70,529.30 L1049.20,529.06 L1050.70,528.81 L1052.20,528.57 L1053.70,528.33 L1055.20,528.09 L1056.70,527.86 L1058.20,527.62 L1059.70,527.39 L1061.20,527.16 L1062.70,526.94 L1064.20,526.71 L1065.70,526.49 L1067.20,526.27 L1068.70,526.05 L1070.20,525.83 L1071.70,525.62 L1073.20,525.41 L1074.70,525.20 L1076.20,524.99 L1077.70,524.79 L1079.20,524.58 L1080.70,524.38 L1082.20,524.18 L1083.70,523.98 L1085.20,523.78 L1086.70,523.59 L1088.20,523.40 L1089.70,523.20 L1091.20,523.01 L1092.70,522.83 L1094.20,522.64 L1095.70,522.45 L1097.20,522.27 L1098.70,522.09 L1100.20,521.91 L1101.70,521.73 L1103.20,521.55 L1104.70,521.38 L1106.20,521.20 L1107.70,521.03 L1109.20,520.86 L1110.70,520.69 L1112.20,520.52 L1113.70,520.35 L1115.20,520.18 L1116.70,520.02 L1118.20,519.85 L1119.70,519.69 L1121.20,519.53 L1122.70,519.36 L1124.20,519.20 L1125.70,519.04 L1127.20,518.89 L1128.70,518.73 L1130.20,518.57 L1131.70,518.42 L1133.20,518.26 L1134.70,518.11 L1136.20,517.96 L1137.70,517.80 L1139.20,517.65 L1140.70,517.50 L1142.20,517.35 L1143.70,517.20 L1145.20,517.05 L1146.70,516.91 L1148.20,516.76 L1149.70,516.61 L1151.20,516.46 L1152.70,516.32 L1154.20,516.17 L1155.70,516.03 L1157.20,515.88 L1158.70,515.74 L1160.20,515.59 L1161.70,515.45 L1163.20,515.31 L1164.70,515.16 L1166.20,515.02 L1167.70,514.88 L1169.20,514.74 L1170.70,514.59 L1172.20,514.45 L1173.70,514.31 L1175.20,514.17 L1176.70,514.02 L1177.40,513.96 L1177.40,523.16 L1176.70,523.22 L1175.20,523.37 L1173.70,523.51 L1172.20,523.65 L1170.70,523.79 L1169.20,523.94 L1167.70,524.08 L1166.20,524.22 L1164.70,524.36 L1163.20,524.51 L1161.70,524.65 L1160.20,524.79 L1158.70,524.94 L1157.20,525.08 L1155.70,525.23 L1154.20,525.37 L1152.70,525.52 L1151.20,525.66 L1149.70,525.81 L1148.20,525.96 L1146.70,526.11 L1145.20,526.25 L1143.70,526.40 L1142.20,526.55 L1140.70,526.70 L1139.20,526.85 L1137.70,527.00 L1136.20,527.16 L1134.70,527.31 L1133.20,527.46 L1131.70,527.62 L1130.20,527.77 L1128.70,527.93 L1127.20,528.09 L1125.70,528.24 L1124.20,528.40 L1122.70,528.56 L1121.20,528.73 L1119.70,528.89 L1118.20,529.05 L1116.70,529.22 L1115.20,529.38 L1113.70,529.55 L1112.20,529.72 L1110.70,529.89 L1109.20,530.06 L1107.70,530.23 L1106.20,530.40 L1104.70,530.58 L1103.20,530.75 L1101.70,530.93 L1100.20,531.11 L1098.70,531.29 L1097.20,531.47 L1095.70,531.65 L1094.20,531.84 L1092.70,532.03 L1091.20,532.21 L1089.70,532.40 L1088.20,532.60 L1086.70,532.79 L1085.20,532.98 L1083.70,533.18 L1082.20,533.38 L1080.70,533.58 L1079.20,533.78 L1077.70,533.99 L1076.20,534.19 L1074.70,534.40 L1073.20,534.61 L1071.70,534.82 L1070.20,535.03 L1068.70,535.25 L1067.20,535.47 L1065.70,535.69 L1064.20,535.91 L1062.70,536.14 L1061.20,536.36 L1059.70,536.59 L1058.20,536.82 L1056.70,537.06 L1055.20,537.29 L1053.70,537.53 L1052.20,537.77 L1050.70,538.01 L1049.20,538.26 L1047.70,538.51 L1046.20,538.76 L1044.70,539.02 L1043.20,539.28 L1041.70,539.54 L1040.20,539.80 L1038.70,540.07 L1037.20,540.34 L1035.70,540.61 L1034.20,540.88 L1032.70,541.16 L1031.20,541.44 L1029.70,541.72 L1028.20,542.01 L1026.70,542.29 L1025.20,542.59 L1023.70,542.88 L1022.20,543.18 L1020.70,543.48 L1019.20,543.78 L1017.70,544.09 L1016.20,544.40 L1014.70,544.71 L1013.20,545.02 L1011.70,545.34 L1010.20,545.66 L1008.70,545.99 L1007.20,546.32 L1005.70,546.65 L1004.20,546.98 L1002.70,547.32 L1001.20,547.66 L999.70,548.01 L998.20,548.35 L996.70,548.71 L995.20,549.06 L993.70,549.42 L992.20,549.78 L990.70,550.15 L989.20,550.52 L987.70,550.89 L986.20,551.27 L984.70,551.65 L983.20,552.03 L981.70,552.42 L980.20,552.81 L978.70,553.20 L977.20,553.60 L975.70,554.01 L974.20,554.41 L972.70,554.82 L971.20,555.24 L969.70,555.66 L968.20,556.08 L966.70,556.51 L965.20,556.94 L963.70,557.37 L962.20,557.81 L960.70,558.25 L959.20,558.70 L957.70,559.15 L956.20,559.61 L954.70,560.07 L953.20,560.54 L951.70,561.01 L950.20,561.49 L948.70,561.97 L947.20,562.45 L945.70,562.94 L944.20,563.44 L942.70,563.94 L941.20,564.45 L939.70,564.97 L938.20,565.49 L936.70,566.02 L935.20,566.56 L933.70,567.10 L932.20,567.66 L930.70,568.22 L929.20,568.79 L927.70,569.37 L926.20,569.95 L924.70,570.55 L923.20,571.15 L921.70,571.77 L920.20,572.39 L918.70,573.02 L917.20,573.66 L915.70,574.31 L914.20,574.98 L912.70,575.65 L911.20,576.33 L909.70,577.02 L908.20,577.73 L906.70,578.44 L905.20,579.17 L903.70,579.91 L902.20,580.66 L900.70,581.42 L899.20,582.19 L897.70,582.98 L896.20,583.78 L894.70,584.59 L893.20,585.41 L891.70,586.25 L890.20,587.09 L888.70,587.96 L887.20,588.83 L885.70,589.72 L884.20,590.62 L882.70,591.54 L881.20,592.47 L879.70,593.42 L878.20,594.38 L876.70,595.36 L875.20,596.35 L873.70,597.35 L872.20,598.37 L870.70,599.41 L869.20,600.44 L867.70,601.48 L866.20,602.53 L864.70,603.61 L863.20,604.70 L861.70,605.83 L860.20,606.97 L858.70,608.15 L857.20,609.36 L855.70,610.60 L854.20,611.87 L852.70,613.18 L851.20,614.53 L849.70,615.92 L848.20,617.35 L846.70,618.82 L845.20,620.35 L843.70,621.92 L842.20,623.54 L840.70,625.22 L839.20,626.96 L837.70,628.76 L836.20,630.63 L834.70,632.58 L833.20,634.60 L831.70,636.69 L830.20,638.87 L828.70,641.10 L827.20,643.41 L825.70,645.81 L824.20,648.31 L822.70,650.92 L821.20,653.62 L819.70,656.43 L818.20,659.36 L816.70,662.39 L815.20,665.55Z" fill="#5b5bf0" fill-opacity="0.36"/>
<path d="M803.7,566.7 L803.8,530 C803.9,505 804.5,499 805.3,501 C806.2,503 806.8,515 807.5,530 L813.6,655 C814.2,664 815.6,665 816.6,661.5" fill="none" stroke="#e05050" stroke-opacity="0.35" stroke-width="4" stroke-linejoin="round"/>
<path d="M803.7,566.7 L803.8,530 C803.9,505 804.5,499 805.3,501 C806.2,503 806.8,515 807.5,530 L813.6,655 C814.2,664 815.6,665 816.6,661.5 L816.70,659.50 L818.20,656.38 L819.70,653.38 L821.20,650.49 L822.70,647.70 L824.20,645.02 L825.70,642.44 L827.20,639.96 L828.70,637.57 L830.20,635.27 L831.70,633.05 L833.20,630.92 L834.70,628.86 L836.20,626.88 L837.70,624.97 L839.20,623.13 L840.70,621.35 L842.20,619.63 L843.70,617.97 L845.20,616.37 L846.70,614.81 L848.20,613.30 L849.70,611.83 L851.20,610.40 L852.70,609.02 L854.20,607.67 L855.70,606.36 L857.20,605.08 L858.70,603.83 L860.20,602.62 L861.70,601.43 L863.20,600.27 L864.70,599.14 L866.20,598.03 L867.70,596.94 L869.20,595.86 L870.70,594.81 L872.20,593.77 L873.70,592.74 L875.20,591.73 L876.70,590.74 L878.20,589.76 L879.70,588.80 L881.20,587.85 L882.70,586.91 L884.20,585.99 L885.70,585.08 L887.20,584.19 L888.70,583.31 L890.20,582.44 L891.70,581.59 L893.20,580.75 L894.70,579.92 L896.20,579.11 L897.70,578.31 L899.20,577.52 L900.70,576.74 L902.20,575.98 L903.70,575.22 L905.20,574.48 L906.70,573.75 L908.20,573.03 L909.70,572.33 L911.20,571.63 L912.70,570.94 L914.20,570.27 L915.70,569.60 L917.20,568.94 L918.70,568.30 L920.20,567.66 L921.70,567.04 L923.20,566.42 L924.70,565.81 L926.20,565.21 L927.70,564.62 L929.20,564.04 L930.70,563.47 L932.20,562.90 L933.70,562.34 L935.20,561.80 L936.70,561.25 L938.20,560.72 L939.70,560.19 L941.20,559.67 L942.70,559.16 L944.20,558.65 L945.70,558.15 L947.20,557.66 L948.70,557.17 L950.20,556.69 L951.70,556.22 L953.20,555.75 L954.70,555.28 L956.20,554.82 L957.70,554.37 L959.20,553.92 L960.70,553.48 L962.20,553.04 L963.70,552.60 L965.20,552.17 L966.70,551.74 L968.20,551.32 L969.70,550.90 L971.20,550.48 L972.70,550.07 L974.20,549.66 L975.70,549.26 L977.20,548.86 L978.70,548.46 L980.20,548.07 L981.70,547.68 L983.20,547.30 L984.70,546.92 L986.20,546.54 L987.70,546.17 L989.20,545.80 L990.70,545.43 L992.20,545.07 L993.70,544.71 L995.20,544.35 L996.70,544.00 L998.20,543.65 L999.70,543.31 L1001.20,542.96 L1002.70,542.63 L1004.20,542.29 L1005.70,541.96 L1007.20,541.63 L1008.70,541.30 L1010.20,540.98 L1011.70,540.66 L1013.20,540.35 L1014.70,540.04 L1016.20,539.73 L1017.70,539.42 L1019.20,539.12 L1020.70,538.82 L1022.20,538.52 L1023.70,538.23 L1025.20,537.94 L1026.70,537.65 L1028.20,537.36 L1029.70,537.08 L1031.20,536.80 L1032.70,536.52 L1034.20,536.25 L1035.70,535.98 L1037.20,535.71 L1038.70,535.45 L1040.20,535.18 L1041.70,534.92 L1043.20,534.66 L1044.70,534.41 L1046.20,534.16 L1047.70,533.91 L1049.20,533.66 L1050.70,533.41 L1052.20,533.17 L1053.70,532.93 L1055.20,532.69 L1056.70,532.46 L1058.20,532.22 L1059.70,531.99 L1061.20,531.76 L1062.70,531.54 L1064.20,531.31 L1065.70,531.09 L1067.20,530.87 L1068.70,530.65 L1070.20,530.43 L1071.70,530.22 L1073.20,530.01 L1074.70,529.80 L1076.20,529.59 L1077.70,529.39 L1079.20,529.18 L1080.70,528.98 L1082.20,528.78 L1083.70,528.58 L1085.20,528.38 L1086.70,528.19 L1088.20,528.00 L1089.70,527.80 L1091.20,527.61 L1092.70,527.43 L1094.20,527.24 L1095.70,527.05 L1097.20,526.87 L1098.70,526.69 L1100.20,526.51 L1101.70,526.33 L1103.20,526.15 L1104.70,525.98 L1106.20,525.80 L1107.70,525.63 L1109.20,525.46 L1110.70,525.29 L1112.20,525.12 L1113.70,524.95 L1115.20,524.78 L1116.70,524.62 L1118.20,524.45 L1119.70,524.29 L1121.20,524.13 L1122.70,523.96 L1124.20,523.80 L1125.70,523.64 L1127.20,523.49 L1128.70,523.33 L1130.20,523.17 L1131.70,523.02 L1133.20,522.86 L1134.70,522.71 L1136.20,522.56 L1137.70,522.40 L1139.20,522.25 L1140.70,522.10 L1142.20,521.95 L1143.70,521.80 L1145.20,521.65 L1146.70,521.51 L1148.20,521.36 L1149.70,521.21 L1151.20,521.06 L1152.70,520.92 L1154.20,520.77 L1155.70,520.63 L1157.20,520.48 L1158.70,520.34 L1160.20,520.19 L1161.70,520.05 L1163.20,519.91 L1164.70,519.76 L1166.20,519.62 L1167.70,519.48 L1169.20,519.34 L1170.70,519.19 L1172.20,519.05 L1173.70,518.91 L1175.20,518.77 L1176.70,518.62 L1177.40,518.56" fill="none" stroke="#1f22f0" stroke-width="2.2" stroke-linejoin="round"/>
<path d="M803.7,566.7 L803.8,530 C803.9,505 804.5,499 805.3,501 C806.2,503 806.8,515 807.5,530 L813.6,655 C814.2,664 815.6,665 816.6,661.5 L816.70,659.50 L818.20,656.38 L819.70,653.38 L821.20,650.49 L822.70,647.70 L824.20,645.02 L825.70,642.44 L827.20,639.96 L828.70,637.57 L830.20,635.27 L831.70,633.05 L833.20,630.92 L834.70,628.86 L836.20,626.88 L837.70,624.97 L839.20,623.13 L840.70,621.35 L842.20,619.63 L843.70,617.97 L845.20,616.37 L846.70,614.81 L848.20,613.30 L849.70,611.83 L851.20,610.40 L852.70,609.02 C857,607 860,604.6 866,604.5 L1177.8,604.5" fill="none" stroke="#e6322e" stroke-width="2.2" stroke-linejoin="round"/>
</g>
<rect x="802.4" y="449.8" width="393.19999999999993" height="226.59999999999997" fill="none" stroke="#555" stroke-width="1.4"/>
<line x1="800.4" y1="639.46" x2="802.4" y2="639.46" stroke="#333" stroke-width="0.6"/>
<line x1="800.4" y1="612.59" x2="802.4" y2="612.59" stroke="#333" stroke-width="0.6"/>
<line x1="800.4" y1="593.53" x2="802.4" y2="593.53" stroke="#333" stroke-width="0.6"/>
<line x1="800.4" y1="578.74" x2="802.4" y2="578.74" stroke="#333" stroke-width="0.6"/>
<line x1="800.4" y1="566.65" x2="802.4" y2="566.65" stroke="#333" stroke-width="0.6"/>
<line x1="800.4" y1="556.44" x2="802.4" y2="556.44" stroke="#333" stroke-width="0.6"/>
<line x1="800.4" y1="547.59" x2="802.4" y2="547.59" stroke="#333" stroke-width="0.6"/>
<line x1="800.4" y1="539.78" x2="802.4" y2="539.78" stroke="#333" stroke-width="0.6"/>
<line x1="798.9" y1="532.80" x2="802.4" y2="532.80" stroke="#333" stroke-width="0.9"/>
<line x1="800.4" y1="486.86" x2="802.4" y2="486.86" stroke="#333" stroke-width="0.6"/>
<line x1="800.4" y1="459.99" x2="802.4" y2="459.99" stroke="#333" stroke-width="0.6"/>
<line x1="825.60" y1="676.4" x2="825.60" y2="679.9" stroke="#333" stroke-width="0.9"/>
<g transform="translate(825.00,704.00) rotate(-30)"><text x="-30.25" y="3.80" font-size="11.01" fill="#222" textLength="60.52" lengthAdjust="spacingAndGlyphs">04-03 12:00</text></g>
<line x1="871.70" y1="676.4" x2="871.70" y2="679.9" stroke="#333" stroke-width="0.9"/>
<g transform="translate(871.10,704.00) rotate(-30)"><text x="-30.25" y="3.80" font-size="11.01" fill="#222" textLength="60.52" lengthAdjust="spacingAndGlyphs">04-03 18:00</text></g>
<line x1="917.80" y1="676.4" x2="917.80" y2="679.9" stroke="#333" stroke-width="0.9"/>
<g transform="translate(917.20,704.00) rotate(-30)"><text x="-30.25" y="3.80" font-size="11.01" fill="#222" textLength="60.52" lengthAdjust="spacingAndGlyphs">04-04 00:00</text></g>
<line x1="963.90" y1="676.4" x2="963.90" y2="679.9" stroke="#333" stroke-width="0.9"/>
<g transform="translate(963.30,704.00) rotate(-30)"><text x="-30.25" y="3.80" font-size="11.01" fill="#222" textLength="60.52" lengthAdjust="spacingAndGlyphs">04-04 06:00</text></g>
<line x1="1010.00" y1="676.4" x2="1010.00" y2="679.9" stroke="#333" stroke-width="0.9"/>
<g transform="translate(1009.40,704.00) rotate(-30)"><text x="-30.25" y="3.80" font-size="11.01" fill="#222" textLength="60.52" lengthAdjust="spacingAndGlyphs">04-04 12:00</text></g>
<line x1="1056.10" y1="676.4" x2="1056.10" y2="679.9" stroke="#333" stroke-width="0.9"/>
<g transform="translate(1055.50,704.00) rotate(-30)"><text x="-30.25" y="3.80" font-size="11.01" fill="#222" textLength="60.52" lengthAdjust="spacingAndGlyphs">04-04 18:00</text></g>
<line x1="1102.20" y1="676.4" x2="1102.20" y2="679.9" stroke="#333" stroke-width="0.9"/>
<g transform="translate(1101.60,704.00) rotate(-30)"><text x="-30.25" y="3.80" font-size="11.01" fill="#222" textLength="60.52" lengthAdjust="spacingAndGlyphs">04-05 00:00</text></g>
<line x1="1148.30" y1="676.4" x2="1148.30" y2="679.9" stroke="#333" stroke-width="0.9"/>
<g transform="translate(1147.70,704.00) rotate(-30)"><text x="-30.25" y="3.80" font-size="11.01" fill="#222" textLength="60.52" lengthAdjust="spacingAndGlyphs">04-05 06:00</text></g>
<line x1="1194.40" y1="676.4" x2="1194.40" y2="679.9" stroke="#333" stroke-width="0.9"/>
<g transform="translate(1193.80,704.00) rotate(-30)"><text x="-30.25" y="3.80" font-size="11.01" fill="#222" textLength="60.52" lengthAdjust="spacingAndGlyphs">04-05 12:00</text></g>
<text x="936.50" y="737.70" font-size="11.59" fill="#222" textLength="125.00" lengthAdjust="spacingAndGlyphs">Time [UTC; year=2023]</text>
<text x="777.3" y="537.3" font-size="11.9" fill="#222">10</text><text x="790.7" y="532.6" font-size="6.4" fill="#222">0</text>
<g transform="translate(765.90,563.10) rotate(-90)"><text x="-36.50" y="3.80" font-size="11.59" fill="#222" textLength="73.00" lengthAdjust="spacingAndGlyphs">Mach Number</text></g>
<text x="843.85" y="443.90" font-size="13.77" fill="#222" textLength="310.28" lengthAdjust="spacingAndGlyphs">Machs on FLs (Median &amp; [1st,9th]-decile regions)</text>
<text x="869.20" y="404.30" font-size="13.77" fill="#222" textLength="249.01" lengthAdjust="spacingAndGlyphs">Observer: EARTH, Source: NOAA13262,</text>
<text x="835.15" y="417.90" font-size="13.77" fill="#222" textLength="315.68" lengthAdjust="spacingAndGlyphs">CME speed: 851.5 km / s, SW speed: 800.0 km / s</text>
<rect x="1102.2" y="606.4" width="88.0" height="64.10000000000002" rx="2.5" fill="#fff" fill-opacity="0.85" stroke="#d6d6d6" stroke-width="1"/>
<line x1="1105.5" y1="615.2" x2="1128.4" y2="615.2" stroke="#111" stroke-width="1.8" stroke-dasharray="1.8 2.9"/>
<text x="1136.00" y="619.20" font-size="11.59" fill="#222" textLength="48.99" lengthAdjust="spacingAndGlyphs">Mach = 1</text>
<line x1="1105.5" y1="630.4" x2="1128.4" y2="630.4" stroke="#111" stroke-width="2.1" stroke-dasharray="14.5 3.2 1.8 10"/>
<text x="1136.00" y="634.40" font-size="11.59" fill="#222" textLength="49.49" lengthAdjust="spacingAndGlyphs">Mach = 3</text>
<line x1="1105.5" y1="646.0" x2="1128.4" y2="646.0" stroke="#1f22f0" stroke-width="2.1"/>
<text x="1136.00" y="650.00" font-size="11.59" fill="#222" textLength="32.99" lengthAdjust="spacingAndGlyphs">Alfven</text>
<line x1="1105.5" y1="661.7" x2="1128.4" y2="661.7" stroke="#e6322e" stroke-width="2.1"/>
<text x="1136.00" y="665.70" font-size="11.59" fill="#222" textLength="15.00" lengthAdjust="spacingAndGlyphs">FM</text>
<g clip-path="url(#c2clip)">
<path d="M1297.00,516.00 L1299.00,514.63 L1301.00,513.27 L1303.00,511.92 L1305.00,510.56 L1307.00,509.21 L1309.00,507.87 L1311.00,506.53 L1313.00,505.20 L1315.00,503.86 L1317.00,502.51 L1319.00,501.14 L1321.00,499.77 L1323.00,498.41 L1325.00,497.05 L1327.00,495.71 L1329.00,494.40 L1331.00,493.12 L1333.00,491.87 L1335.00,490.68 L1337.00,489.53 L1339.00,488.39 L1341.00,487.25 L1343.00,486.14 L1345.00,485.10 L1347.00,484.16 L1349.00,483.35 L1351.00,482.68 L1353.00,482.07 L1355.00,481.50 L1357.00,480.96 L1359.00,480.44 L1361.00,479.96 L1363.00,479.50 L1365.00,479.07 L1367.00,478.65 L1369.00,478.25 L1371.00,477.87 L1373.00,477.50 L1375.00,477.14 L1377.00,476.79 L1379.00,476.44 L1381.00,476.10 L1383.00,475.75 L1385.00,475.41 L1387.00,475.07 L1389.00,474.74 L1391.00,474.41 L1393.00,474.09 L1395.00,473.77 L1397.00,473.46 L1399.00,473.16 L1401.00,472.87 L1403.00,472.58 L1405.00,472.30 L1407.00,472.03 L1409.00,471.77 L1411.00,471.52 L1413.00,471.28 L1415.00,471.04 L1417.00,470.82 L1419.00,470.60 L1421.00,470.40 L1423.00,470.20 L1425.00,470.00 L1427.00,469.81 L1429.00,469.62 L1431.00,469.44 L1433.00,469.26 L1435.00,469.08 L1437.00,468.91 L1439.00,468.74 L1441.00,468.57 L1443.00,468.41 L1445.00,468.25 L1447.00,468.09 L1449.00,467.94 L1451.00,467.78 L1453.00,467.63 L1455.00,467.49 L1457.00,467.34 L1459.00,467.20 L1461.00,467.06 L1463.00,466.92 L1465.00,466.78 L1467.00,466.65 L1469.00,466.52 L1471.00,466.39 L1473.00,466.26 L1475.00,466.13 L1477.00,466.00 L1479.00,465.88 L1481.00,465.75 L1483.00,465.63 L1485.00,465.50 L1487.00,465.38 L1489.00,465.26 L1491.00,465.14 L1493.00,465.02 L1495.00,464.90 L1497.00,464.78 L1499.00,464.66 L1501.00,464.55 L1503.00,464.43 L1505.00,464.32 L1507.00,464.20 L1509.00,464.09 L1511.00,463.98 L1513.00,463.88 L1515.00,463.77 L1517.00,463.67 L1519.00,463.57 L1521.00,463.47 L1523.00,463.37 L1525.00,463.28 L1527.00,463.19 L1529.00,463.10 L1531.00,463.02 L1533.00,462.94 L1535.00,462.86 L1537.00,462.79 L1539.00,462.72 L1541.00,462.65 L1543.00,462.58 L1545.00,462.51 L1547.00,462.45 L1549.00,462.38 L1551.00,462.32 L1553.00,462.26 L1555.00,462.20 L1557.00,462.14 L1559.00,462.08 L1561.00,462.03 L1563.00,461.97 L1565.00,461.92 L1567.00,461.87 L1569.00,461.82 L1571.00,461.77 L1573.00,461.72 L1575.00,461.67 L1577.00,461.63 L1579.00,461.59 L1581.00,461.55 L1583.00,461.51 L1585.00,461.47 L1587.00,461.43 L1589.00,461.39 L1591.00,461.36 L1593.00,461.32 L1595.00,461.29 L1597.00,461.25 L1599.00,461.22 L1601.00,461.19 L1603.00,461.16 L1605.00,461.12 L1607.00,461.09 L1609.00,461.07 L1611.00,461.04 L1613.00,461.01 L1615.00,460.98 L1617.00,460.96 L1619.00,460.93 L1621.00,460.90 L1623.00,460.88 L1625.00,460.86 L1627.00,460.83 L1629.00,460.81 L1631.00,460.79 L1633.00,460.77 L1635.00,460.75 L1637.00,460.73 L1639.00,460.71 L1641.00,460.69 L1643.00,460.67 L1645.00,460.65 L1647.00,460.63 L1649.00,460.61 L1651.00,460.60 L1653.00,460.58 L1655.00,460.56 L1657.00,460.55 L1659.00,460.53 L1661.00,460.52 L1663.00,460.51 L1664.00,460.50 L1664.00,477.00 L1663.00,477.01 L1661.00,477.04 L1659.00,477.07 L1657.00,477.10 L1655.00,477.13 L1653.00,477.15 L1651.00,477.18 L1649.00,477.21 L1647.00,477.24 L1645.00,477.27 L1643.00,477.30 L1641.00,477.33 L1639.00,477.36 L1637.00,477.39 L1635.00,477.42 L1633.00,477.45 L1631.00,477.48 L1629.00,477.52 L1627.00,477.55 L1625.00,477.58 L1623.00,477.61 L1621.00,477.64 L1619.00,477.67 L1617.00,477.70 L1615.00,477.74 L1613.00,477.77 L1611.00,477.80 L1609.00,477.83 L1607.00,477.87 L1605.00,477.90 L1603.00,477.93 L1601.00,477.97 L1599.00,478.00 L1597.00,478.04 L1595.00,478.07 L1593.00,478.11 L1591.00,478.15 L1589.00,478.19 L1587.00,478.23 L1585.00,478.27 L1583.00,478.31 L1581.00,478.35 L1579.00,478.39 L1577.00,478.43 L1575.00,478.48 L1573.00,478.52 L1571.00,478.57 L1569.00,478.61 L1567.00,478.66 L1565.00,478.71 L1563.00,478.76 L1561.00,478.81 L1559.00,478.86 L1557.00,478.91 L1555.00,478.96 L1553.00,479.02 L1551.00,479.07 L1549.00,479.13 L1547.00,479.19 L1545.00,479.24 L1543.00,479.30 L1541.00,479.36 L1539.00,479.43 L1537.00,479.49 L1535.00,479.56 L1533.00,479.62 L1531.00,479.69 L1529.00,479.76 L1527.00,479.83 L1525.00,479.91 L1523.00,479.98 L1521.00,480.06 L1519.00,480.14 L1517.00,480.22 L1515.00,480.30 L1513.00,480.39 L1511.00,480.47 L1509.00,480.56 L1507.00,480.65 L1505.00,480.74 L1503.00,480.84 L1501.00,480.93 L1499.00,481.03 L1497.00,481.13 L1495.00,481.23 L1493.00,481.34 L1491.00,481.45 L1489.00,481.55 L1487.00,481.67 L1485.00,481.78 L1483.00,481.89 L1481.00,482.01 L1479.00,482.13 L1477.00,482.25 L1475.00,482.37 L1473.00,482.50 L1471.00,482.63 L1469.00,482.76 L1467.00,482.89 L1465.00,483.03 L1463.00,483.16 L1461.00,483.31 L1459.00,483.45 L1457.00,483.60 L1455.00,483.75 L1453.00,483.90 L1451.00,484.06 L1449.00,484.22 L1447.00,484.39 L1445.00,484.56 L1443.00,484.73 L1441.00,484.90 L1439.00,485.08 L1437.00,485.27 L1435.00,485.46 L1433.00,485.65 L1431.00,485.84 L1429.00,486.04 L1427.00,486.25 L1425.00,486.46 L1423.00,486.67 L1421.00,486.89 L1419.00,487.11 L1417.00,487.35 L1415.00,487.61 L1413.00,487.88 L1411.00,488.16 L1409.00,488.46 L1407.00,488.77 L1405.00,489.10 L1403.00,489.43 L1401.00,489.78 L1399.00,490.13 L1397.00,490.50 L1395.00,490.87 L1393.00,491.25 L1391.00,491.64 L1389.00,492.04 L1387.00,492.44 L1385.00,492.85 L1383.00,493.26 L1381.00,493.68 L1379.00,494.11 L1377.00,494.54 L1375.00,494.99 L1373.00,495.44 L1371.00,495.91 L1369.00,496.40 L1367.00,496.90 L1365.00,497.42 L1363.00,497.96 L1361.00,498.51 L1359.00,499.09 L1357.00,499.69 L1355.00,500.32 L1353.00,500.97 L1351.00,501.65 L1349.00,502.36 L1347.00,503.14 L1345.00,503.99 L1343.00,504.92 L1341.00,505.92 L1339.00,506.98 L1337.00,508.12 L1335.00,509.39 L1333.00,510.85 L1331.00,512.47 L1329.00,514.22 L1327.00,516.05 L1325.00,517.94 L1323.00,519.85 L1321.00,521.74 L1319.00,523.58 L1317.00,525.33 L1315.00,526.95 L1313.00,528.41 L1311.00,529.77 L1309.00,531.09 L1307.00,532.37 L1305.00,533.59 L1303.00,534.77 L1301.00,535.90 L1299.00,536.98 L1297.00,538.00Z" fill="#5b5bf0" fill-opacity="0.38"/>
<path d="M1295.5,517 C1300,512 1308,510 1316,509 C1322,511 1326,516 1326,521 C1318,525 1306,535 1298,541 Z" fill="#c0508a" fill-opacity="0.4"/>
<line x1="1294.8" y1="526.5" x2="1682.6" y2="526.5" stroke="#111" stroke-width="2.1" stroke-dasharray="9.6 2.8 1.8 2.8"/>
<line x1="1294.8" y1="563.0" x2="1682.6" y2="563.0" stroke="#111" stroke-width="1.7" stroke-dasharray="1.7 2.6"/>
<path d="M1296.3,529 L1299.30,528.20 L1300.80,526.94 L1302.30,525.71 L1303.80,524.51 L1305.30,523.34 L1306.80,522.21 L1308.30,521.11 L1309.80,520.04 L1311.30,519.02 L1312.80,518.02 L1314.30,517.07 L1315.80,516.18 L1317.30,515.34 L1318.80,514.52 L1320.30,513.72 L1321.80,512.91 L1323.30,512.08 L1324.80,511.22 L1326.30,510.31 L1327.80,509.38 L1329.30,508.43 L1330.80,507.46 L1332.30,506.49 L1333.80,505.53 L1335.30,504.57 L1336.80,503.64 L1338.30,502.70 L1339.80,501.75 L1341.30,500.80 L1342.80,499.86 L1344.30,498.94 L1345.80,498.06 L1347.30,497.23 L1348.80,496.45 L1350.30,495.70 L1351.80,494.98 L1353.30,494.29 L1354.80,493.63 L1356.30,492.99 L1357.80,492.37 L1359.30,491.77 L1360.80,491.19 L1362.30,490.62 L1363.80,490.05 L1365.30,489.50 L1366.80,488.95 L1368.30,488.41 L1369.80,487.88 L1371.30,487.36 L1372.80,486.86 L1374.30,486.37 L1375.80,485.90 L1377.30,485.44 L1378.80,485.00 L1380.30,484.58 L1381.80,484.18 L1383.30,483.80 L1384.80,483.44 L1386.30,483.08 L1387.80,482.74 L1389.30,482.41 L1390.80,482.09 L1392.30,481.78 L1393.80,481.48 L1395.30,481.19 L1396.80,480.90 L1398.30,480.62 L1399.80,480.35 L1401.30,480.09 L1402.80,479.84 L1404.30,479.59 L1405.80,479.34 L1407.30,479.11 L1408.80,478.87 L1410.30,478.64 L1411.80,478.42 L1413.30,478.20 L1414.80,477.99 L1416.30,477.78 L1417.80,477.57 L1419.30,477.37 L1420.80,477.18 L1422.30,476.99 L1423.80,476.81 L1425.30,476.63 L1426.80,476.45 L1428.30,476.29 L1429.80,476.12 L1431.30,475.96 L1432.80,475.80 L1434.30,475.65 L1435.80,475.50 L1437.30,475.35 L1438.80,475.20 L1440.30,475.06 L1441.80,474.92 L1443.30,474.78 L1444.80,474.65 L1446.30,474.53 L1447.80,474.40 L1449.30,474.29 L1450.80,474.18 L1452.30,474.07 L1453.80,473.97 L1455.30,473.88 L1456.80,473.78 L1458.30,473.69 L1459.80,473.60 L1461.30,473.51 L1462.80,473.43 L1464.30,473.35 L1465.80,473.26 L1467.30,473.18 L1468.80,473.10 L1470.30,473.03 L1471.80,472.95 L1473.30,472.88 L1474.80,472.81 L1476.30,472.74 L1477.80,472.68 L1479.30,472.61 L1480.80,472.55 L1482.30,472.49 L1483.80,472.43 L1485.30,472.37 L1486.80,472.31 L1488.30,472.26 L1489.80,472.21 L1491.30,472.16 L1492.80,472.11 L1494.30,472.06 L1495.80,472.01 L1497.30,471.96 L1498.80,471.92 L1500.30,471.87 L1501.80,471.83 L1503.30,471.78 L1504.80,471.74 L1506.30,471.70 L1507.80,471.66 L1509.30,471.62 L1510.80,471.58 L1512.30,471.54 L1513.80,471.50 L1515.30,471.46 L1516.80,471.43 L1518.30,471.39 L1519.80,471.35 L1521.30,471.32 L1522.80,471.29 L1524.30,471.25 L1525.80,471.22 L1527.30,471.19 L1528.80,471.16 L1530.30,471.13 L1531.80,471.10 L1533.30,471.07 L1534.80,471.04 L1536.30,471.01 L1537.80,470.98 L1539.30,470.95 L1540.80,470.92 L1542.30,470.90 L1543.80,470.87 L1545.30,470.85 L1546.80,470.82 L1548.30,470.80 L1549.80,470.78 L1551.30,470.75 L1552.80,470.73 L1554.30,470.71 L1555.80,470.69 L1557.30,470.67 L1558.80,470.64 L1560.30,470.62 L1561.80,470.60 L1563.30,470.58 L1564.80,470.56 L1566.30,470.54 L1567.80,470.52 L1569.30,470.50 L1570.80,470.48 L1572.30,470.46 L1573.80,470.44 L1575.30,470.42 L1576.80,470.39 L1578.30,470.37 L1579.80,470.35 L1581.30,470.33 L1582.80,470.31 L1584.30,470.28 L1585.80,470.26 L1587.30,470.24 L1588.80,470.21 L1590.30,470.19 L1591.80,470.16 L1593.30,470.14 L1594.80,470.11 L1596.30,470.09 L1597.80,470.06 L1599.30,470.04 L1600.80,470.01 L1602.30,469.98 L1603.80,469.96 L1605.30,469.93 L1606.80,469.91 L1608.30,469.88 L1609.80,469.86 L1611.30,469.84 L1612.80,469.81 L1614.30,469.79 L1615.80,469.77 L1617.30,469.75 L1618.80,469.72 L1620.30,469.70 L1621.80,469.69 L1623.30,469.67 L1624.80,469.65 L1626.30,469.63 L1627.80,469.62 L1629.30,469.61 L1630.80,469.59 L1632.30,469.58 L1633.80,469.57 L1635.30,469.56 L1636.80,469.55 L1638.30,469.53 L1639.80,469.52 L1641.30,469.51 L1642.80,469.50 L1644.30,469.49 L1645.80,469.48 L1647.30,469.47 L1648.80,469.46 L1650.30,469.45 L1651.80,469.45 L1653.30,469.44 L1654.80,469.43 L1656.30,469.42 L1657.80,469.42 L1659.30,469.41 L1660.80,469.41 L1662.30,469.40 L1663.80,469.40 L1663.90,469.40" fill="none" stroke="#1f22f0" stroke-width="2.2"/>
<path d="M1295.1,655.4 L1295.6,560 C1295.8,535 1296.5,528 1298.5,528.5 C1300.5,529 1302,526 1305,523.5 C1309,519.5 1312.5,516.5 1316,516.5 C1320,516.8 1324,518.8 1332,519.6 L1664.6,519.8" fill="none" stroke="#e6322e" stroke-width="2.1" stroke-linejoin="round"/>
</g>
<rect x="1294.8" y="449.8" width="387.79999999999995" height="226.59999999999997" fill="none" stroke="#555" stroke-width="1.4"/>
<line x1="1292.8" y1="670.64" x2="1294.8" y2="670.64" stroke="#333" stroke-width="0.6"/>
<line x1="1292.8" y1="663.18" x2="1294.8" y2="663.18" stroke="#333" stroke-width="0.6"/>
<line x1="1292.8" y1="657.08" x2="1294.8" y2="657.08" stroke="#333" stroke-width="0.6"/>
<line x1="1292.8" y1="651.93" x2="1294.8" y2="651.93" stroke="#333" stroke-width="0.6"/>
<line x1="1292.8" y1="647.46" x2="1294.8" y2="647.46" stroke="#333" stroke-width="0.6"/>
<line x1="1292.8" y1="643.52" x2="1294.8" y2="643.52" stroke="#333" stroke-width="0.6"/>
<line x1="1291.3" y1="640.00" x2="1294.8" y2="640.00" stroke="#333" stroke-width="0.9"/>
<line x1="1292.8" y1="616.82" x2="1294.8" y2="616.82" stroke="#333" stroke-width="0.6"/>
<line x1="1292.8" y1="603.26" x2="1294.8" y2="603.26" stroke="#333" stroke-width="0.6"/>
<line x1="1292.8" y1="593.64" x2="1294.8" y2="593.64" stroke="#333" stroke-width="0.6"/>
<line x1="1292.8" y1="586.18" x2="1294.8" y2="586.18" stroke="#333" stroke-width="0.6"/>
<line x1="1292.8" y1="580.08" x2="1294.8" y2="580.08" stroke="#333" stroke-width="0.6"/>
<line x1="1292.8" y1="574.93" x2="1294.8" y2="574.93" stroke="#333" stroke-width="0.6"/>
<line x1="1292.8" y1="570.46" x2="1294.8" y2="570.46" stroke="#333" stroke-width="0.6"/>
<line x1="1292.8" y1="566.52" x2="1294.8" y2="566.52" stroke="#333" stroke-width="0.6"/>
<line x1="1291.3" y1="563.00" x2="1294.8" y2="563.00" stroke="#333" stroke-width="0.9"/>
<line x1="1292.8" y1="539.82" x2="1294.8" y2="539.82" stroke="#333" stroke-width="0.6"/>
<line x1="1292.8" y1="526.26" x2="1294.8" y2="526.26" stroke="#333" stroke-width="0.6"/>
<line x1="1292.8" y1="516.64" x2="1294.8" y2="516.64" stroke="#333" stroke-width="0.6"/>
<line x1="1292.8" y1="509.18" x2="1294.8" y2="509.18" stroke="#333" stroke-width="0.6"/>
<line x1="1292.8" y1="503.08" x2="1294.8" y2="503.08" stroke="#333" stroke-width="0.6"/>
<line x1="1292.8" y1="497.93" x2="1294.8" y2="497.93" stroke="#333" stroke-width="0.6"/>
<line x1="1292.8" y1="493.46" x2="1294.8" y2="493.46" stroke="#333" stroke-width="0.6"/>
<line x1="1292.8" y1="489.52" x2="1294.8" y2="489.52" stroke="#333" stroke-width="0.6"/>
<line x1="1291.3" y1="486.00" x2="1294.8" y2="486.00" stroke="#333" stroke-width="0.9"/>
<line x1="1292.8" y1="462.82" x2="1294.8" y2="462.82" stroke="#333" stroke-width="0.6"/>
<line x1="1317.70" y1="676.4" x2="1317.70" y2="679.9" stroke="#333" stroke-width="0.9"/>
<g transform="translate(1317.10,704.00) rotate(-30)"><text x="-30.25" y="3.80" font-size="11.01" fill="#222" textLength="60.52" lengthAdjust="spacingAndGlyphs">04-03 12:00</text></g>
<line x1="1363.10" y1="676.4" x2="1363.10" y2="679.9" stroke="#333" stroke-width="0.9"/>
<g transform="translate(1362.50,704.00) rotate(-30)"><text x="-30.25" y="3.80" font-size="11.01" fill="#222" textLength="60.52" lengthAdjust="spacingAndGlyphs">04-03 18:00</text></g>
<line x1="1408.50" y1="676.4" x2="1408.50" y2="679.9" stroke="#333" stroke-width="0.9"/>
<g transform="translate(1407.90,704.00) rotate(-30)"><text x="-30.25" y="3.80" font-size="11.01" fill="#222" textLength="60.52" lengthAdjust="spacingAndGlyphs">04-04 00:00</text></g>
<line x1="1453.90" y1="676.4" x2="1453.90" y2="679.9" stroke="#333" stroke-width="0.9"/>
<g transform="translate(1453.30,704.00) rotate(-30)"><text x="-30.25" y="3.80" font-size="11.01" fill="#222" textLength="60.52" lengthAdjust="spacingAndGlyphs">04-04 06:00</text></g>
<line x1="1499.30" y1="676.4" x2="1499.30" y2="679.9" stroke="#333" stroke-width="0.9"/>
<g transform="translate(1498.70,704.00) rotate(-30)"><text x="-30.25" y="3.80" font-size="11.01" fill="#222" textLength="60.52" lengthAdjust="spacingAndGlyphs">04-04 12:00</text></g>
<line x1="1544.70" y1="676.4" x2="1544.70" y2="679.9" stroke="#333" stroke-width="0.9"/>
<g transform="translate(1544.10,704.00) rotate(-30)"><text x="-30.25" y="3.80" font-size="11.01" fill="#222" textLength="60.52" lengthAdjust="spacingAndGlyphs">04-04 18:00</text></g>
<line x1="1590.10" y1="676.4" x2="1590.10" y2="679.9" stroke="#333" stroke-width="0.9"/>
<g transform="translate(1589.50,704.00) rotate(-30)"><text x="-30.25" y="3.80" font-size="11.01" fill="#222" textLength="60.52" lengthAdjust="spacingAndGlyphs">04-05 00:00</text></g>
<line x1="1635.50" y1="676.4" x2="1635.50" y2="679.9" stroke="#333" stroke-width="0.9"/>
<g transform="translate(1634.90,704.00) rotate(-30)"><text x="-30.25" y="3.80" font-size="11.01" fill="#222" textLength="60.52" lengthAdjust="spacingAndGlyphs">04-05 06:00</text></g>
<line x1="1680.90" y1="676.4" x2="1680.90" y2="679.9" stroke="#333" stroke-width="0.9"/>
<g transform="translate(1680.30,704.00) rotate(-30)"><text x="-30.25" y="3.80" font-size="11.01" fill="#222" textLength="60.52" lengthAdjust="spacingAndGlyphs">04-05 12:00</text></g>
<text x="1426.20" y="737.70" font-size="11.59" fill="#222" textLength="125.00" lengthAdjust="spacingAndGlyphs">Time [UTC; year=2023]</text>
<text x="1269.6" y="490.0" font-size="11.9" fill="#222">10</text><text x="1283.0" y="485.3" font-size="6.4" fill="#222">1</text><text x="1269.6" y="567.0" font-size="11.9" fill="#222">10</text><text x="1283.0" y="562.3" font-size="6.4" fill="#222">0</text><text x="1263.6" y="644.0" font-size="11.9" fill="#222">10</text><text x="1277.0" y="639.3" font-size="6.4" fill="#222">&#8722;1</text>
<g transform="translate(1252.00,563.10) rotate(-90)"><text x="-36.50" y="3.80" font-size="11.59" fill="#222" textLength="73.00" lengthAdjust="spacingAndGlyphs">Mach Number</text></g>
<text x="1333.55" y="443.90" font-size="13.77" fill="#222" textLength="310.28" lengthAdjust="spacingAndGlyphs">Machs on FLs (Median &amp; [1st,9th]-decile regions)</text>
<text x="1355.40" y="404.30" font-size="13.77" fill="#222" textLength="249.01" lengthAdjust="spacingAndGlyphs">Observer: EARTH, Source: NOAA13262,</text>
<text x="1321.35" y="417.90" font-size="13.77" fill="#222" textLength="315.68" lengthAdjust="spacingAndGlyphs">CME speed: 851.5 km / s, SW speed: 300.0 km / s</text>
<rect x="1300.5" y="605.7" width="87.5" height="64.0" rx="2.5" fill="#fff" fill-opacity="0.85" stroke="#d6d6d6" stroke-width="1"/>
<line x1="1303.2" y1="615.0" x2="1326.3" y2="615.0" stroke="#111" stroke-width="1.8" stroke-dasharray="1.8 2.9"/>
<text x="1333.20" y="619.00" font-size="11.59" fill="#222" textLength="48.99" lengthAdjust="spacingAndGlyphs">Mach = 1</text>
<line x1="1303.2" y1="630.4" x2="1326.3" y2="630.4" stroke="#111" stroke-width="2.1" stroke-dasharray="14.5 3.2 1.8 10"/>
<text x="1333.20" y="634.40" font-size="11.59" fill="#222" textLength="49.49" lengthAdjust="spacingAndGlyphs">Mach = 3</text>
<line x1="1303.2" y1="645.8" x2="1326.3" y2="645.8" stroke="#1f22f0" stroke-width="2.1"/>
<text x="1333.20" y="649.80" font-size="11.59" fill="#222" textLength="32.99" lengthAdjust="spacingAndGlyphs">Alfven</text>
<line x1="1303.2" y1="661.2" x2="1326.3" y2="661.2" stroke="#e6322e" stroke-width="2.1"/>
<text x="1333.20" y="665.20" font-size="11.59" fill="#222" textLength="15.00" lengthAdjust="spacingAndGlyphs">FM</text>
</svg>
<div class="t" style="left:589.60px;top:14.17px;font-size:117.68px;line-height:117.68px;font-weight:bold;color:#3d7fc1;transform:scaleX(0.8885);">Shock-Tool</div>
<div class="t" style="left:371.40px;top:202.33px;font-size:24.20px;line-height:24.20px;color:#3d7fc1;transform:scaleX(0.9162);-webkit-text-stroke:0.35px #3d7fc1;">EARTH</div>
<div class="t" style="left:488.40px;top:202.33px;font-size:24.20px;line-height:24.20px;color:#3d7fc1;transform:scaleX(0.9051);-webkit-text-stroke:0.35px #3d7fc1;">PSP</div>
<div class="t" style="left:574.40px;top:202.33px;font-size:24.20px;line-height:24.20px;color:#3d7fc1;transform:scaleX(0.9369);-webkit-text-stroke:0.35px #3d7fc1;">STEREO A</div>
<div class="t" style="left:731.60px;top:202.33px;font-size:24.20px;line-height:24.20px;color:#3d7fc1;transform:scaleX(0.9444);-webkit-text-stroke:0.35px #3d7fc1;">SOLAR ORBITER</div>
<div class="t" style="left:958.60px;top:202.33px;font-size:24.20px;line-height:24.20px;color:#3d7fc1;transform:scaleX(0.9497);-webkit-text-stroke:0.35px #3d7fc1;">BEPI COLOMBO</div>
<div class="t" style="left:1177.20px;top:202.33px;font-size:24.20px;line-height:24.20px;color:#3d7fc1;transform:scaleX(0.9479);-webkit-text-stroke:0.35px #3d7fc1;">ALL</div>
<div class="t" style="left:1260.00px;top:202.33px;font-size:24.20px;line-height:24.20px;color:#3d7fc1;transform:scaleX(0.9552);-webkit-text-stroke:0.35px #3d7fc1;">OPTIONS</div>
<div style="position:absolute;left:371.3px;top:224px;width:74.6px;height:2px;background:#3d7fc1"></div>
<div class="t" style="left:269.00px;top:320.53px;font-size:46.67px;line-height:46.67px;font-weight:bold;color:#3d7fc1;transform:scaleX(0.8464);">ADAPT</div>
<div class="t" style="left:1106.60px;top:320.24px;font-size:47.25px;line-height:47.25px;font-weight:bold;color:#3d7fc1;transform:scaleX(0.8209);">SHOCK-TOOL</div>
<div class="t" style="left:55.00px;top:753.20px;font-size:14.35px;line-height:14.35px;color:#333;transform:scaleX(0.9524);-webkit-text-stroke:0.3px #333;">Mode : FORECAST</div>
<div class="t" style="left:55.00px;top:796.60px;font-size:14.35px;line-height:14.35px;color:#333;transform:scaleX(1.0217);-webkit-text-stroke:0.3px #333;">Coronal Model : PFSS (rss = 2.5 Rsun)</div>
<div class="t" style="left:55.00px;top:839.70px;font-size:14.35px;line-height:14.35px;color:#333;transform:scaleX(1.0418);-webkit-text-stroke:0.3px #333;">Magnetogram : ADAPT-1 (2023-04-03 06:00:00 UTC)</div>
<div class="t" style="left:55.00px;top:883.40px;font-size:14.35px;line-height:14.35px;color:#333;transform:scaleX(1.0465);-webkit-text-stroke:0.3px #333;">Reliability Test (WL) : unknown</div>
<div class="t" style="left:101.40px;top:937.10px;font-size:14.35px;line-height:14.35px;color:#333;transform:scaleX(0.9452);-webkit-text-stroke:0.3px #333;">DOWNLOAD DATA</div>
<div style="position:absolute;left:90px;top:941.5px;width:0;height:0;border-left:6.5px solid #2e2e2e;border-top:3.2px solid transparent;border-bottom:3.2px solid transparent"></div>
<div class="t" style="left:350.00px;top:937.10px;font-size:14.35px;line-height:14.35px;color:#111;transform:scaleX(1.0237);-webkit-text-stroke:0.3px #111;">Download image</div>
<div class="btn" style="left:987.4px;top:762.5px;width:108px;height:43px"></div>
<div class="t" style="left:992.00px;top:776.94px;font-size:17.25px;line-height:17.25px;font-weight:bold;color:#fff;transform:scaleX(1.0080);">NOAA13262</div>
<div class="btn" style="left:1117.2px;top:762.5px;width:108px;height:43px"></div>
<div class="t" style="left:1122.00px;top:776.94px;font-size:17.25px;line-height:17.25px;font-weight:bold;color:#fff;transform:scaleX(0.9976);">NOAA13264</div>
<div class="btn" style="left:1247.0px;top:762.5px;width:108px;height:43px"></div>
<div class="t" style="left:1252.00px;top:776.94px;font-size:17.25px;line-height:17.25px;font-weight:bold;color:#fff;transform:scaleX(1.0080);">NOAA13266</div>
<div class="btn" style="left:1376.5px;top:762.5px;width:108px;height:43px"></div>
<div class="t" style="left:1381.50px;top:776.94px;font-size:17.25px;line-height:17.25px;font-weight:bold;color:#fff;transform:scaleX(1.0080);">NOAA13267</div>
<div class="t" style="left:1121.60px;top:833.19px;font-size:15.07px;line-height:15.07px;color:#e3342c;transform:scaleX(0.9738);-webkit-text-stroke:0.45px #e3342c;">There is no plot for ALL spacecrafts</div>
</body></html>
